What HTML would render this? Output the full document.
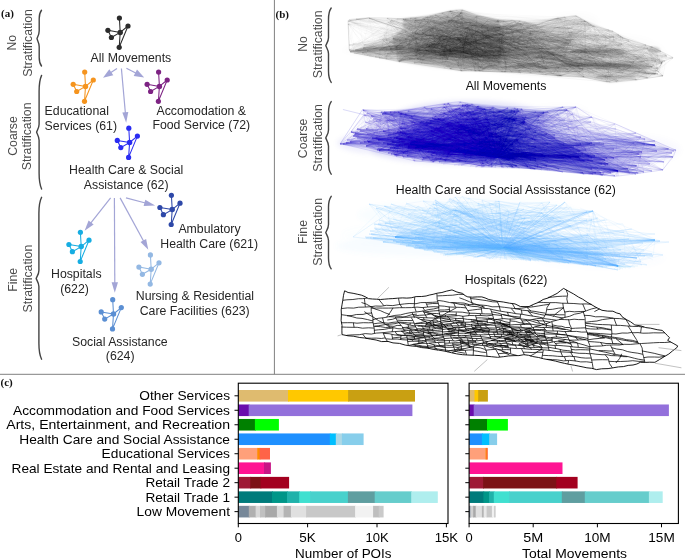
<!DOCTYPE html>
<html><head><meta charset="utf-8"><title>figure</title><style>html,body{margin:0;padding:0;background:#fff;width:685px;height:558px;overflow:hidden;}svg{display:block;will-change:transform;}text{font-family:"Liberation Sans", sans-serif;}</style></head><body>
<svg width="685" height="558" viewBox="0 0 685 558"><rect width="685" height="558" fill="#fff"/><line x1="274.4" y1="0" x2="274.4" y2="374.3" stroke="#808080" stroke-width="1"/><line x1="0" y1="374.3" x2="685" y2="374.3" stroke="#808080" stroke-width="1"/><defs><filter id="bl3" x="-10%" y="-30%" width="120%" height="160%"><feGaussianBlur stdDeviation="2.5"/></filter><filter id="bl1" x="-10%" y="-30%" width="120%" height="160%"><feGaussianBlur stdDeviation="1.2"/></filter></defs><g filter="url(#bl1)"><path d="M403.0 29.0L403.0 19.0L427.0 17.0L450.0 11.0L462.0 10.0L477.0 15.0L498.0 20.0L520.0 21.0L537.0 25.0L557.0 18.0L576.0 16.0L592.0 25.0L570.0 40.0L565.0 55.0L600.0 62.0L640.0 68.0L655.0 75.0L636.0 80.0L610.0 83.0L584.0 77.0L558.0 76.0L531.0 73.0L505.0 72.0L461.0 71.0L420.0 65.0L399.0 61.5L352.0 53.0L375.0 42.0L392.0 38.0Z" fill="#000" fill-opacity="0.07"/><path d="M403.0 29.0L403.0 19.0L427.0 17.0L450.0 11.0L462.0 10.0L477.0 15.0L498.0 20.0L505.0 40.0L500.0 66.0L461.0 70.0L420.0 64.0L399.0 61.0L392.0 38.0Z" fill="#000" fill-opacity="0.12"/><ellipse cx="598" cy="51" rx="28" ry="2.2" fill="#000" fill-opacity="0.25" transform="rotate(0 598 51)"/><ellipse cx="605" cy="65.5" rx="45" ry="2.5" fill="#000" fill-opacity="0.25" transform="rotate(2 605 65.5)"/><ellipse cx="615" cy="77" rx="20" ry="2.5" fill="#000" fill-opacity="0.15" transform="rotate(0 615 77)"/><ellipse cx="654" cy="50" rx="6" ry="3" fill="#000" fill-opacity="0.2" transform="rotate(0 654 50)"/><ellipse cx="470" cy="55" rx="60" ry="3" fill="#000" fill-opacity="0.12" transform="rotate(0 470 55)"/><ellipse cx="380" cy="49" rx="25" ry="2.5" fill="#000" fill-opacity="0.2" transform="rotate(-5 380 49)"/></g><g filter="url(#bl3)"><ellipse cx="452" cy="42" rx="72.0" ry="25.6" fill="#000" fill-opacity="0.036" transform="rotate(0 452 42)"/><ellipse cx="455" cy="52" rx="64.0" ry="8.0" fill="#000" fill-opacity="0.024" transform="rotate(0 455 52)"/><ellipse cx="530" cy="60" rx="40.0" ry="16.0" fill="#000" fill-opacity="0.012" transform="rotate(0 530 60)"/><ellipse cx="610" cy="55" rx="56.0" ry="20.8" fill="#000" fill-opacity="0.012" transform="rotate(0 610 55)"/><ellipse cx="610" cy="66" rx="56.0" ry="4.8" fill="#000" fill-opacity="0.018" transform="rotate(0 610 66)"/><ellipse cx="590" cy="51" rx="32.0" ry="4.8" fill="#000" fill-opacity="0.008" transform="rotate(0 590 51)"/><ellipse cx="378" cy="50" rx="35.2" ry="4.8" fill="#000" fill-opacity="0.016" transform="rotate(0 378 50)"/><ellipse cx="575" cy="22" rx="24.0" ry="9.6" fill="#000" fill-opacity="0.01" transform="rotate(0 575 22)"/><ellipse cx="530" cy="68" rx="48.0" ry="6.4" fill="#000" fill-opacity="0.014" transform="rotate(0 530 68)"/></g><path d="M348.0 20.8L349.2 19.5L368.9 17.6L403.0 18.7L426.7 16.8L450.3 10.8L462.2 9.7L476.6 15.5L497.6 19.5L520.0 20.8L536.5 24.7L557.5 18.1L576.0 15.5L591.7 24.7L612.7 31.3L623.2 37.8L652.1 47.0L673.2 57.5L662.6 61.5L657.4 70.7L662.6 76.0L636.4 79.9L610.0 82.5L583.8 77.3L557.5 76.0L531.3 73.3L505.0 72.0L461.0 70.7L399.0 61.5L350.5 52.3L349.2 49.7Z" fill="none" stroke="#000" stroke-opacity="0.15" stroke-width="0.6"/><g fill="none" stroke="#000" stroke-opacity="0.03" stroke-width="0.5"><path d="M430 49L481 56M548 68L484 42M540 53L605 78M443 51L471 43M412 32L420 47M544 53L413 34M493 36L524 58M493 36L446 33M582 21L613 75M495 56L448 51M473 33L458 37M431 43L465 29M584 77L542 29M523 35L406 36M414 52L461 12M495 56L506 51M375 54L407 60M485 37L505 72M617 64L580 48M460 49L419 55M552 73L623 38M412 32L463 55"/><path d="M487 35L415 56M435 29L418 40M434 26L457 52M414 52L386 56M663 62L634 51M421 38L440 30M404 47L453 61M483 51L470 29M458 50L468 54M424 54L471 43M423 18L462 27M432 45L438 33M490 40L552 39M441 66L419 55M462 38L462 10M466 58L463 49M409 26L426 50M458 50L413 34M426 40L390 52M444 52L582 64M595 52L582 64M499 70L566 55"/><path d="M459 26L414 52M483 51L446 57M446 30L453 61M496 50L435 55M383 48L401 52M450 38L443 35M548 68L555 55M490 38L438 33M526 37L483 70M444 56L479 31M427 17L490 59M424 38L396 21M544 75L591 54M510 60L367 51M462 27L583 65M351 51L430 32M579 23L552 39M446 54L548 52M425 24L481 56M564 28L441 52M464 46L417 26M426 51L431 43"/><path d="M450 39L493 29M593 58L520 68M409 36L410 47M483 70L471 43M483 51L552 73M592 60L518 23M448 60L373 49M439 23L467 43M435 55L465 41M462 48L489 35M429 35L499 70M508 44L607 66M519 72L529 24M393 43L385 50M595 52L499 37M436 58L424 54M400 50L410 56M534 69L556 69M469 39L462 38M506 56L540 24M508 39L493 29M502 50L576 16"/><path d="M492 52L503 70M530 69L610 82M538 27L530 68M441 52L468 28M470 34L607 66M506 56L555 55M483 51L497 66M419 50L421 39M408 48L367 51M463 51L483 51M542 29L499 40M454 31L459 26M457 45L452 53M506 51L441 52M493 36L490 43M447 42L384 35M454 31L382 39M474 44L465 41M572 33L497 66M424 54L443 35M521 38L494 38M399 49L409 36"/><path d="M572 65L558 76M425 24L484 42M418 40L396 47M612 62L592 60M545 61L493 36M495 59L505 72M617 39L446 54M452 53L470 34M481 67L446 58M409 44L462 35M432 48L471 71M443 35L458 50M446 54L415 49M444 25L525 54M515 56L521 38M492 44L474 42M457 27L462 27M438 46L450 39M529 69L490 56M470 47L454 31M417 50L474 42M409 26L497 47"/><path d="M421 53L431 52M440 40L423 18M426 30L508 39M609 63L617 39M454 31L446 23M406 49L406 47M441 52L474 44M360 49L422 45M479 60L463 51M530 57L654 74M531 73L448 34M554 63L594 27M471 45L446 35M421 39L482 33M483 51L490 38M424 38L431 59M415 49L461 47M490 64L544 57M468 28L607 66M349 20L427 26M507 71L525 42M441 45L384 35"/><path d="M467 43L400 34M450 54L476 42M604 46L617 67M506 51L412 32M478 20L423 18M475 58L463 49M595 52L620 49M463 39L549 22M465 49L483 46M432 27L425 24M486 36L634 51M593 66L583 74M428 53L439 53M575 66L523 35M409 26L407 28M485 31L530 57M436 58L518 69M439 51L382 39M421 36L487 35M441 52L474 49M545 61L506 53M604 46L623 38"/><path d="M385 57L432 27M409 36L444 56M555 55L623 54M469 28L490 64M506 51L519 41M433 20L462 22M431 52L523 35M460 12L500 48M579 23L572 33M410 47L429 35M482 33L490 64M438 46L525 42M444 50L492 44M410 47L406 47M446 33L415 56M465 29L452 11M433 27L433 28M444 56L441 66M399 49L478 20M446 58L497 66M458 50L441 52M466 58L485 37"/><path d="M451 52L444 52M444 52L509 68M441 66L497 47M444 50L462 10M419 55L428 47M593 58L471 71M473 33L379 39M444 50L414 52M499 65L508 44M463 51L421 33M379 39L467 43M506 69L509 68M443 51L503 72M351 51L557 60M548 68L564 65M505 40L453 61M465 41L491 54M530 68L520 21M484 42L509 43M468 54L473 33M530 59L558 73M349 50L413 34"/><path d="M367 51L401 52M470 34L490 63M506 69L384 32M506 53L471 43M497 41L462 38M479 31L542 29M502 51L541 57M497 66L503 70M555 55L508 44M382 50L497 47M485 31L448 51M431 52L425 31M470 62L504 29M367 51L423 56M508 39L524 58M583 65L478 20M372 36L434 20M468 54L467 43M488 20L515 56M483 70L475 42M499 70L510 60M441 45L437 48"/><path d="M595 52L613 31M399 49L457 52M524 55L481 56M574 65L505 72M452 53L468 28M403 19L432 27M475 58L457 52M582 64L574 65M495 56L543 74M506 69L437 66M396 47L475 58M399 49L422 45M452 11L464 46M424 38L544 53M470 47L530 59M421 36L425 31M421 33L399 52M497 34L492 44M417 26L493 29M432 45L444 50M419 50L413 34M557 60L478 49"/><path d="M507 71L473 36M477 35L485 37M482 33L439 51M474 49L446 58M469 39L467 43M419 55L461 71M490 63L477 35M533 70L620 49M533 70L474 49M400 50L379 39M532 37L517 68M447 42L462 27M564 28L439 56M452 50L462 35M441 52L423 56M495 61L483 70M426 51L421 38M530 68L519 72M441 52L396 47M430 32L398 53M457 52L607 34M634 43L584 65"/><path d="M483 51L458 37M408 48L503 21M496 50L497 41M521 38L574 65M349 50L390 52M440 44L414 52M400 50L463 39M530 35L497 47M507 71L490 59M426 40L430 32M443 17L452 50M418 40L384 35M519 72L511 71M439 51L529 67M517 68L530 57M571 67L542 29M538 43L474 44M509 68L484 65M579 50L525 54M471 43L444 56M444 52L477 22M421 53L419 50"/><path d="M500 48L471 71M474 44L470 22M463 39L457 45M406 36L471 43M414 52L477 17M628 62L466 58M590 69L507 71M620 49L617 43M421 38L475 42M612 43L504 52M475 42L483 70M397 52L397 61M444 40L501 40M446 36L427 26M426 51L458 50M424 54L462 22M490 47L533 70M452 52L488 20M431 52L426 50M646 69L617 67M448 51L434 20M511 71L452 53"/><path d="M491 54L489 28M609 63L513 30M450 38L495 59M484 65L450 39M411 41L433 64M420 47L390 59M495 56L530 59M452 53L451 52M625 77L596 69M448 34L428 47M432 45L415 49M530 59L517 46M524 55L504 52M484 42L530 68M544 53L509 68M426 30L433 28M530 68L579 50M499 65L481 24M462 10L480 24M477 22L443 17M642 65L530 59M425 24L499 70"/><path d="M495 59L507 67M597 65L610 80M474 44L457 45M500 48L497 34M647 52L617 43M426 48L493 29M448 34L463 39M452 50L463 39M544 64L603 46M525 54L484 42M457 40L441 52M495 56L524 55M422 45L446 58M511 71L503 67M457 40L483 70M597 65L499 40M483 51L405 32M490 59L443 35M515 56L554 63M454 50L461 71M440 30L461 12M399 49L397 61"/><path d="M521 38L450 54M406 47L395 47M524 28L519 40M472 57L462 35M385 50L364 33M408 48L420 47M517 68L623 38M470 22L448 34M507 67L463 62M434 26L562 27M452 53L424 64M446 54L471 43M362 42L400 43M399 52L428 46M431 59L446 54M493 29L432 48M437 48L426 51M457 27L482 33M372 47L349 50M540 53L584 35M364 55L360 20M424 38L519 72"/><path d="M446 35L472 57M503 72L390 52M486 36L457 27M418 40L442 23M620 45L552 45M508 44L499 40M454 31L470 62M446 58L438 46M486 36L488 20M499 37L426 40M485 37L470 34M424 54L446 58M490 56L483 70M426 51L479 60M399 49L424 38M370 47L364 55M520 68L548 52M424 54L469 29M417 50L483 51M518 23L505 40M508 44L511 71M531 73L612 43"/><path d="M457 52L617 43M443 35L448 34M509 43L607 34M420 47L358 43M491 21L411 36M498 20L497 34M458 50L463 49M595 52L563 27M452 52L486 36M444 50L397 52M477 22L462 27M628 62L617 43M469 45L472 57M444 50L508 39M661 52L655 76M439 51L383 48M426 51L383 48M463 52L443 51M470 34L462 38M524 55L469 28M415 56L385 57M480 24L496 50"/><path d="M364 55L396 21M439 53L409 44M483 46L563 27M476 42L470 47M481 67L427 26M530 68L524 67M450 54L478 45M558 76L492 61M443 17L450 11M658 54L623 54M414 52L399 49M421 53L399 49M609 50L628 48M405 57L433 28M482 33L477 35M502 62L463 39M445 62L433 64M385 58L390 59M431 59L495 61M548 52L530 68M525 42L511 71M556 69L576 16"/><path d="M474 42L467 43M457 45L558 73M502 50L463 49M444 52L441 52M487 35L417 26M447 42L542 29M465 63L432 39M385 58L421 36M399 62L443 17M495 56L441 45M533 70L483 51M465 49L446 58M477 35L419 55M396 47L372 36M470 22L477 16M439 56L450 39M544 64L463 62M475 42L523 53M367 51L404 47M642 65L564 65M650 61L673 58M646 69L434 26"/><path d="M439 53L494 38M410 56L401 52M441 45L465 66M422 45L406 41M432 48L432 45M448 27L465 25M450 54L412 32M432 48L465 29M548 68L505 72M511 71L592 25M396 47L507 71M529 69L503 67M511 71L490 38M444 56L524 58M474 42L471 45M452 50L392 42M440 30L435 29M617 67L518 23M385 50L421 33M495 56L503 67M458 50L433 28M496 27L435 29"/><path d="M431 52L531 26M478 45L446 54M428 47L415 49M454 31L426 40M519 72L463 44M382 50L412 32M396 47L428 47M372 47L400 50M554 63L612 43M506 56L506 53M620 67L615 35M408 48L390 59M443 35L448 60M533 70L541 68M383 39L404 47M401 52L462 48M590 69L529 67M465 25L482 33M446 35L432 45M463 62L446 58M507 67L525 68M575 66L503 67"/><path d="M489 28L594 27M469 29L497 66M469 45L492 61M426 50L444 56M507 71L524 67M393 53L369 18M452 53L487 35M478 45L541 68M459 26L470 22M367 51L392 42M533 70L508 39M509 43L524 67M463 21L636 46M424 54L421 38M524 28L478 45M446 35L449 24M360 51L397 52M454 50L502 62M452 53L385 50M633 65L636 80M644 57L603 46M405 32L426 30"/><path d="M617 67L612 62M364 55L411 36M426 50L484 42M358 43L399 52M554 63L401 52M530 69L408 23M475 42L499 70M446 30L515 56M463 52L497 34M470 22L454 31M504 29L452 23M477 22L628 62M599 48L596 69M580 48L592 60M426 48L463 52M503 21L463 39M396 47L409 36M446 33L430 49M648 61L605 39M468 54L463 49M471 43L473 33M479 60L440 18"/><path d="M444 52L583 60M563 27L415 34M397 61L418 40M470 22L406 47M473 58L593 58M620 45L628 62M466 58L452 53M575 66L490 38M506 69L386 56M617 64L558 76M525 68L426 51M572 65L530 26M457 27L446 57M441 45L468 59M450 39L450 38M367 51L409 44M411 41L423 18M515 56L490 56M524 55L483 70M611 64L590 69M484 65L503 67M483 51L460 12"/><path d="M413 34L497 34M593 59L463 44M426 51L426 50M524 67L490 59M505 40L439 51M444 52L411 36M390 52L350 52M413 34L399 49M580 48L503 21M450 38L446 23M544 64L601 28M422 45L439 53M491 54L448 34M439 53L452 53M541 67L525 54M427 26L407 28M396 47L521 38M483 51L625 77M393 48L490 40M456 26L423 18M413 34L480 24M444 40L457 52"/><path d="M461 68L490 63M452 52L411 36M511 71L440 44M405 32L428 53M403 19L429 29M474 49L471 71M440 44L423 18M466 58L493 29M469 28L502 51M443 51L407 60M463 52L452 50M432 39L557 19M485 31L493 29M458 50L431 52M439 23L445 62M496 50L519 41M405 57L424 38M536 25L552 20M463 51L501 40M491 21L519 40M499 65L497 34M533 70L562 27"/><path d="M446 58L440 40M426 30L421 33M501 50L534 46M497 41L549 22M530 68L461 71M503 21L482 33M540 53L577 19M444 52L506 53M524 28L519 40M440 40L506 53M375 54L369 18M396 47L529 24M383 39L537 65M431 43L499 65M432 45L532 37M530 57L506 72M463 55L452 50M465 29L444 56M484 42L579 23M385 50L392 42M553 53L652 47M446 30L463 21"/><path d="M462 35L457 27M603 46L610 82M468 28L463 49M477 35L433 28M407 60L498 20M465 49L509 43M648 61L529 67M478 45L441 45M470 22L517 46M483 46L478 45M524 55L431 59M400 43L457 52M471 45L466 58M544 60L533 70M626 66L603 46M490 43L465 41M495 61L540 53M458 37L451 11M490 59L465 63M487 27L497 47M471 43L435 29M410 47L439 53"/><path d="M432 16L405 32M533 25L579 23M360 49L460 12M468 54L458 37M518 69L398 53M500 48L441 52M647 52L599 48M489 35L458 37M509 68L540 24M419 50L446 35M617 69L623 54M490 47L645 61M554 63L618 42M441 45L462 35M444 50L428 53M525 68L517 46M496 27L466 58M490 47L456 26M449 24L452 23M451 52L492 44M434 20L440 44M457 40L485 31"/><path d="M537 65L554 63M492 44L508 39M441 66L492 61M473 36L462 27M461 47L446 57M451 52L450 38M469 45L409 36M414 52L423 18M458 37L432 45M426 51L419 55M461 47L451 11M454 50L554 63M452 52L443 35M418 40L468 28M426 51L506 72M444 56L379 39M495 56L420 47M462 35L465 29M484 65L584 35M450 54L479 31M432 45L409 36M549 72L544 57"/><path d="M441 52L469 28M433 20L396 21M426 48L424 54M465 63L452 50M553 57L523 35M428 53L412 32M399 49L439 51M592 60L617 67M397 61L386 56M415 49L492 52M530 35L452 11M477 35L497 34M431 43L457 45M435 29L463 39M454 50L544 75M548 52L462 27M432 39L396 21M490 64L462 43M597 65L461 68M597 65L634 43M603 31L591 54M419 55L421 39"/><path d="M473 36L473 58M510 60L433 20M360 51L446 54M397 52L435 55M459 26L350 52M430 59L495 61M490 47L478 49M426 40L544 64M490 63L524 28M426 51L492 61M469 39L477 35M452 52L403 19M419 50L385 57M446 35L463 44M544 57L526 37M397 52L392 42M495 56L505 72M430 32L465 29M499 65L461 71M472 57L487 27M489 28L465 29M458 50L446 35"/><path d="M430 49L530 69M530 68L530 57M502 51L426 51M446 30L456 26M593 66L483 46M426 48L434 26M452 52L397 52M423 56L412 32M431 52L552 45M421 38L453 61M457 40L477 16M524 67L657 71M382 50L400 50M625 40L592 25M405 32L450 11M470 22L499 37M492 52L595 52M493 29L465 41M519 41L397 61M490 47L596 69M429 35L411 36M517 46L441 45"/><path d="M419 50L399 52M444 50L461 12M459 26L485 31M406 49L463 39M444 52L506 56M440 40L428 53M642 48L639 50M420 47L401 52M465 22L452 53M601 28L673 58M520 68L505 40M501 50L477 22M626 66L583 74M462 31L465 25M477 35L497 41M429 35L477 17M448 51L452 50M440 40L400 50M515 56L603 46M577 19L583 74M469 29L448 51M596 69L645 61"/><path d="M506 51L540 53M495 56L511 71M490 40L431 52M417 50L553 74M617 69L598 30M472 57L444 52M407 60L475 42M469 45L463 44M426 51L503 67M421 39L450 54M428 46L432 39M433 20L432 39M484 42L503 67M599 48L617 39M480 24L475 42M530 59L533 70M490 40L485 31M471 45L465 41M450 38L415 56M427 17L414 52M518 23L497 41M491 54L406 41"/><path d="M459 26L469 29M663 62L509 43M435 55L407 28M443 51L609 63M420 47L442 23M465 29L505 40M432 16L448 60M426 50L450 54M529 67L452 53M607 66L490 43M385 57L450 11M351 51L444 52M424 38L446 54M544 60L532 37M460 49L506 69M382 50L432 45M529 67L540 53M481 24L470 47M454 50L471 43M452 50L463 51M463 51L462 10M544 53L483 46"/><path d="M462 10L460 49M452 23L450 39M625 66L598 30M588 59L571 67M639 50L463 39M509 68L521 38M629 67L617 69M557 60L477 16M436 58L412 32M545 61L444 50M411 41L483 46M599 48L439 56M530 59L530 68M438 46L415 56M417 50L448 60M458 37L475 42M432 45L473 36M454 50L419 55M409 44L393 53M422 45L440 40M429 35L440 40M370 47L457 45"/><path d="M490 43L483 46M485 37L420 47M431 52L461 68M502 51L481 67M534 69L415 56M400 50L452 52M505 72L520 21M413 34L469 39M382 39L358 43M463 51L468 54M477 22L437 66M506 72L424 38M398 53L441 45M435 29L465 41M533 70L553 74M490 40L463 44M450 39L465 63M463 49L476 42M466 58L443 51M399 49L409 44M463 49L490 64M364 55L463 51"/><path d="M575 22L557 60M491 21L454 50M543 73L541 57M428 46L399 52M437 48L479 31M574 65L584 65M501 50L432 16M658 54L636 76M469 39L497 41M446 33L530 69M401 52L467 43M607 66L506 53M395 47L415 56M500 48L423 18M399 49L461 47M462 31L444 50M529 67L496 27M490 64L463 51M417 50L430 49M517 68L654 58M386 50L408 29M451 52L452 53"/><path d="M525 54L529 69M467 43L440 18M495 56L499 65M469 39L595 52M552 73L534 46M438 33L448 34M644 57L617 64M465 41L415 34M495 59L461 47M386 56L499 70M435 55L446 58M421 53L397 52M450 39L483 51M424 38L463 39M473 33L478 45M446 58L457 40M407 60L497 34M490 47L583 74M558 18L579 44M400 50L406 47M475 42L520 21M473 58L481 67"/><path d="M448 27L440 30M370 47L397 52M406 49L413 34M477 35L430 32M431 52L457 27M483 51L541 67M495 56L441 52M524 67L426 50M639 50L623 54M463 55L468 59M465 49L650 61M463 44L462 10M417 50L524 67M383 39L429 29M541 68L648 61M448 34L456 26M426 51L444 40M540 53L530 68M462 31L536 25M596 69L642 48M403 19L450 38M475 58L481 67"/><path d="M509 68L409 44M446 30L424 54M544 75L427 17M426 30L462 35M609 63L483 51M468 54L463 52M645 61L650 61M468 54L408 29M430 32L462 31M444 40L440 18M398 53L396 47M490 63L490 40M506 53L655 74M571 67L537 65M431 43L463 21M501 50L475 42M553 53L561 74M429 29L446 23M410 47L407 60M548 68L523 35M498 20L483 70M429 35L422 45"/><path d="M458 50L450 38M509 68L524 55M426 40L417 50M481 56L517 46M490 59L469 45M461 47L506 53M476 42L470 62M520 68L642 65M506 72L483 46M500 48L465 49M435 55L373 49M462 31L459 26M477 35L526 37M475 58L468 54M410 56L433 27M420 47L418 40M540 24L434 26M607 66L645 61M506 56L494 38M444 40L448 34M462 38L484 42M421 39L383 48"/><path d="M491 54L483 46M408 23L428 47M510 60L553 53M502 51L405 32M519 72L513 30M391 48L399 49M618 42L658 75M386 56L423 56M458 50L463 62M647 52L483 51M493 36L494 38M495 61L487 27M534 69L524 58M633 65L605 39M521 38L426 51M538 43L511 71M586 66L520 21M415 49L440 30M446 33L563 27M411 36L396 21M448 34L521 38M349 50L386 50"/><path d="M462 35L450 38M477 16L452 50M442 23L457 45M399 52L414 52M421 38L530 69M465 25L572 33M543 73L530 59M457 45L454 31M628 48L634 51M582 21L521 38M430 59L446 58M424 64L445 62M412 32L607 66M474 42L470 47M457 27L469 39M648 61L609 50M602 59L555 55M461 47L503 21M439 53L582 21M474 49L448 51M448 34L403 19M584 43L595 79"/><path d="M470 62L598 30M431 59L432 45M421 53L444 52M386 50L449 24M421 39L452 11M591 54L601 28M476 42L405 32M473 36L428 53M552 39L584 43M428 53L348 21M421 53L454 31M485 37L452 52M432 39L497 66M422 45L382 50M491 21L587 23M490 47L432 27M448 34L444 52M609 50L598 30M468 54L587 23M496 50L498 20M587 23L531 73M633 65L634 51"/><path d="M439 53L466 58M400 50L492 61M408 23L432 27M584 65L543 73M428 46L541 67M452 52L456 26M349 50L372 36M450 54L411 41M508 44L498 20M611 64L605 39M457 45L446 33M595 52L552 39M448 27L446 54M429 29L468 54M593 59L597 65M349 50L465 66M450 11L530 68M443 51L446 36M508 39L541 68M458 50L444 50M506 53L541 67M446 35L386 50"/><path d="M529 24L512 23M462 31L432 39M465 49L454 31M444 25L504 52M373 49L443 51M472 57L542 29M462 27L490 38M450 54L508 39M426 51L430 49M461 65L461 68M472 57L592 60M446 33L502 50M473 36L474 49M468 54L382 50M427 26L408 29M440 30L458 50M530 35L533 70M430 59L410 47M424 54L392 42M505 72L530 57M473 33L460 49M446 57L445 62"/><path d="M612 62L605 78M611 64L612 62M530 68L552 39M462 48L465 63M628 48L636 80M426 51L408 29M446 57L625 40M438 33L437 48M629 67L628 40M517 46L529 67M400 34L413 34M474 49L446 58M584 35L553 57M384 35L400 50M399 62L426 30M444 40L477 22M515 56L495 56M612 62L634 51M432 45L411 36M617 67L490 64M409 36L399 52M519 40L601 28"/><path d="M445 62L446 57M459 26L473 33M441 52L493 36M497 66L384 35M488 20L520 21M495 61L462 43M588 59L584 35M422 45L429 29M642 48L557 19M648 61L572 33M428 53L439 53M483 46L469 45M426 51L425 24M422 45L464 46M415 56L398 53M468 54L490 56M508 44L534 46M530 69L465 22M467 43L446 33M408 48L490 38M409 26L494 38M507 67L558 76"/><path d="M599 48L519 41M463 55L426 40M634 51L636 76M426 48L385 50M525 42L447 18M415 34L476 42M474 49L495 59M582 24L613 31M434 20L432 39M442 23L502 62M553 74L512 23M487 27L480 24M373 49L395 47M475 42L423 56M351 51L432 45M446 57L386 50M544 60L523 35M458 37L399 52M490 47L462 22M609 63L580 48M461 47L474 44M465 25L429 29"/><path d="M419 55L415 34M430 32L427 17M576 16L564 28M468 28L451 52M497 47L500 48M459 26L511 71M444 52L395 47M483 51L495 59M410 56L490 47M469 28L469 29M593 59L529 24M582 64L534 46M607 66L613 75M432 27L421 38M524 58L499 65M483 51L424 54M444 50L452 52M370 47L540 24M593 59L553 74M544 64L584 77M582 24L410 47M555 55L652 47"/><path d="M406 49L367 51M446 36L470 34M461 12L426 40M441 45L518 69M450 54L419 50M461 71L465 41M443 35L504 52M477 35L438 46M409 26L392 57M469 39L475 42M434 26L409 44M590 69L612 62M448 34L440 30M410 47L462 22M509 43L566 55M484 42L471 71M491 54L421 39M446 58L554 63M508 39L456 26M421 33L451 11M463 21L393 43M406 47L349 50"/><path d="M552 39L519 72M469 39L456 26M607 66L503 67M398 53L483 51M492 61L543 73M426 51L444 40M465 66L491 54M439 56L461 47M524 55L534 69M439 56L411 41M506 51L508 44M533 25L584 65M584 43L507 67M500 48L490 47M432 39L493 29M399 52L469 39M427 26L421 38M426 51L470 34M420 47L440 44M519 40L520 68M444 52L375 54M501 40L461 12"/><path d="M424 38L451 52M464 46L478 45M443 35L414 52M431 43L439 53M399 49L417 26M435 55L447 18M617 67L579 50M427 17L412 32M479 31L488 20M520 68L490 59M422 45L386 50M501 50L544 53M628 40L584 35M469 45L440 40M491 54L491 21M474 49L434 26M617 67L517 46M481 56L463 44M384 32L588 59M432 45L419 55M458 37L465 49M462 38L506 53"/><path d="M497 66L426 30M393 43L390 52M396 47L448 34M447 42L462 27M444 52L442 23M506 53L404 47M452 53L439 53M463 62L473 58M431 59L443 17M469 45L450 39M454 31L446 30M534 46L542 29M564 36L523 35M464 46L508 39M605 41L642 65M493 29L588 59M487 27L490 38M395 47L415 49M509 43L544 60M506 56L463 51M400 50L467 43M399 49L384 32"/><path d="M590 69L557 19M471 43L454 50M468 54L431 52M440 44L399 62M491 54L542 29M647 52L642 48M462 43L426 51M533 70L502 50M426 50L404 47M446 23L475 58M393 53L446 54M540 24L424 64M457 52L644 57M393 53L499 70M583 65L617 67M406 36L463 52M430 49L421 36M544 64L431 43M452 52L463 51M490 47L437 48M485 37L490 56M462 22L477 16"/><path d="M579 23L444 52M544 53L647 52M450 54L409 36M448 34L460 49M411 41L463 21M452 11L553 57M448 51L405 57M446 30L384 35M609 50L549 72M479 31L409 26M415 34L431 43M501 50L523 35M468 54L406 47M524 58L574 65M496 50L453 61M440 40L418 40M425 24L439 23M462 22L450 39M428 53L444 52M475 58L414 52M504 52L579 44M463 55L605 39"/><path d="M554 63L541 57M406 49L521 38M431 59L468 59M386 50L466 58M390 52L437 66M446 54L475 42M463 44L540 24M457 45L396 21M511 71L446 23M524 58L579 23M423 56L430 59M483 51L503 72M417 50L419 55M468 54L492 52M444 50L415 56M446 36L415 56M463 39L465 41M473 58L457 45M524 67L510 60M452 52L407 60M437 48L450 54M461 47L409 44"/><path d="M452 52L503 67M490 38L495 61M524 67L542 29M438 33L444 56M475 58L520 68M650 61L634 51M428 47L396 47M617 67L601 28M405 57L397 52M617 69L471 45M572 65L506 51M518 69L530 59M519 72L518 23M530 57L423 18M444 50L603 31M490 47L499 70M423 18L448 60M443 51L463 51M431 59L432 39M450 38L504 52M477 35L406 36M465 66L482 33"/><path d="M428 46L652 47M620 67L612 62M396 47L391 48M525 54L438 46M502 62L538 27M465 49L466 58M393 53L430 49M491 54L519 72M468 59L508 44M410 47L447 42M465 29L473 58M524 67L524 58M463 55L475 58M444 52L510 60M454 50L448 27M444 52L457 45M444 56L451 52M423 56L440 40M500 48L511 33M462 35L393 43M484 42L511 71M385 57L427 26"/><path d="M474 49L499 70M430 32L426 40M472 57L490 64M405 57L498 20M426 50L495 61M431 52L462 27M541 68L582 21M446 33L458 37M497 34L500 48M406 47L397 61M620 45L633 65M557 60L466 58M418 40L548 68M406 47L452 23M426 51L413 34M399 49L349 20M465 22L460 12M399 49L458 50M428 47L459 26M462 35L432 27M454 31L448 51M478 45L531 73"/><path d="M386 56L435 55M428 47L431 43M463 52L506 53M439 56L457 45M406 41L410 56M618 42L599 48M497 47L506 51M423 56L426 51M431 43L446 33M432 39L468 54M423 56L408 48M495 56L502 50M430 49L444 52M432 16L497 47M574 65L530 68M483 51L457 40M506 51L515 56M500 48L499 37M458 37L398 53M468 54L458 50M481 67L411 41M597 65L475 42"/><path d="M579 50L615 35M450 39L418 40M426 48L392 42M463 51L481 24M572 65L646 69M430 49L448 34M492 61L499 40M460 49L470 62M617 67L663 76M444 52L454 50M468 54L463 51M452 53L421 36M427 26L502 50M411 41L430 32M468 54L444 52M490 63L444 50M444 52L392 42M364 33L420 47M426 40L465 25M461 71L452 53M396 47L419 50M438 46L459 26"/><path d="M502 50L477 17M425 31L429 29M431 52L430 32M496 50L524 67M450 54L483 51M617 64L625 66M620 67L597 65M563 27L548 52M481 56L544 75M419 50L461 47M393 53L421 36M468 59L483 51M444 50L447 42M532 37L400 50M552 39L538 43M462 22L483 51M463 39L490 64M583 74L610 82M409 26L428 47M437 48L368 20M556 69L379 39M383 48L432 39"/><path d="M530 26L496 27M462 35L469 45M459 26L541 68M497 41L470 47M372 47L360 49M450 11L427 17M433 64L435 55M441 45L465 29M506 53L435 29M540 53L521 38M503 72L506 72M434 26L463 52M489 35L515 56M490 47L538 43M439 51L448 34M456 26L470 22M483 51L473 58M432 45L450 11M582 21L543 74M411 36L466 58M390 52L465 63M508 44L408 48"/><path d="M490 43L479 60M427 17L493 29M517 46L459 26M468 59L473 33M605 41L609 63M465 66L473 36M351 51L441 66M419 50L490 59M421 38L384 32M474 44L490 43M490 43L584 43M450 39L435 29M508 39L506 72M462 22L487 27M393 48L390 59M449 24L426 40M448 34L496 27M432 16L421 53M477 22L426 51M426 30L625 66M443 51L425 31M461 47L430 32"/><path d="M444 40L446 36M446 23L533 70M440 18L446 57M433 27L423 18M458 37L421 53M406 49L477 17M639 50L655 74M525 54L446 57M471 45L392 42M545 61L617 64M446 23L438 46M401 52L405 57M421 39L519 41M500 48L519 40M461 47L436 58M490 43L462 31M465 41L473 58M508 39L572 65M593 59L597 65M486 36L506 56M462 48L451 52M541 67L584 77"/><path d="M520 21L472 57M431 43L417 26M470 62L446 33M428 47L443 17M395 47L477 35M524 67L639 50M415 49L396 47M478 49L520 21M414 52L524 28M471 71L460 49M443 51L452 52M541 68L500 48M450 39L494 38M580 48L663 76M554 63L591 54M448 34L499 70M490 47L392 57M448 34L433 64M446 35L364 33M492 44L492 61M399 49L432 45M413 34L439 53"/><path d="M512 23L529 67M430 49L421 33M483 70L524 55M530 68L483 46M446 30L430 49M468 28L439 51M462 43L471 45M423 18L430 59M557 60L572 33M463 55L450 54M351 51L490 63M504 52L506 51M463 55L395 47M452 50L431 52M452 52L425 31M432 48L441 45M431 43L460 12M441 45L452 53M463 44L444 56M450 38L415 34M537 65L542 29M364 55L470 47"/><path d="M483 51L519 40M473 58L491 21M452 50L480 24M410 56L538 27M471 43L471 71M520 68L543 74M457 40L590 69M489 35L444 56M400 43L400 50M458 50L502 50M479 31L490 64M439 23L440 44M395 47L465 25M492 52L429 29M508 44L393 43M503 70L482 33M390 59L437 48M439 56L382 39M468 54L409 26M405 32L443 51M644 57L596 69M439 56L506 56"/><path d="M618 42L564 65M525 42L524 28M444 40L506 56M579 50L587 23M393 48L406 41M382 50L384 32M421 36L494 38M457 52L467 43M457 40L439 23M446 36L439 51M468 28L428 47M541 68L409 36M564 65L490 43M426 30L440 18M483 51L475 58M426 30L457 40M629 67L661 52M496 50L481 24M626 66L604 34M415 56L446 33M398 53L370 47M474 49L487 35"/><path d="M548 68L519 72M453 61L490 40M351 51L408 23M593 66L552 39M492 52L463 52M502 50L483 51M564 65L452 23M479 31L452 50M460 49L497 41M492 44L515 56M444 50L500 48M564 65L555 55M465 49L525 54M470 34L483 46M390 52L396 47M479 31L444 52M428 53L446 23M452 11L421 33M410 47L474 42M483 51L495 56M440 44L579 50M490 59L468 54"/><path d="M433 28L390 52M461 47L442 23M426 51L399 52M617 67L461 12M421 36L441 52M518 23L506 51M432 45L428 53M505 40L543 73M432 39L443 35M558 73L586 66M468 28L508 44M461 68L421 53M443 35L513 30M463 44L558 18M451 52L430 49M602 59L613 31M552 39L574 65M460 49L503 72M437 48L458 37M605 39L612 43M462 38L503 21M444 25L415 34"/><path d="M432 48L428 46M493 36L486 36M525 54L432 48M390 59L431 52M443 35L446 33M503 21L538 43M432 16L443 51M424 54L395 47M440 44L434 26M454 31L497 34M444 52L421 36M399 52L446 57M446 36L434 20M410 47L561 74M462 48L444 52M465 41L397 52M593 66L610 80M426 30L462 10M470 62L457 52M491 54L433 64M453 61L544 57M540 53L427 17"/><path d="M582 24L558 18M430 59L452 23M540 53L467 43M457 52L462 48M479 31L504 52M597 65L593 58M556 69L536 25M404 47L609 50M490 64L452 23M461 47L438 33M465 49L431 43M406 49L429 29M443 51L462 10M457 45L457 40M393 53L436 58M647 52L628 60M658 54L646 69M658 54L576 16M406 36L468 54M628 40L655 76M466 58L450 39M613 75L596 69"/><path d="M421 39L468 54M544 57L501 50M399 62L433 27M486 36L506 53M446 57L504 52M470 62L463 52M545 61L558 76M424 38L465 66M468 59L456 26M492 44L405 32M530 57L511 71M410 56L430 59M457 52L428 46M375 54L393 53M444 50L549 22M470 47L490 40M390 52L385 58M499 40L628 40M475 58L477 35M386 50L396 47M444 56L490 47M406 49L408 48"/><path d="M476 42L430 32M446 36L430 59M431 52L448 51M430 32L400 43M497 66L526 37M629 67L633 65M502 62L490 59M468 28L497 34M481 67L549 22M557 19L508 44M491 54L524 67M593 58L610 80M428 47L433 64M482 33L472 57M492 44L471 71M446 33L477 17M473 58L439 53M453 61L438 33M524 67L607 34M441 52L452 50M408 48L504 29M457 45L450 54"/><path d="M448 51L432 16M483 46L451 11M533 70L524 58M580 48L661 52M425 31L463 62M470 34L430 49M481 67L477 17M491 54L415 49M469 29L543 74M437 48L463 39M490 56L471 43M437 48L485 37M444 40L439 23M537 65L580 48M439 51L462 38M458 37L444 25M439 51L444 56M541 68L421 36"/></g><g fill="none" stroke="#000" stroke-opacity="0.035" stroke-width="0.5"><path d="M663 62L665 61M536 37L524 67M581 44L581 19M417 51L479 56M389 42L451 20M415 18L498 48M591 61L462 18M479 56L571 42M613 31L502 72M484 57L410 18M622 70L618 68M542 39L482 69M473 25L379 53M442 56L379 58M475 25L466 28M628 53L606 37M569 44L558 76M606 37L637 80M526 47L533 25M578 67L586 49M637 80L606 46M415 33L364 45M587 53L634 62M519 24L661 51M598 53L546 75M623 38L610 77M530 31L569 44M667 56L390 21M478 27L415 20M583 69L559 65M547 69L461 13M499 57L565 64M498 21L431 52M452 20L454 26M397 19L484 43M482 25L420 60M636 80L434 51M511 39L524 44M662 63L658 69M562 41L573 39M540 72L534 64M521 30L449 50M644 55L511 39M363 48L454 26M598 53L519 44M658 69L585 21M510 50L644 55M607 69L589 74M561 19L554 60M578 67L585 51M500 27L533 25M536 25L580 72M561 56L584 77M513 36L534 64M528 27L657 71M561 19L587 53M541 46L561 76M657 71L656 61M586 49L486 56M591 25L599 35M457 23L448 59M579 66L656 74"/><path d="M580 72L585 65M479 56L500 55M569 44L543 47M447 17L460 16M386 59L525 51M450 69L505 39M414 22L526 47M451 13L559 60M470 47L465 57M589 74L576 16M362 53L379 58M531 33L514 42M435 23L511 39M349 45L429 46M349 20L581 44M505 72L514 32M566 39L518 43M572 32L648 49M415 44L363 48M503 43L438 42M663 62L599 61M465 39L500 55M447 17L424 44M397 19L429 46M451 13L572 61M457 16L518 69M528 43L652 67M614 37L552 54M606 77L623 73M476 43L579 66M429 46L463 37M647 78L673 58M499 34L520 21M565 64L519 24M390 49L427 17M435 15L467 37M585 65L649 74M562 41L581 58M623 38L511 26M493 68L414 63M464 69L482 69M415 20L414 22M507 28L559 60M498 21L648 49M468 42L456 57M648 49L592 25M391 20L433 35M495 31L497 41M599 35L475 64M415 18L450 11M542 58L541 46M440 41L458 63M502 72L511 45M495 31L525 22M521 30L573 39M559 68L486 60M606 55L519 64M446 46L387 18M593 58L543 47M606 55L424 44M519 44L622 54M391 20L422 60"/><path d="M663 62L592 25M500 55L415 44M541 46L476 43M465 39L399 41M562 76L559 68M511 72L541 70M661 51L642 58M442 13L390 49M417 33L409 28M559 60L583 70M500 27L386 59M540 72L558 18M557 27L565 17M594 26L525 54M500 51L465 39M569 44L447 17M443 54L486 56M415 20L534 64M559 76L481 55M544 32L475 64M403 19L434 51M525 22L499 52M348 21L417 33M449 50L482 28M483 34L516 61M519 64L620 71M458 63L466 42M422 60L429 47M399 62L430 16M482 28L460 16M652 67L661 51M417 33L415 20M546 75L656 59M350 51L475 71M442 13L420 60M511 45L500 51M586 49L528 43M609 55L658 69M572 32L570 28M436 35L447 17M518 38L558 72M415 20L393 39M546 75L578 67M424 19L518 49M525 22L499 57M355 50L417 51M440 59L540 72M511 29L512 32M518 23L587 53M499 34L546 68M527 47L561 56M431 52L484 57M414 22L482 69M656 59L621 37M641 62L503 26M425 17L454 39M427 17L484 43M482 28L461 19M466 22L503 26M501 36L456 21M552 54L525 22M618 68L613 31"/><path d="M470 47L474 34M658 69L587 53M354 53L350 52M438 42L410 51M466 42L433 28M503 32L499 57M514 42L488 62M663 76L466 22M493 68L415 18M565 17L531 40M454 39L424 19M515 21L513 36M369 56L416 50M416 52L417 33M393 39L390 21M421 63L554 55M418 59L350 51M466 22L519 44M631 76L581 19M581 58L606 46M511 45L521 30M622 54L559 76M540 38L430 21M541 62L482 71M451 69L535 64M581 19L495 31M542 58L461 71M613 36L597 72M554 55L541 70M501 42L460 16M501 36L476 43M415 20L475 71M652 67L634 62M552 54L528 27M500 51L498 21M658 68L531 33M534 64L511 39M641 62L637 80M439 49L586 49M466 42L518 49M653 65L464 69M424 19L451 11M510 50L417 51M429 46L536 37M417 59L414 22M606 46L563 48M572 52L663 62M662 63L601 47M599 35L562 41M611 64L531 40M524 44L619 35M409 28L430 16M572 52L646 72M499 34L493 27M565 64L607 69M418 59L511 72M596 64L629 41M585 65L554 55M503 35L500 27M561 56L579 66M348 21L442 56M530 31L646 45"/><path d="M407 45L621 37M507 28L465 32M486 37L505 64M465 39L519 24M416 56L416 50M515 21L558 72M498 48L511 72M565 64L629 41M531 73L429 47M657 71L658 69M452 20L461 13M663 76L606 77M636 80L588 23M435 23L452 20M572 32L586 49M470 47L446 46M463 52L456 21M622 70L655 74M511 39L559 68M613 31L561 19M367 55L557 27M457 29L470 47M482 69L571 42M481 55L481 31M451 69L349 20M417 33L415 18M649 74L558 76M442 58L503 43M559 68L528 27M610 77L559 76M500 51L475 53M661 51L498 20M568 70L526 53M588 36L559 76M588 23L559 60M656 59L449 50M501 42L493 68M558 72L500 55M647 78L519 24M604 62L607 69M405 19L468 42M422 30L499 52M526 47L461 71M568 70L527 47M512 32L518 43M465 39L463 37M386 59L348 24M452 20L447 17M480 71L436 35M435 15L465 57M604 57L598 53M543 23L519 64M393 38L511 39M578 67L584 77M512 20L429 47M488 62L487 38M505 72L581 52M647 78L673 58M594 26L528 43M591 25L648 78M440 41L479 71M562 41L448 21"/><path d="M460 15L461 35M427 17L393 39M611 57L542 58M477 16L565 17M416 52L415 44M355 50L417 33M430 16L482 25M379 58L445 39M649 64L652 67M451 11L436 35M500 27L499 52M503 32L543 47M354 53L447 67M635 56L441 47M390 49L460 15M466 52L415 33M526 47L546 75M583 70L601 47M414 63L461 19M440 41L349 45M469 29L484 43M390 49L559 68M518 49L451 13M544 44L450 11M499 52L511 45M405 19L449 50M430 35L379 50M613 31L486 56M561 56L646 72M421 63L391 20M596 64L576 16M619 35L525 54M573 39L622 44M461 19L466 22M417 59L461 13M543 23L499 57M665 61L571 41M463 37L399 61M591 61L623 38M571 41L573 39M546 75L541 46M518 31L475 71M433 28L362 53M570 28L430 21M521 73L492 47M482 71L499 57M561 76L611 57M483 34L367 55M417 59L461 13M531 73L475 53M414 22L386 59M405 39L629 41M442 13L619 35M391 20L547 69M611 57L623 38M542 39L663 56M461 19L440 55M434 38L451 69M527 47L379 50M558 68L511 45M547 69L521 65M552 54L498 48"/><path d="M446 46L379 58M566 39L584 77M594 26L647 78M565 17L439 37M591 25L594 26M514 32L637 80M673 58L552 54M635 56L497 41M454 26L510 50M569 72L516 61M634 62L565 17M657 71L585 21M460 16L387 54M579 74L525 54M622 70L663 76M447 17L546 75M442 63L466 42M528 27L652 67M475 25L389 42M476 40L465 57M498 48L458 63M493 68L512 32M591 25L566 39M471 41L435 15M658 74L514 42M511 26L463 37M513 26L629 41M501 42L464 69M656 74L606 46M435 23L482 69M511 45L572 52M578 33L438 42M595 78L662 63M475 64L391 20M662 63L658 69M562 41L584 77M549 49L546 69M649 64L595 78M448 59L429 46M449 50L528 27M422 60L468 42M479 56L535 64M658 68L648 49M549 49L498 20M466 28L389 42M355 50L430 35M561 56L606 37M606 77L592 25M521 73L461 71M363 48L415 33M583 70L543 23M379 50L349 50M369 18L610 77M646 45L516 69M634 62L606 55M386 59L364 45M531 40L505 39M543 23L511 39M638 59L658 56M417 59L434 38M594 26L635 56M511 39L505 64"/><path d="M449 50L525 22M466 28L448 22M446 46L468 42M658 68L658 69M465 39L484 43M490 55L511 72M507 28L638 59M518 69L475 71M454 39L480 67M505 62L503 43M564 57L613 31M462 48L451 20M364 45L475 64M558 76L527 47M542 58L559 76M451 13L451 11M649 74L606 46M584 77L562 76M450 55L640 72M434 38L599 35M409 59L536 37M425 17L442 13M403 19L409 28M572 32L606 77M571 42L558 76M578 33L564 38M435 23L416 56M635 56L546 69M445 39L476 40M436 35L431 52M519 64L580 72M579 66L511 72M531 73L572 35M541 46L515 21M433 35L450 11M484 43L454 26M641 62L648 78M475 25L545 58M427 22L462 48M521 30L644 55M416 52L390 21M363 48L407 45M349 50L397 19M598 53L526 53M518 38L564 57M622 44L576 16M546 69L607 82M476 43L500 51M667 56L620 71M655 74L579 66M463 52L554 55M665 61L466 52M596 64L559 76M461 13L449 20M595 39L613 36M656 59L564 57M663 76L653 65M558 72L579 74M461 71L505 64M609 55L588 68M486 56L456 10M429 47L416 52"/><path d="M457 16L399 61M391 20L439 37M558 68L619 35M388 22L407 45M535 64L528 27M583 69L528 43M522 33L495 31M481 55L442 13M528 27L503 43M409 28L442 63M572 52L621 37M570 28L457 23M410 51L513 36M448 21L442 13M512 20L505 52M544 44L531 73M503 35L505 52M519 71L598 53M484 69L559 65M422 33L613 36M448 22L559 60M493 27L495 31M527 47L585 21M362 53L387 54M448 21L599 35M430 35L415 18M449 20L390 49M622 54L536 37M521 24L463 37M409 28L572 61M348 24L416 50M614 37L572 35M641 62L415 44M659 72L527 47M663 56L469 29M481 31L415 20M561 19L580 72M537 43L652 67M362 53L449 20M460 41L486 60M524 67L451 11M578 33L566 39M516 69L531 44M449 50L480 67M610 77L614 37M507 28L596 64M583 70L483 34M584 31L557 27M438 42L466 52M422 30L479 71M559 68L544 32M463 52L515 21M367 55L356 19M566 39L466 22M503 21L511 39M435 15L457 23M461 13L442 55M495 31L422 30M481 55L405 39M492 47L482 25M545 58L578 33M458 63L475 71"/><path d="M498 20L561 19M466 28L536 25M405 39L349 45M656 61L350 52M656 61L581 19M467 37L475 71M367 55L480 71M457 23L410 18M562 41L511 72M652 67L349 45M519 44L541 62M658 56L622 70M609 30L498 48M562 41L546 68M585 51L511 72M572 61L580 72M519 64L614 37M367 55L349 45M403 19L458 63M570 28L522 33M554 55L451 20M486 37L525 51M559 60L636 80M621 37L564 57M559 60L597 72M503 35L649 74M520 21L481 55M540 72L482 28M540 72L525 51M591 25L658 68M521 73L512 32M667 56L656 59M510 50L522 36M493 68L564 38M442 58L541 70M462 12L456 10M465 32L588 23M635 56L659 72M422 60L493 68M583 70L527 47M578 67L606 77M503 21L583 70M569 72L526 47M430 16L458 63M583 69L462 48M661 51L588 68M595 78L537 43M545 58L511 45M598 53L618 68M450 69L537 43M663 76L647 78M348 24L475 71M440 41L462 12M421 63L409 41M511 26L584 77M436 35L604 62M350 51L353 44M586 49L598 53M522 36L558 72M634 62L540 72M596 64L618 81M503 35L514 42"/><path d="M587 53L379 50M441 47L462 10M525 54L570 28M476 47L526 47M440 55L430 35M503 26L644 55M498 20L475 71M399 62L409 59M666 55L653 47M593 58L572 61M576 16L525 22M348 21L484 57M562 76L585 65M363 48L379 50M387 18L442 55M379 58L474 34M585 21L570 28M498 21L541 62M486 37L484 57M599 35L629 41M497 41L491 66M421 63L547 69M637 80L604 62M416 56L559 76M393 39L447 67M440 59L441 47M451 11L354 53M559 65L583 69M479 56L469 29M604 57L598 53M481 31L466 22M573 39L503 26M622 54L571 41M611 64L610 77M576 16L611 57M434 51L389 42M656 74L658 56M602 79L656 74M634 62L443 54M482 25L514 42M466 28L454 26M554 60L546 75M607 69L634 62M460 15L462 10M505 39L561 56M572 61L541 70M648 48L663 76M349 45L399 61M500 55L503 26M387 18L570 28M623 73L585 51M581 44L415 20M429 46L514 42M445 39L387 54M591 61L525 22M564 38L580 72M495 31L562 76M562 76L505 62M435 15L390 21M589 74L581 52M623 73L581 19M589 74L604 57"/><path d="M470 47L353 44M456 57L458 66M462 48L492 47M513 26L477 16M652 67L656 61M414 22L348 21M554 60L579 66M476 40L451 13M544 32L512 32M657 71L434 38M483 34L463 52M353 44L480 71M399 61L462 18M613 36L546 68M501 42L519 71M498 48L648 49M457 23L422 33M578 33L543 23M461 13L442 13M595 78L471 41M662 63L646 45M465 39L475 71M415 33L478 27M652 47L562 41M646 72L583 70M561 76L490 55M572 35L614 37M499 34L562 41M656 61L644 55M561 19L521 24M511 47L588 23M473 25L409 59M482 71L503 32M415 20L524 67M614 37L620 71M511 26L451 20M421 63L462 45M424 44L462 48M595 39L621 36M499 34L537 43M476 47L611 57M614 37L592 25M503 26L527 47M495 31L511 26M619 35L557 27M659 72L663 56M546 68L501 36M450 11L466 22M449 50L456 57M638 59L563 48M543 47L597 72M659 72L663 62M442 55L477 16M663 76L658 56M481 55L520 21M434 51L469 29M541 46L521 30M454 26L475 53M634 62L480 67M424 19L666 55M434 51L546 68M364 45L610 77"/><path d="M486 37L466 22M568 70L609 30M516 69L435 15M448 59L456 57M656 59L530 31M403 19L595 39M663 56L618 81M646 45L622 54M559 68L536 37M418 59L466 22M646 72L647 78M505 52L422 30M497 41L528 43M576 16L440 41M390 21L429 46M606 37L598 53M480 67L475 64M409 28L513 36M399 61L474 34M646 45L656 71M497 41L514 32M564 38L613 31M569 72L465 57M561 76L483 34M646 45L620 71M559 68L486 60M610 82L398 61M546 69L430 35M658 68L652 67M440 55L631 66M493 68L511 26M451 20L448 21M457 23L449 20M505 72L531 33M353 44L354 53M540 38L569 72M619 35L571 41M449 20L440 55M375 57L393 39M598 53L369 18M486 37L619 35M585 21L606 37M519 64L349 20M440 55L434 38M584 31L542 58M552 54L618 81M375 57L350 52M658 56L450 11M513 36L440 55M591 61L606 46M416 52L469 29M476 47L546 68M390 21L581 58M518 49L436 35M429 47L473 25M409 59L416 50M436 35L416 53M493 68L399 41M537 43L498 21M518 69L547 69M635 56L663 62M409 41L431 52"/><path d="M610 77L581 19M565 17L566 39M656 61L667 56M661 51L658 69M607 82L593 58M621 37L463 37M414 63L416 50M379 58L367 55M665 61L481 31M636 80L622 54M440 59L502 72M540 38L420 60M481 31L441 47M363 48L418 59M415 18L390 49M535 64L435 15M666 55L554 60M482 71L565 64M461 19L648 78M505 62L451 13M622 54L604 57M662 63L652 67M607 69L636 80M462 18L458 66M588 68L547 69M518 69L518 38M369 56L434 51M565 17L482 28M447 67L484 57M429 47L521 30M511 45L521 30M559 65L481 31M596 64L414 22M627 51L576 16M598 53L611 64M658 56L512 20M461 35L454 26M554 55L539 48M512 32L459 39M440 55L431 52M618 68L513 26M440 41L490 55M524 44L500 55M531 44L456 21M542 39L558 68M500 27L498 21M475 25L460 15M397 19L456 10M661 51L631 66M573 39L542 39M363 48L399 62M498 20L393 39M481 31L585 65M440 41L435 23M591 25L543 23M461 13L415 33M387 18L434 51M429 47L558 76M525 51L519 64M461 71L572 61M461 71L499 52M442 58L521 73"/><path d="M461 71L460 53M656 71L655 74M558 72L546 75M417 33L379 58M544 32L526 53M363 48L462 10M364 45L433 35M596 64L591 61M479 71L476 43M497 41L511 29M448 21L440 59M405 39L393 39M514 42L451 13M486 60L479 71M562 41L492 47M599 61L578 67M505 39L527 47M658 74L606 77M459 39L662 63M435 15L461 71M491 66L430 16M522 36L435 15M667 56L606 46M399 62L375 57M474 34L498 48M511 26L480 67M480 71L580 72M416 50L454 39M482 69L525 54M543 23L531 44M393 38L386 40M479 71L403 19M597 72L420 60M541 46L503 21M646 45L631 66M459 39L562 41M579 66L593 58M531 73L491 66M513 36L460 16M539 48L500 51M537 43L456 57M495 31L430 35M439 49L393 39M649 64L572 32M497 41L457 23M466 42L480 67M648 49L573 39M637 80L541 70M448 21L606 37M501 42L531 73M644 55L539 48M512 20L569 44M637 80L399 61M565 17L522 36M520 21L415 44M522 36L466 22M486 56L405 39M466 52L379 50M478 27L544 32M516 61L536 25M546 68L451 11M525 22L491 66"/><path d="M422 33L511 29M647 78L465 39M460 15L427 22M518 38L565 64M449 20L522 33M451 69L491 66M399 62L398 61M498 21L521 65M484 57L618 81M606 55L458 66M561 19L541 46M422 30L451 69M465 32L524 44M403 19L391 20M449 50L505 64M525 51L580 72M460 16L393 39M367 55L415 18M475 53L460 41M545 58L606 55M439 49L476 47M417 33L505 72M536 37L462 18M646 72L581 52M409 41L433 28M554 60L549 49M647 78L618 81M429 47L581 58M649 74L653 47M465 57L499 57M656 71L623 56M474 34L393 39M648 49L409 59M482 71L405 19M558 18L649 74M656 71L554 55M451 20L461 71M399 61L466 22M498 20L458 66M427 22L434 38M436 35L429 46M475 71L418 59M607 69L604 62M456 21L518 49M623 73L456 57M601 47L622 54M655 74L588 68M561 56L604 62M482 71L462 45M527 47L557 27M497 41L591 61M454 39L481 55M569 44L457 29M663 62L465 57M585 65L658 69M440 55L524 44M482 25L501 42M511 26L519 71M461 71L450 69M461 19L409 28M410 51L451 11M434 38L618 68"/><path d="M481 55L490 55M558 18L516 69M466 22L429 47M623 73L454 26M476 40L481 55M415 18L439 37M599 35L518 49M430 16L448 21M528 27L482 25M505 52L409 41M618 81L571 42M606 55L606 37M613 31L448 22M561 56L511 72M658 68L609 30M607 82L662 63M447 67L505 39M531 33L568 70M518 49L430 21M515 21L495 31M579 66L397 19M559 65L473 25M457 16L480 67M354 53L446 46M405 39L390 21M580 72L573 39M562 41L448 22M478 27L467 37M558 76L644 55M409 41L452 20M599 35L447 17M487 38L502 72M583 70L623 73M516 61L465 39M348 24L460 15M379 58L379 53M430 21L497 41M462 12L591 25M439 37L417 51M479 56L457 16M540 38L488 62M350 51L500 28M541 62L481 31M355 50L363 48M533 25L497 41M481 31L546 68M387 18L434 51M450 69L451 20M554 55L552 54M531 40L566 39M457 29L416 50M554 55L642 58M462 48L541 62M542 39L531 40M450 55L493 27M407 45L559 60M424 19L446 46M581 58L631 76M471 41L500 27M417 51L470 47M466 22L350 52M451 11L399 41"/><path d="M543 47L564 57M450 11L475 25M581 58L531 40M503 26L473 25M475 64L476 43M491 66L585 65M544 44L511 72M515 21L457 23M405 39L435 15M462 18L520 21M594 26L573 39M537 43L493 27M405 19L543 23M558 76L499 52M584 77L528 43M430 35L503 26M534 64L660 60M537 43L507 28M622 54L452 20M424 19L449 50M443 54L500 28M653 47L620 71M541 46L554 55M492 47L444 68M505 62L498 21M531 33L481 55M440 59L521 73M614 37L609 55M454 26L543 23M459 39L468 42M554 55L586 49M355 50L433 35M424 44L521 24M648 78L526 53M417 51L461 71M516 69L662 63M558 18L417 33M409 59L648 49M580 72L512 32M525 54L462 48M594 26L516 69M450 55L449 20M450 55L417 59M554 55L535 64M652 47L599 61M656 74L554 60M581 58L545 58M649 74L652 67M530 31L525 54M581 52L561 19M476 43L478 27M518 31L503 35M429 46L429 47M456 10L583 70M499 34L618 68M571 42L521 73M558 68L637 80M475 25L467 37M519 64L490 55M606 77L656 71M499 57L450 11M525 54L591 25"/><path d="M631 66L646 45M463 52L465 39M607 69L648 49M458 63L473 25M375 57L462 45M430 21L499 52M512 32L475 53M661 51L606 77M448 59L424 44M431 52L584 31M386 59L418 59M521 30L518 31M505 39L638 59M581 52L588 36M660 60L578 67M465 32L531 73M606 55L657 71M466 28L535 64M484 43L405 39M511 47L498 21M613 36L623 38M417 59L572 32M405 39L457 16M449 50L398 61M546 69L558 68M440 55L447 67M440 41L387 54M648 48L565 64M505 64L649 74M655 74L623 56M528 43L481 31M518 43L421 63M490 55L503 26M478 27L658 69M493 68L546 69M549 49L648 78M518 38L463 37M503 21L572 52M546 68L592 25M492 47L440 55M528 27L389 42M462 12L500 28M661 51L667 56M663 62L611 57M505 64L572 35M479 71L475 25M652 67L656 61M554 55L482 69M498 21L572 61M565 64L562 76M646 45L459 39M667 56L604 57M522 36L514 42M648 49L541 70M505 62L466 52M416 53L440 41M634 62L609 55M638 59L499 52M484 57L614 37M466 52L595 39M498 20L466 52M524 44L484 57"/><path d="M587 53L595 78M588 23L521 30M518 31L528 27M646 45L592 25M628 53L653 65M601 47L513 26M498 48L505 62M583 69L503 43M475 53L457 23M658 74L415 18M531 73L599 61M427 17L450 69M450 11L456 57M405 19L397 19M460 16L511 45M505 64L475 71M599 35L652 67M656 59L611 64M502 72L422 30M525 22L571 42M466 22L475 71M514 42L521 65M476 47L427 22M502 72L475 71M463 52L474 34M609 30L558 72M348 24L477 16M584 31L581 52M518 31L571 41M540 72L572 32M661 51L609 55M546 69L505 52M572 32L610 77M501 36L526 53M438 42L415 33M604 62L588 36M629 41L606 55M542 39L511 29M459 39L480 71M456 57L535 64M614 37L661 51M478 27L445 39M578 67L617 82M427 17L513 26M629 41L593 58M415 33L442 58M350 52L498 48M653 47L544 32M415 33L478 27M613 36L667 56M655 74L484 69M405 39L487 38M513 36L511 29M405 19L542 58M403 19L491 66M527 47L569 44M476 47L535 64M399 62L379 58M415 44L462 45M439 49L568 70M520 21L519 44M353 44L493 27"/><path d="M511 45L430 16M601 47L544 32M599 61L607 82M478 27L531 44M594 26L535 64M540 38L564 57M528 27L543 47M512 20L364 45M462 45L440 41M452 20L531 33M460 41L462 48M447 67L486 37M498 21L464 69M526 47L572 61M405 19L386 59M430 16L430 35M465 32L599 35M524 44L511 47M584 31L585 21M565 17L571 41M505 62L481 31M369 18L417 51M410 18L447 17M606 37L602 79M652 67L641 62M663 76L518 31M562 76L462 45M448 59L450 69M641 62L657 71M557 27L569 44M430 21L416 50M388 22L462 45M566 39L652 67M460 16L465 32M656 61L663 62M539 48L554 60M348 24L349 45M349 20L349 50M511 39L531 40M500 27L463 37M658 68L440 41M416 52L479 71M656 59L421 63M410 51L500 27M658 69L447 67M500 51L541 46M534 64L571 41M415 33L415 18M483 34L564 38M454 26L462 48M569 44L631 66M519 24L477 16M585 65L585 21M461 71L524 67M458 63L518 38M417 59L544 32M462 18L424 44M525 51L521 24M349 45L416 53M554 60L450 55M516 69L457 29M595 39L623 56"/><path d="M546 75L442 13M443 54L462 12M470 47L460 53M585 65L409 41M403 19L519 64M448 21L435 23M658 68L642 58M435 15L486 37M518 38L534 64M606 77L465 57M581 19L547 69M409 41L422 33M448 59L393 38M451 11L364 45M518 69L536 37M584 77L369 56M505 62L500 51M525 54L499 57M456 21L479 56M619 35L544 32M505 72L409 59M475 64L531 40M353 44L403 19M543 47L544 32M599 35L505 64M393 38L462 18M568 70L584 31M646 45L457 23M390 21L350 52M526 53L518 49M593 58L607 82M499 52L476 43M456 10L514 42M499 34L515 21M466 22L466 28M505 72L369 18M466 52L363 48M511 45L458 66M613 31L617 82M375 57L462 45M570 28L447 67M442 13L456 21M662 63L641 62M507 28L461 19M475 64L540 38M424 19L480 67M391 20L454 39M462 45L448 22M450 55L461 35M528 27L531 33M673 58L572 35M546 69L563 48M583 69L442 58M607 82L482 71M442 13L498 48M572 32L558 18M663 76L566 39M652 67L623 56M658 74L558 72M498 20L561 76M559 68L518 38M349 50L519 44"/><path d="M498 48L492 47M606 46L557 27M388 22L462 45M596 64L607 69M379 58L595 78M557 27L516 61M644 55L595 78M531 44L473 25M618 68L610 77M449 20L611 57M350 52L473 25M409 59L583 69M389 42L452 20M622 44L493 27M518 69L349 45M576 16L591 25M593 58L415 33M663 76L658 74M663 76L656 61M424 44L399 62M545 58L542 39M622 70L640 72M454 39L434 38M621 37L629 41M348 24L658 68M447 17L405 39M440 41L461 35M427 22L422 33M525 51L499 57M579 66L447 67M595 39L588 23M482 69L456 57M588 36L531 40M531 40L642 58M503 32L516 69M598 53L476 47M652 47L652 67M474 34L462 48M656 59L614 37M457 16L586 49M569 72L541 46M572 52L424 19M552 54L442 55M621 37L592 25M596 64L623 56M618 81L653 47M544 44L598 53M487 38L513 36M462 48L478 27M481 55L503 43M422 33L424 44M623 38L563 48M628 53L526 53M629 41L518 38M584 77L579 66M482 25L511 26M586 49L520 21M398 61L390 21M522 36L424 19M461 71L467 37M454 39L466 42M348 24L435 15"/><path d="M457 29L399 62M456 21L417 59M640 72L621 36M627 51L656 74M503 35L510 50M589 74L487 38M499 34L520 21M516 69L511 39M505 64L460 16M545 58L541 46M542 39L457 23M458 66L415 20M379 58L510 50M493 68L475 25M462 12L448 22M606 77L649 74M598 53L581 58M564 57L599 61M518 38L409 28M465 32L427 17M511 29L454 39M416 56L416 50M476 47L512 20M539 48L514 42M440 59L478 27M514 32L531 40M658 68L640 72M450 55L448 22M405 39L430 21M387 54L386 59M589 74L585 51M581 44L479 56M499 52L486 56M469 29L499 52M540 72L481 55M435 15L447 67M466 42L460 41M580 72L429 47M369 18L449 50M416 53L416 56M389 42L433 35M492 47L568 70M606 37L613 31M505 39L606 77M539 48L388 22M446 46L451 69M599 61L622 44M516 69L511 72M531 40L466 52M593 58L622 44M470 47L513 26M505 72L349 45M531 40L493 27M635 56L499 34M461 19L422 33M524 44L466 42M609 30L417 33M584 31L541 62M571 41L511 29M465 32L516 61M569 44L464 69M476 47L497 41"/><path d="M429 47L410 18M415 33L434 38M427 22L569 44M584 31L559 60M409 28L505 39M456 10L531 73M435 15L565 64M573 39L558 18M478 27L415 18M488 62L528 27M421 63L561 76M480 67L461 71M424 19L430 35M631 66L564 38M461 71L379 50M348 21L447 17M462 45L505 72M484 43L522 33M471 41L498 21M566 39L579 66M391 20L518 69M614 37L543 23M566 39L503 43M505 62L503 26M656 61L649 64M482 28L564 57M588 36L620 71M436 35L465 32M349 20L410 51M581 58L623 73M414 22L502 72M525 51L659 72M578 67L387 54M583 69L618 81M652 47L581 19M350 52L503 43M559 60L513 26M510 50L620 71M527 47L486 37M544 32L518 31M634 62L356 19M483 34L516 69M445 39L391 20M503 43L349 50M635 56L522 33M513 26L475 53M610 77L656 71M659 72L597 72M536 37L663 76M498 20L581 44M584 77L559 68M573 39L542 58M571 42L557 27M607 69L499 57M389 42L475 71M652 67L584 31M656 71L595 39M462 18L497 41M558 72L617 82M487 38L648 78M387 54L454 39M451 69L405 19"/><path d="M474 34L441 47M498 20L564 38M501 36L511 45M559 68L442 13M457 16L389 42M476 43L475 25M545 58L503 35M480 67L546 75M460 15L451 11M430 16L417 51M367 55L510 50M462 45L498 20M518 38L533 25M518 31L474 34M440 59L388 22M572 61L564 57M653 65L460 41M516 61L500 27M558 18L470 47M464 69L438 42M350 52L451 11M518 31L540 72M486 60L514 32M581 58L531 33M622 70L653 47M450 11L479 71M435 15L545 58M618 81L512 20M409 28L422 60M503 26L525 51M353 44L379 50M393 39L563 48M531 33L450 55M390 49L463 52M460 41L546 75M511 45L647 78M491 66L442 56M521 24L442 55M440 55L456 57M653 65L649 64M658 74L596 64M593 58L656 71M486 56L441 47M593 58L434 38M425 17L562 41M450 55L475 64M545 58L579 66M667 56L422 60M631 66L594 26M407 45L525 54M619 35L599 35M421 63L476 43M522 33L566 39M439 37L369 18M593 58L631 66M462 48L461 35M534 64L436 35M505 72L542 39M466 52L513 36M621 36L648 49M492 47L572 35M353 44L503 43"/><path d="M647 78L604 62M389 42L440 59M513 26L525 22M350 52L379 50M540 38L563 48M552 54L601 47M462 10L433 28M491 66L430 35M673 58L569 72M665 61L606 46M399 61L409 28M462 45L621 37M388 22L386 40M483 34L390 49M531 73L475 71M558 76L539 48M658 56L580 72M512 32L572 52M511 29L621 37M514 42L457 16M653 65L658 69M363 48L369 18M558 18L519 44M628 53L609 55M458 66L500 28M416 52L399 62M420 60L475 71M465 57L450 69M467 37L484 69M646 45L524 44M521 30L465 39M594 26L601 47M422 30L442 13M662 63L653 65M583 69L584 77M399 41L393 38M356 19L623 73M599 61L631 66M562 41L497 41M621 36L653 65M348 24L512 20M355 50L498 21M393 38L386 59M414 63L422 33M457 16L581 58M526 53L609 55M435 15L500 51M596 64L389 42M483 34L498 48M658 56L655 74M537 43L557 27M349 50L367 55M658 74L656 74M354 53L379 58M438 42L441 47M442 55L348 21M544 32L462 48M540 72L559 68M658 69L570 28M480 71L544 32M623 38L591 61M516 61L606 46"/><path d="M658 68L541 70M503 43L498 20M438 42L364 45M505 72L513 26M500 27L525 51M356 19L511 39M475 71L475 64M482 71L427 22M379 58L451 11M653 65L552 54M480 71L572 32M585 21L486 60M503 32L460 53M487 38L407 45M456 21L418 59M478 27L511 29M511 45L652 67M503 32L542 39M471 41L539 48M623 56L597 72M379 50L454 26M591 61L649 74M363 48L499 52M474 34L441 47M635 56L665 61M491 66L476 47M572 35L658 68M570 28L433 28M522 33L585 65M497 41L451 20M576 16L434 51M468 42L481 31M503 26L399 62M658 74L535 64M447 17L505 62M398 61L451 13M663 76L584 77M353 44L393 38M447 67L434 51M622 54L583 69M434 51L424 19M422 60L369 56M623 56L606 46M452 20L422 33M559 60L587 53M415 20L349 50M606 37L576 16M463 37L448 22M521 65L573 39M634 62L552 54M561 56L573 39M572 61L536 25M491 66L666 55M484 43L462 45M558 72L559 68M581 52L613 36M420 60L461 13M409 59L420 60M584 77L519 24M484 69L521 24M659 72L638 59M390 49L375 57"/><path d="M592 25L441 47M466 28L449 50M464 69L486 56M414 22L543 47M417 33L442 56M505 52L480 71M561 19L511 45M505 39L583 69M648 48L559 68M476 47L585 21M466 52L447 17M584 77L561 19M476 40L430 16M507 28L536 37M663 62L601 47M595 78L503 35M656 74L648 49M571 41L593 58M505 62L559 65M565 64L571 42M475 53L479 71M498 48L521 24M531 40L581 19M433 28L389 42M570 28L646 45M568 70L572 61M655 74L623 38M622 54L659 72M362 53L409 28M460 53L462 45M397 19L430 16M617 82L518 49M416 53L386 40M594 26L544 44M596 64L525 51M473 25L468 42M563 48L449 50M350 52L369 56M531 73L451 20M646 45L595 78M552 54L565 64M554 55L441 47M585 21L562 41M619 35L618 81M656 74L484 69M559 65L620 71M542 39L579 66M511 39L531 40M399 62L482 28M531 44L533 25M536 25L500 51M519 64L503 21M649 64L525 22M599 61L588 23M405 39L497 41M488 62L399 41M609 30L617 82M656 74L610 82M450 11L466 28M505 52L528 43M471 41L527 47M531 73L561 56"/><path d="M568 70L514 42M475 64L475 53M511 29L542 39M349 50L561 19M569 72L420 60M440 59L451 20M410 51L398 61M450 69L483 34M649 64L480 67M546 69L606 46M513 36L499 52M388 22L416 52M457 16L482 71M572 35L524 67M458 66L597 72M510 50L522 33M648 48L592 25M388 22L456 57M513 36L512 32M462 12L434 38M546 75L595 39M503 35L503 21M623 38L607 69M533 25L585 21M421 63L451 13M458 66L498 20M434 51L462 12M558 18L446 46M511 26L576 16M435 15L409 28M536 25L518 38M611 64L623 73M535 64L425 17M470 47L473 25M649 74L606 37M559 60L579 66M501 42L518 49M526 53L519 64M579 74L534 64M452 20L469 29M518 31L511 26M480 67L498 20M648 48L666 55M540 38L525 22M528 27L398 61M369 56L416 50M527 47L621 37M348 24L354 53M518 69L436 35M656 61L438 42M585 51L458 63M534 64L493 68M638 59L673 58M492 47L561 56M662 63L613 31M673 58L524 44M516 61L559 68M462 18L503 35M611 64L610 82M546 68L520 21M349 50L502 72M539 48L568 70"/><path d="M581 19L503 35M433 35L503 43M500 51L516 61M614 37L444 68M648 48L460 15M457 16L597 72M566 39L405 39M591 61L535 64M448 22L433 28M601 47L647 78M429 47L440 55M448 22L435 23M409 59L409 41M629 41L649 74M516 69L531 33M614 37L606 77M552 54L465 57M585 21L572 35M430 35L449 20M462 18L627 51M477 16L466 28M530 31L547 69M461 71L534 64M524 67L479 71M410 18L507 28M606 77L463 37M617 82L581 44M490 55L430 21M641 62L619 35M572 61L546 75M572 52L585 51M399 62L442 63M348 24L421 63M435 15L450 11M492 47L416 52M415 33L364 45M466 22L461 19M611 57L607 82M430 35L417 51M433 28L527 47M618 68L417 33M599 35L589 74M658 68L464 69M525 51L542 39M558 18L468 42M528 43L526 47M531 73L471 41M461 71L512 32M606 55L443 54M475 25L484 43M387 18L449 50M518 49L528 27M439 49L415 20M459 39L480 71M463 37L350 51M367 55L466 22M565 64L609 55M552 54L562 41M520 21L479 71M673 58L430 16M622 54L598 53M349 20L407 45"/><path d="M479 71L599 61M457 16L458 66M595 78L618 81M554 55L465 39M448 21L422 33M636 80L648 78M610 82L602 79M348 24L604 57M570 28L609 30M562 76L531 44M572 52L451 20M387 54L477 16M561 56L649 64M537 43L501 36M480 67L585 65M667 56L638 59M609 55L599 61M606 77L609 55M445 39L424 19M536 37L621 37M505 64L420 60M648 78L636 80M661 51L644 55M425 17L516 69M481 31L565 17M591 25L564 57M391 20L476 40M449 20L586 49M476 43L581 58M522 36L466 42M559 65L581 58M422 60L448 59M433 28L435 15M434 38L416 50M515 21L535 64M470 47L569 72M379 50L348 24M510 50L416 50M606 55L586 49M409 41L443 54M486 56L476 40M503 32L500 55M571 41L559 60M579 66L448 22M397 19L499 57M585 21L631 66M631 66L665 61M522 36L642 58M618 81L493 68M491 66L460 53M593 58L622 44M481 31L518 23M628 53L658 68M572 35L379 58M549 49L522 33M434 38L438 42M640 72L649 64M393 38L349 45M350 51L599 35M463 52L418 59M623 56L623 38M589 74L604 62"/><path d="M499 57L572 32M584 77L649 74M541 70L525 54M579 66L559 76M375 57L418 59M429 46L604 57M440 55L482 28M559 68L531 40M449 20L443 54M442 58L528 43M562 76L505 52M433 35L350 51M465 32L505 39M425 17L457 16M445 39L362 53M464 69L462 10M492 47L541 46M644 55L405 39M622 54L673 58M572 35L599 35M546 68L549 49M501 36L495 31M503 35L464 69M587 53L505 52M652 67L598 53M462 10L552 54M648 48L478 27M415 44L403 19M613 36L440 41M422 60L486 37M474 34L500 28M661 51L579 74M452 20L409 41M531 40L450 69M521 73L559 60M526 47L527 47M491 66L581 19M543 23L658 74M663 62L658 68M482 25L513 26M479 56L484 57M558 76L546 68M572 61L573 39M463 37L514 32M599 61L462 18M593 58L500 27M483 34L466 28M579 66L604 57M613 31L576 16M355 50L463 52M451 20L531 33M580 72L518 38M534 64L482 25M505 64L518 43M451 69L500 55M514 32L466 42M581 19L544 32M558 18L537 43M559 60L463 52M579 74L587 53M350 51L482 71M578 67L559 68"/><path d="M492 47L442 13M410 51L513 36M541 70L480 71M663 62L631 76M460 16L503 21M519 24L465 32M588 36L462 45M595 78L541 70M609 30L663 62M519 64L541 62M653 47L462 48M513 26L541 46M431 52L479 56M579 66L477 16M446 46L451 20M480 71L492 47M421 63L460 16M525 22L511 26M356 19L488 62M451 13L441 47M584 77L481 31M447 67L580 72M665 61L522 36M443 54L500 27M536 37L613 31M637 80L440 41M594 26L606 37M566 39L481 31M628 53L586 49M461 35L648 49M558 72L621 37M483 34L531 44M475 53L649 64M460 16L399 61M355 50L463 37M451 20L399 62M518 31L559 60M607 69L661 51M505 62L497 41M585 51L525 22M416 52L434 51M619 35L585 21M475 53L481 31M466 52L416 52M585 21L558 18M649 74L499 34M542 58L559 65M536 37L545 58M666 55L653 47M457 16L634 62M417 51L416 56M531 33L503 43M461 13L597 72M456 57L433 35M584 31L522 33M604 62L518 49M524 67L493 27M594 26L648 48M547 69L580 72M618 68L655 74M593 58L569 44M505 52L477 16"/><path d="M488 62L462 45M568 70L488 62M646 45L636 80M427 17L476 47M422 33L429 47M417 51L387 18M444 68L442 63M549 49L609 30M454 39L409 59M606 37L653 65M430 16L463 37M476 40L480 67M414 63L531 33M543 47L475 71M658 74L622 54M539 48L658 69M454 26L441 47M430 35L445 39M657 71L618 81M497 41L598 53M536 37L561 56M409 41L425 17M573 39L498 48M387 18L448 59M655 74L587 53M648 49L554 60M461 19L561 19M531 44L433 28M559 68L572 35M393 39L505 72M526 53L487 38M362 53L452 20M484 69L554 60M348 21L607 82M559 68L466 52M414 63L481 55M570 28L656 71M482 28L505 52M570 28L484 43M585 21L585 65M641 62L652 67M595 39L581 52M452 20L422 33M583 70L558 76M585 65L667 56M559 68L623 38M591 61L502 72M604 57L487 38M661 51L492 47M618 81L510 50M416 52L375 57M390 49L546 68M454 26L462 10M627 51L534 64M578 33L581 44M561 76L521 24M536 37L498 20M526 53L518 43M602 79L572 52M617 82L662 63M433 35L462 18M595 78L525 54"/><path d="M422 33L449 20M503 21L522 36M449 20L540 72M434 38L446 46M431 52L623 73M591 61L495 31M623 38L661 51M584 77L663 62M524 67L482 69M460 15L367 55M570 28L445 39M364 45L349 45M666 55L667 56M531 33L613 36M349 45L379 53M463 52L514 32M599 61L631 66M519 71L524 67M572 32L524 67M448 59L430 16M657 71L614 37M440 59L427 17M410 18L518 69M658 69L659 72M585 65L561 56M644 55L656 71M510 50L460 41M511 72L558 76M482 25L460 15M430 35L462 12M511 45L435 15M502 72L499 34M572 52L581 44M510 50L475 71M518 69L473 25M512 32L468 42M458 63L476 43M564 57L530 31M519 71L468 42M416 52L369 18M572 35L528 43M606 55L622 54M461 71L463 52M573 39L662 63M572 52L546 69M399 62L390 49M658 74L570 28M418 59L379 58M500 51L475 53M480 71L409 41M572 32L585 21M533 25L511 26M623 38L623 73M473 25L466 52M618 81L623 73M460 53L399 41M391 20L447 17M379 50L461 19M399 61L375 57M638 59L648 78M484 57L606 46M572 32L583 69"/><path d="M492 47L461 19M519 44L543 47M478 27L416 52M558 68L663 76M356 19L349 45M578 33L621 36M363 48L348 21M503 26L598 53M448 21L457 16M486 56L457 16M511 47L429 47M474 34L497 41M491 66L451 11M591 25L467 37M659 72L627 51M480 71L482 71M558 76L420 60M442 58L388 22M430 16L435 15M427 22L457 29M576 16L561 56M534 64L662 63M599 61L542 39M558 18L458 66M607 82L587 53M350 52L466 28M442 55L431 52M655 74L591 61M466 42L476 43M487 38L607 69M644 55L652 67M480 71L518 31M537 43L649 74M403 19L479 71M542 39L558 76M628 53L593 58M469 29L480 67M416 52L444 68M446 46L475 64M595 39L666 55M547 69L546 75M498 21L513 26M524 67L379 58M586 49L502 72M467 37L429 46M511 39L465 57M634 62L585 65M667 56L505 39M641 62L649 74M648 48L667 56M658 68L602 79M601 47L518 23M424 19L486 60M488 62L581 44M410 51L543 47M511 45L572 35M561 19L564 38M500 27L512 20M440 55L450 69M503 35L481 31M462 48L417 33M505 64L571 42"/><path d="M458 66L525 22M435 15L466 28M585 51L562 76M498 48L513 36M585 21L604 57M569 72L571 41M607 69L481 55M461 71L397 19M558 68L593 58M462 10L505 72M585 21L559 76M652 67L589 74M388 22L511 39M353 44L478 27M623 56L448 21M417 51L409 28M558 18L660 60M572 32L622 44M592 25L579 66M507 28L505 72M569 72L581 58M499 52L569 72M588 36L591 61M601 47L636 80M451 13L500 28M355 50L350 51M456 57L499 57M486 60L522 36M656 74L644 55M571 41L518 43M417 33L466 22M607 82L464 69M525 51L561 56M622 44L521 65M465 32L462 48M490 55L424 44M449 20L450 55M519 71L492 47M525 54L547 69M558 18L519 71M511 72L569 72M531 40L554 55M367 55L416 53M466 28L470 47M399 41L379 50M427 22L409 28M500 55L592 25M564 57L578 33M562 76L584 77M613 31L511 26M405 19L451 11M465 32L486 56M552 54L433 28M500 27L519 24M658 74L584 31M511 39L442 58M569 44L503 35M621 37L658 56M562 41L595 39M652 67L478 27M597 72L662 63M588 36L541 46"/><path d="M572 52L601 47M526 53L628 53M442 58L449 50M467 37L475 25M518 69L546 68M519 64L479 56M410 18L424 19M415 20L415 18M559 68L569 44M501 36L585 65M442 55L422 30M513 36L512 20M618 68L547 69M601 47L518 31M450 11L407 45M658 68L658 69M486 37L519 24M619 35L636 80M499 57L503 32M456 10L479 56M533 25L463 52M649 64L518 23M464 69L461 71M414 63L622 70M451 69L521 73M510 50L512 32M399 61L461 13M648 48L662 63M498 20L461 71M511 39L415 44M475 71L541 62M520 21L450 69M519 24L621 37M606 46L519 24M622 44L461 71M511 72L482 71M658 56L498 20M599 61L604 57M480 71L466 42M559 68L568 70M572 35L543 47M541 46L653 47M466 52L475 71M452 20L442 63M656 59L662 63M461 35L561 56M644 55L665 61M515 21L434 51M544 32L476 40M348 24L350 51M583 69L546 68M475 25L461 71M439 49L498 48M482 28L528 43M623 73L597 72M579 74L499 34M646 45L519 64M596 64L507 28M519 44L515 21M613 31L514 42M636 80L576 16M647 78L499 34"/><path d="M511 72L519 64M648 48L526 53M450 55L464 69M503 32L539 48M440 55L438 42M592 25L513 26M505 62L486 37M442 55L486 56M476 43L465 39M482 28L486 37M565 64L475 53M528 27L460 53M549 49L599 35M607 82L652 67M503 26L451 11M585 65L462 45M592 25L518 23M499 52L499 34M584 77L501 42M591 61L483 34M484 69L505 62M442 13L422 33M441 47L507 28M604 62L490 55M499 52L501 42M497 41L581 58M479 71L424 19M648 48L622 44M470 47L481 55M663 76L604 57M609 30L622 44M409 59L463 52M571 41L500 28M564 57L515 21M634 62L454 39M440 55L622 44M391 20L503 32M442 13L480 67M518 49L518 38M554 60L540 38M569 72L581 44M350 51L397 19M581 58L581 19M367 55L528 43M583 70L417 33M441 47L465 39M483 34L462 48M415 20L399 61M379 53L478 27M505 52L640 72M475 71L469 29M514 32L568 70M433 35L405 19M475 25L460 15M631 76L572 35M635 56L658 56M571 41L598 53M648 78L656 74M449 50L465 32M526 53L390 49M503 26L519 24M614 37L609 55"/><path d="M594 26L519 71M631 76L666 55M521 24L466 42M656 74L609 55M477 16L456 21M439 49L409 28M501 42L503 32M514 42L522 36M354 53L348 24M656 74L593 58M528 27L581 52M480 67L546 68M594 26L588 36M410 51L461 71M460 41L599 61M448 21L528 27M479 71L491 66M433 28L417 51M514 42L422 30M591 61L541 62M619 35L500 28M531 44L511 29M572 32L609 30M581 52L561 56M660 60L462 45M585 65L583 69M449 20L467 37M409 59L444 68M457 23L460 41M609 30L570 28M583 70L581 58M572 32L463 52M585 21L566 39M521 30L450 69M420 60L518 31M421 63L461 13M646 72L637 80M595 39L546 68M588 36L491 66M461 71L531 40M393 39L460 53M482 71L614 37M547 69L663 56M475 64L570 28M527 47L502 72M594 26L609 30M558 76L629 41M511 47L558 68M564 38L526 47M442 55L444 68M439 37L457 16M586 49L653 47M581 52L652 67M561 76L456 21M470 47L462 12M629 41L638 59M475 53L543 47M470 47L513 36M581 58L579 66M445 39L390 49M450 69L461 35M460 53L587 53"/><path d="M519 24L417 59M479 56L562 76M444 68L518 31M450 55L433 28M479 71L505 39M514 32L448 21M588 23L503 26M578 67L640 72M571 41L487 38M547 69L456 10M460 16L610 82M565 17L559 68M462 18L583 69M544 32L613 31M528 43L536 25M667 56L657 71M642 58L531 73M435 23L581 19M355 50L416 52M427 22L422 33M585 21L662 63M618 68L585 51M522 36L518 31M379 50L465 57M350 51L470 47M591 61L648 48M379 58L369 18M505 39L503 26M495 31L514 32M469 29L463 52M484 57L457 29M531 44L518 31M434 51L433 35M488 62L379 53M521 24L572 35M525 51L425 17M348 21L439 49M477 16L462 45M476 47L460 41M367 55L431 52M501 42L622 70M436 35L482 25M466 52L541 62M349 50L641 62M462 12L457 16M530 31L503 32M571 42L554 55M593 58L536 25M604 62L644 55M657 71L458 66M599 35L499 34M362 53L367 55M618 68L562 41M477 16L440 59M554 60L500 28M637 80L486 56M369 18L505 64M531 40L476 47M579 66L604 57M500 28L505 62M596 64L646 45M518 49L667 56"/><path d="M634 62L640 72M457 29L492 47M518 23L522 36M467 37L427 22M646 45L653 47M479 56L561 56M581 52L417 51M519 24L536 25M456 21L572 32M563 48L534 64M648 49L653 47M652 67L499 52M623 56L544 44M416 52L648 48M526 47L584 31M367 55L363 48M462 45L492 47M451 69L427 17M430 16L369 18M469 29L429 46M454 26L580 72M348 21L607 82M362 53L367 55M652 67L667 56M571 42L471 41M447 17L580 72M662 63L665 61M606 55L572 61M407 45L521 65M648 49L561 56M585 21L606 37M618 81L497 41M447 17L610 77M629 41L430 21M356 19L462 45M558 68L662 63M525 22L546 69M652 67L610 82M552 54L480 67M662 63L363 48M610 77L663 76M362 53L461 19M470 47L448 21M433 35L461 35M558 72L516 61M480 67L450 11M622 54L475 71M585 21L552 54M535 64L493 27M471 41L465 32M622 70L584 77M364 45L498 20M628 53L585 51M623 73L429 46M584 31L619 35M536 25L540 72M583 70L563 48M595 78L662 63M486 37L500 27M475 64L562 76M467 37L386 40M467 37L418 59"/><path d="M435 15L581 19M631 66L564 57M558 76L498 48M569 72L511 47M535 64L570 28M531 44L519 71M535 64L547 69M482 25L604 62M518 31L448 22M544 32L521 30M479 71L524 44M462 18L435 15M379 58L416 52M592 25L541 70M480 67L475 64M618 68L658 74M527 47L417 51M559 60L620 71M463 37L514 32M457 29L424 44M622 54L479 56M476 43L514 42M558 18L514 32M563 48L565 17M623 56L521 65M405 19L451 11M622 54L656 61M511 45L546 69M463 37L500 51M629 41L622 44M482 69L526 53M462 18L355 50M350 51L391 20M531 44L524 44M611 57L635 56M511 39L505 39M526 47L558 76M611 64L561 56M617 82L503 43M562 76L458 63M429 47L611 57M586 49L606 46M579 74L449 20M635 56L350 52M634 62L583 70M350 51L584 77M367 55L466 42M505 52L537 43M531 40L521 24M599 61L457 29M609 55L512 32M503 43L415 33M576 16L462 45M414 22L499 34M561 56L461 35M501 36L495 31M403 19L510 50M417 33L460 15M618 68L492 47M438 42L585 21M510 50L607 69M618 81L595 39"/><path d="M623 38L486 37M505 64L580 72M528 27L518 38M425 17L435 15M422 60L440 55M422 33L462 45M653 65L585 21M572 61L514 42M609 55L585 21M471 41L456 21M604 62L610 77M646 45L598 53M399 41L474 34M405 39L350 51M511 39L422 33M451 13L519 71M652 67L661 51M658 56L609 30M410 51L459 39M447 67L493 68M646 45L659 72M379 50L416 50M631 76L607 82M479 56L528 43M660 60L568 70M389 42L363 48M499 52L387 18M440 59L521 24M460 16L580 72M387 54L415 18M623 73L618 81M518 23L511 47M521 30L531 33M386 59L461 35M528 27L607 69M449 50L505 52M503 35L440 41M627 51L513 36M475 71L410 51M513 36L429 47M599 35L524 67M466 28L461 19M480 71L565 17M466 42L354 53M586 49L546 75M451 69L462 18M558 18L646 72M422 30L454 26M554 55L558 72M482 71L461 13M475 64L460 53M466 22L564 57M414 22L451 11M587 53L521 24M561 56L622 44M581 52L610 82M518 43L451 11M592 25L427 17M663 62L482 71M510 50L586 49M409 28L484 57M433 35L519 71"/><path d="M486 60L522 36M479 56L447 17M442 55L465 32M442 63L475 25M648 49L658 56M470 47L493 27M493 27L502 72M495 31L499 34M502 72L562 76M498 20L518 23M663 76L653 65M562 76L533 25M350 51L379 53M581 58L610 77M444 68L475 71M571 41L522 33M448 22L568 70M562 76L531 40M648 78L631 76M475 53L429 47M653 65L621 36M621 36L581 44M470 47L476 47M558 68L505 64M461 19L430 16M622 44L498 48M528 43L515 21M480 67L466 52M480 71L510 50M558 76L405 39M476 47L658 69M573 39L561 76M447 67L461 35M629 41L458 63M521 24L542 39M475 25L493 68M545 58L541 46M475 71L465 57M607 82L623 73M658 74L656 61M439 49L476 47M521 24L449 20M536 25L545 58M415 20L480 67M584 31L646 72M448 21L641 62M601 47L609 55M442 58L465 39M369 18L416 56M348 21L429 47M434 38L518 43M644 55L527 47M466 42L434 38M461 13L565 17M621 37L658 56M363 48L468 42M591 25L518 23M486 56L484 43M525 51L430 21M521 24L497 41M561 19L541 46M475 25L429 46"/><path d="M652 67L417 59M578 33L410 51M578 33L649 64M438 42L461 71M386 59L417 59M609 55L440 41M467 37L520 21M601 47L598 53M583 69L584 77M531 73L460 16M522 33L564 38M595 39L514 32M461 35L528 27M505 62L501 42M433 28L405 19M530 31L540 72M476 40L525 54M435 23L399 61M609 30L526 47M652 47L451 20M599 35L642 58M644 55L663 76M540 72L631 66M482 69L475 64M537 43L546 68M580 72L505 62M379 53L422 30M416 53L490 55M511 29L442 56M559 65L580 72M439 49L521 73M540 72L452 20M434 38L457 23M424 19L386 40M534 64L505 72M390 49L470 47M653 47L450 11M520 21L502 72M585 51L546 68M663 76L636 80M435 15L461 19M464 69L475 71M363 48L410 18M659 72L609 55M422 30L660 60M440 59L442 58M546 69L519 24M607 82L521 65M607 69L617 82M673 58L502 72M649 74L609 55M389 42L399 62M519 44L656 71M611 64L565 64M561 76L476 43M409 41L518 69M475 53L433 28M594 26L519 71M415 20L562 76M386 59L353 44M595 39L531 44M463 52L486 37"/><path d="M638 59L519 71M610 77L554 60M585 21L652 67M572 32L563 48M416 50L415 33M606 77L430 16M607 69L663 56M541 62L544 32M549 49L424 44M531 40L601 47M649 64L629 41M462 48L493 68M559 60L589 74M543 23L614 37M445 39L488 62M410 18L479 56M420 60L409 59M451 11L502 72M456 57L486 60M589 74L498 48M655 74L469 29M528 43L606 37M614 37L591 25M491 66L521 30M436 35L458 63M594 26L572 35M542 39L607 69M390 21L442 56M559 76L425 17M495 31L460 53M595 39L363 48M607 82L662 63M526 47L513 36M466 28L458 66M503 21L557 27M471 41L518 31M420 60L581 58M543 47L528 43M658 68L653 65M638 59L522 33M500 27L482 25M460 15L462 45M479 71L476 43M521 65L588 36M416 50L460 16M627 51L519 71M500 27L440 59M422 33L434 38M636 80L637 80M415 44L585 21M507 28L511 39M662 63L609 55M634 62L544 32M561 19L558 18M461 19L387 54M415 18L466 52M647 78L631 76M454 26L609 30M557 27L587 53M559 76L417 59M460 15L614 37M349 50L397 19"/><path d="M442 13L379 50M663 62L658 68M628 53L588 23M369 18L531 40M541 70L568 70M440 55L541 46M578 67L564 38M564 57L498 21M442 58L544 44M594 26L634 62M414 63L466 22M476 43L399 61M484 57L480 71M441 47L558 76M546 68L447 17M422 30L409 41M634 62L606 55M542 39L543 23M569 72L595 39M505 64L561 56M595 78L610 82M619 35L503 21M356 19L544 44M457 16L433 28M348 21L464 69M495 31L638 59M586 49L585 51M514 32L641 62M634 62L559 68M410 18L457 29M606 46L569 72M545 58L461 13M585 51L595 39M618 81L581 58M475 64L576 16M462 48L500 28M470 47L513 36M444 68L498 20M524 67L355 50M533 25L565 17M405 19L375 57M573 39L546 68M519 64L415 18M552 54L481 55M451 69L439 49M634 62L478 27M521 24L572 32M443 54L521 73M499 34L578 67M364 45L348 24M499 52L521 65M593 58L564 38M609 55L648 48M662 63L619 35M458 66L501 42M421 63L462 18M461 71L505 39M466 22L435 23M614 37L461 35M434 38L621 36M606 55L446 46M648 78L628 53"/><path d="M525 51L488 62M511 45L536 37M450 55L417 59M448 22L422 33M476 43L554 60M606 37L511 45M387 54L375 57M531 44L460 15M476 43L500 55M610 82L514 32M475 64L528 27M456 21L484 43M482 71L572 61M535 64L663 62M445 39L665 61M474 34L471 41M386 40L462 48M596 64L524 44M492 47L442 58M466 28L463 52M514 32L416 56M579 74L564 57M561 76L484 57M503 35L388 22M495 31L512 32M386 59L355 50M462 45L466 52M596 64L500 27M511 72L585 51M456 21L479 71M601 47L588 23M415 44L512 20M585 51L501 36M614 37L611 64M416 52L479 56M660 60L539 48M409 28L429 47M549 49L511 26M409 41L429 47M579 74L649 74M495 31L503 26M565 17L588 36M500 28L535 64M646 45L611 57M592 25L544 32M584 77L623 56M622 54L564 57M561 56L484 57M584 77L565 64M514 42L512 32M510 50L443 54M656 71L531 40M456 21L474 34M586 49L601 47M495 31L593 58M475 71L477 16M390 21L409 28M486 56L535 64M653 47L623 56M451 11L462 18M417 59L503 26M353 44L442 55"/><path d="M539 48L552 54M559 60L462 48M409 41L416 52M572 32L562 41M614 37L599 61M399 41L484 43M430 35L429 47M653 65L652 67M393 38L451 69M540 72L484 43M558 18L591 25M399 61L488 62M435 15L461 19M442 56L571 41M511 47L503 26M610 82L621 37M648 78L622 54M505 39L611 57M477 16L604 57M417 59L463 37M510 50L429 47M500 51L563 48M434 51L451 69M589 74L609 30M649 64L611 64M427 17L583 69M386 59L467 37M386 40L420 60M656 59L606 55M579 74L609 30M433 28L387 54M581 19L511 72M474 34L571 42M564 38L613 36M442 58L456 21M355 50L451 20M424 19L442 56M610 82L631 66M544 32L579 66M594 26L475 71M592 25L466 28M648 78L611 64M623 73L662 63M460 41L399 61M648 78L464 69M648 78L482 25M541 46L530 31M558 76L558 18M348 24L364 45M441 47L518 49M486 56L429 46M438 42L439 37M622 70L584 77M462 12L569 44M487 38L369 18M521 65L470 47M416 56L481 31M572 52L511 45M541 62L524 67M507 28L519 44M599 35L475 53M640 72L518 49"/><path d="M398 61L424 19M657 71L621 37M460 41L422 60M479 56L430 16M585 51L602 79M418 59L439 49M482 71L476 43M531 33L531 40M480 71L416 53M387 54L647 78M578 67L565 17M607 82L611 57M354 53L443 54M490 55L667 56M535 64L598 53M469 29L522 33M558 68L601 47M521 24L512 32M658 68L558 72M416 56L418 59M479 56L519 64M598 53L503 21M518 38L528 27M430 21L391 20M466 28L463 37M410 51L585 65M578 67L544 32M436 35L445 39M415 44L427 17M516 61L513 36M414 63L480 67M409 41L390 49M602 79L500 51M467 37L475 71M491 66L427 22M416 52L462 12M491 66L442 55M558 76L607 69M636 80L559 76M350 51L531 44M460 41L613 36M655 74L652 67M462 12L458 66M405 19L514 42M362 53L417 33M482 69L599 35M379 50L450 55M545 58L631 66M542 58L503 43M610 77L656 59M588 68L542 58M443 54L414 63M399 41L409 41M518 49L464 69M519 71L531 33M606 37L622 44M661 51L586 49M606 55L571 41M356 19L520 21M663 76L572 61M606 55L524 67M525 22L568 70"/><path d="M475 64L495 31M442 13L541 70M415 33L442 55M456 10L558 76M465 57L430 21M635 56L602 79M658 69L617 82M513 36L414 22M354 53L673 58M638 59L606 37M607 69L604 57M584 31L647 78M440 55L399 41M546 68L484 57M606 55L659 72M422 60L410 51M398 61L524 44M498 21L442 58M537 43L465 57M503 32L584 31M531 40L514 42M356 19L447 17M663 62L544 32M429 47L433 28M348 21L390 21M474 34L559 68M564 57L581 44M350 52L440 55M561 56L566 39M456 57L465 57M533 25L536 37M438 42L571 42M434 51L456 10M439 37L475 53M458 63L546 75M547 69L585 51M410 51L448 21M518 23L511 26M622 54L561 56M519 71L609 55M658 68L454 26M480 67L580 72M661 51L646 72M461 71L572 61M443 54L367 55M660 60L581 19M476 40L484 43M393 38L414 22M623 56L658 68M547 69L595 39M461 71L482 69M585 51L623 38M652 67L658 56M416 52L528 43M663 76L610 82M511 47L503 32M493 27L535 64M585 21L586 49M424 44L466 52M581 58L420 60M354 53L456 57M662 63L569 72"/><path d="M588 68L601 47M393 38L480 71M415 18L546 75M409 59L440 41M544 32L561 76M558 18L541 62M546 68L512 32M397 19L481 31M415 44L466 42M652 67L573 39M474 34L369 18M531 44L514 32M348 21L386 40M422 60L417 59M656 59L667 56M606 55L610 77M390 21L379 58M518 69L661 51M646 45L638 59M468 42L462 48M503 32L607 82M436 35L479 71M641 62L518 38M655 74L673 58M446 46L481 55M505 52L462 12M466 52L543 23M480 67L379 53M531 33L493 68M405 39L484 57M546 69L578 67M546 68L648 78M498 20L623 56M522 33L447 17M467 37L486 56M454 39L451 69M461 71L505 64M520 21L585 21M649 64L583 70M557 27L578 33M507 28L473 25M622 44L579 74M481 31L427 22M387 54L430 21M522 36L405 19M571 41L578 67M442 58L399 41M440 59L418 59M610 82L620 71M573 39L505 62M545 58L542 58M474 34L442 13M609 55L578 67M649 74L635 56M510 50L521 24M547 69L456 21M478 27L491 66M571 41L572 35M475 71L500 51M463 52L447 17M663 62L665 61M461 13L441 47"/><path d="M511 26L584 77M440 41L520 21M610 82L513 36M501 42L466 42M476 47L425 17M415 20L539 48M386 40L589 74M477 16L512 20M393 38L456 57M462 18L558 18M581 44L526 47M572 52L465 39M444 68L461 71M522 33L618 81M450 11L503 21M564 57L524 44M422 30L442 63M518 38L484 69M481 55L488 62M623 56L641 62M526 53L519 44M545 58L369 18M580 72L652 67M557 27L449 50M457 29L476 40M559 60L559 68M581 52L572 61M479 56L470 47M387 54L442 63M449 50L486 56M584 77L499 57M576 16L519 71M450 55L524 67M475 25L454 26M568 70L585 65M565 64L540 72M644 55L620 71M503 43L507 28M585 21L588 23M403 19L391 20M490 55L518 43M528 43L526 47M479 71L500 28M511 26L586 49M349 45L430 16M354 53L389 42M611 57L646 45M585 21L461 19M610 77L554 55M434 38L481 31M399 41L414 63M448 59L500 55M461 19L480 71M572 35L530 31M543 47L583 69M439 49L461 13M561 56L631 66M656 71L653 65M505 72L522 36M581 44L585 51M369 56L518 23M462 48L456 57"/><path d="M465 39L477 16M466 42L488 62M480 67L446 46M379 58L388 22M598 53L585 21M429 46L417 51M519 64L433 28M520 21L544 32M491 66L498 20M391 20L415 33M440 55L601 47M540 38L631 76M505 39L500 28M576 16L440 41M593 58L530 31M454 26L451 13M581 52L648 49M543 47L518 69M507 28L435 23M591 25L355 50M539 48L653 47M519 44L474 34M465 32L440 55M484 69L417 59M571 42L572 35M462 45L483 34M465 32L478 27M435 15L417 33M571 41L563 48M653 47L662 63M511 39L475 25M565 64L622 70M481 31L519 64M525 54L409 59M443 54L482 28M500 55L513 26M499 52L475 25M646 72L544 32M544 44L531 33M415 44L482 25M572 32L448 22M518 31L581 58M422 60L388 22M461 19L498 48M602 79L460 15M547 69L531 73M420 60L511 29M464 69L462 45M463 37L505 62M519 64L416 56M516 61L451 11M433 28L528 27M578 33L572 35M490 55L546 68M498 20L588 36M451 13L516 61M478 27L613 36M405 39L386 59M430 16L416 53M631 76L652 47M422 60L379 58M542 58L433 28"/><path d="M475 53L585 51M518 49L440 55M604 62L540 72M415 20L559 68M542 39L410 51M389 42L429 47M572 35L507 28M462 10L505 39M658 68L629 41M592 25L607 69M440 59L450 69M461 71L449 50M564 57L500 27M572 52L594 26M503 26L422 30M606 37L666 55M446 46L476 47M474 34L631 76M475 25L541 62M531 33L447 17M476 40L542 39M465 39L460 41M440 59L466 42M482 71L569 72M449 50L458 66M399 61L511 26M514 42L442 55M647 78L659 72M415 20L410 18M531 40L569 44M595 78L573 39M543 47L558 18M440 59L415 33M393 38L415 44M387 18L588 36M389 42L499 57M393 38L531 40M479 56L476 43M570 28L501 42M597 72L513 36M440 41L461 35M546 69L462 12M397 19L410 51M466 52L415 44M514 42L450 69M571 42L544 32M554 60L511 39M435 15L461 19M561 56L604 57M609 30L562 76M563 48L569 44M562 41L606 55M480 67L427 17M511 39L486 37M500 27L450 11M493 27L498 20M519 64L387 18M565 17L518 38M573 39L537 43M457 23L512 20M609 55L592 25M500 27L390 49"/><path d="M581 44L640 72M518 43L486 37M514 32L465 39M642 58L623 56M522 36L515 21M533 25L571 41M427 17L427 22M424 44L518 43M666 55L658 68M652 47L558 18M535 64L547 69M649 74L658 74M648 48L535 64M588 23L519 71M631 76L613 36M570 28L562 41M656 61L657 71M443 54L416 50M653 65L662 63M611 64L559 68M588 68L607 69M641 62L658 56M410 18L544 44M606 37L482 28M591 61L587 53M448 21L451 20M542 39L544 32M528 43L572 61M415 44L425 17M571 41L541 70M544 44L505 52M356 19L415 20M415 20L571 42M448 21L479 71M518 23L501 42M552 54L584 77M618 68L631 76M635 56L518 49M399 41L481 31M420 60L457 16M607 82L594 26M416 50L405 39M459 39L462 48M450 11L434 51M554 60L475 71M652 47L585 65M606 77L594 26M526 47L482 71M525 22L546 75M493 27L498 21M540 38L572 32M350 51L389 42M537 43L486 37M585 21L498 48M611 57L609 30M665 61L611 57M512 20L580 72M493 27L475 71M535 64L457 16M462 12L448 59M355 50L503 32M602 79L526 53"/><path d="M430 35L478 27M558 18L602 79M486 37L403 19M571 41L534 64M652 47L558 18M511 72L354 53M479 71L558 72M606 77L484 69M450 11L586 49M390 49L409 41M559 60L585 65M662 63L641 62M598 53L518 23M563 48L568 70M493 27L526 47M581 58L622 44M476 47L502 72M461 71L461 71M450 55L515 21M576 16L588 36M460 41L549 49M451 20L442 13M418 59L386 59M536 37L417 51M530 31L547 69M407 45L484 43M469 29L505 64M667 56L570 28M459 39L456 57M559 76L583 70M431 52L620 71M572 61L573 39M414 63L475 64M469 29L631 66M559 76L544 44M606 77L466 28M475 71L552 54M636 80L618 81M478 27L511 26M369 56L350 52M621 36L620 71M588 36L588 23M542 39L585 21M399 62L531 33M446 46L542 39M430 21L578 67M475 53L631 66M569 72L417 33M544 32L451 11M465 39L461 71M510 50L379 53M535 64L450 11M379 50L448 21M459 39L415 44M498 21L462 12M462 18L474 34M618 68L638 59M652 67L481 31M514 42L646 45M648 78L503 26M440 55L493 68M387 18L356 19"/><path d="M440 41L581 44M663 76L667 56M543 47L635 56M621 36L610 77M584 77L409 28M348 21L350 51M498 21L505 52M486 60L561 76M463 37L521 73M653 47L610 82M493 27L451 20M416 50L561 76M405 39L433 35M452 20L461 19M581 52L479 56M526 47L520 21M398 61L540 38M622 44L440 55M476 47L490 55M510 50L542 39M490 55L498 21M442 63L497 41M584 77L606 77M617 82L492 47M522 36L578 33M451 69L461 71M503 43L545 58M563 48L611 57M418 59L440 55M460 53L493 68M631 76L661 51M554 60L640 72M561 76L581 52M604 62L524 67M514 32L463 37M500 27L581 58M410 51L424 19M544 32L547 69M514 32L514 42M544 32L498 21M398 61L416 53M606 77L579 74M622 70L584 31M482 25L511 45M511 45L541 62M597 72L519 71M546 75L462 10M601 47L606 46M505 52L541 70M542 58L549 49M531 73L561 56M462 18L477 16M409 59L525 54M364 45L572 52M439 49L422 33M666 55L652 67M476 43L416 52M516 69L379 58M619 35L649 64M473 25L440 41M594 26L481 31M441 47L439 49"/><path d="M601 47L606 55M528 43L513 26M521 24L493 68M564 38L519 64M581 58L515 21M481 55L503 35M356 19L521 24M542 39L519 71M439 37L415 20M521 73L484 43M541 70L558 68M386 59L484 57M619 35L606 46M465 32L565 17M579 66L646 45M505 39L491 66M414 63L417 59M565 17L593 58M498 48L498 20M622 70L644 55M497 41L537 43M500 55L559 65M546 68L454 26M526 53L417 33M521 65L537 43M482 28L486 56M623 56L450 11M448 22L604 57M658 74L581 19M627 51L631 66M527 47L516 61M387 54L386 59M507 28L461 71M621 36L572 61M467 37L466 28M348 24L399 62M505 72L519 64M466 28L578 33M464 69L422 60M576 16L647 78M490 55L547 69M461 19L642 58M562 76L417 51M540 38L518 49M578 33L542 58M482 25L546 69M465 32L534 64M554 55L516 61M606 46L491 66M418 59L389 42M433 35L554 55M554 55L584 77M559 65L465 39M571 41L617 82M416 50L399 61M635 56L658 68M576 16L606 46M561 19L458 63M580 72L619 35M518 69L536 37M599 35L460 41M658 74L519 71"/><path d="M519 64L466 52M646 72L475 71M463 37L525 22M492 47L466 22M475 25L379 50M465 57L480 71M656 74L583 69M476 40L484 43M559 65L609 55M451 69L465 32M457 16L416 52M584 31L563 48M539 48L399 61M544 32L483 34M581 58L617 82M433 28L457 29M673 58L593 58M611 57L429 47M585 65L435 15M631 66L572 52M611 57L607 82M399 62L478 27M482 69L544 44M514 32L499 34M434 51L498 21M621 37L405 19M481 55L546 69M466 52L439 37M501 36L441 47M541 46L514 42M363 48L462 10M547 69L526 47M655 74L663 62M562 41L558 18M527 47L613 31M618 68L587 53M595 78L350 51M458 63L579 74M511 72L486 60M581 52L503 26M554 60L622 70M484 43L498 48M379 50L475 71M466 52L460 41M441 47L554 55M564 38L623 73M580 72L584 31M559 68L521 24M433 28L390 21M585 21L503 32M613 31L663 62M583 70L503 26M403 19L393 39M458 63L580 72M495 31L399 41M539 48L388 22M503 21L585 21M457 16L617 82M422 60L443 54M547 69L519 64M461 35L540 72M481 31L526 53"/><path d="M617 82L579 74M403 19L356 19M416 50L393 39M507 28L502 72M647 78L635 56M656 61L635 56M546 69L546 68M536 37L558 68M662 63L460 53M434 51L448 22M449 20L486 60M638 59L613 36M559 76L648 48M524 44L418 59M579 66L524 44M475 25L475 71M397 19L425 17M606 77L484 43M393 39L611 64M541 70L561 56M511 72L495 31M475 71L491 66M427 22L433 35M604 57L613 31M627 51L648 48M646 45L638 59M461 13L662 63M434 51L450 55M393 38L416 53M434 38L460 15M634 62L531 73M480 71L457 29M531 40L476 47M571 42L445 39M487 38L518 38M652 67L648 78M499 52L498 48M628 53L482 69M393 39L416 53M522 36L493 27M477 16L500 55M511 72L569 44M430 16L427 17M657 71L658 69M610 82L641 62M466 52L540 72M438 42L433 35M348 24L500 55M521 73L479 56M591 61L541 46M663 76L649 64M451 11L425 17M571 42L559 76M499 52L447 67M474 34L588 23M599 61L511 26M618 81L540 72M476 47L466 42M399 62L478 27M580 72L606 46M644 55L460 53M417 33L442 55"/><path d="M475 71L536 37M348 24L410 51M468 42L422 30M588 23L530 31M348 24L379 50M475 71L526 47M588 36L484 43M420 60L415 33M561 56L540 72M531 33L572 35M503 43L492 47M500 28L462 10M663 76L476 43M531 33L526 53M662 63L648 78M536 25L452 20M521 65L475 25M663 62L631 76M545 58L461 13M599 61L546 75M530 31L527 47M454 39L510 50M585 21L573 39M475 71L511 26M407 45L537 43M425 17L386 40M544 32L460 53M627 51L416 53M540 38L655 74M658 68L657 71M518 49L599 35M593 58L622 70M464 69L490 55M470 47L563 48M663 62L544 32M606 55L505 52M583 70L559 68M393 39L417 51M483 34L546 75M565 64L499 57M403 19L505 39M511 72L558 72M530 31L462 10M531 40L646 72M579 66L460 53M531 44L535 64M595 39L572 61M622 54L597 72M436 35L499 34M364 45L531 73M585 21L451 20M430 35L435 23M666 55L618 81M665 61L363 48M511 72L527 47M653 47L662 63M652 67L641 62M459 39L456 57M586 49L558 68M393 38L541 70M585 21L460 53M614 37L528 43"/><path d="M662 63L622 70M521 24L409 41M535 64L503 21M390 49L415 18M587 53L559 76M513 36L540 72M451 20L516 69M569 72L417 51M427 22L629 41M663 62L570 28M558 72L417 51M522 36L502 72M348 21L409 41M617 82L597 72M571 42L505 52M649 64L451 69M417 33L610 82M417 51L524 67M658 74L535 64M528 27L474 34M503 26L609 55M481 55L572 61M593 58L522 33M521 30L503 21M379 53L386 59M531 40L424 19M539 48L618 81M500 51L461 35M528 43L448 59M448 21L661 51M581 44L618 81M658 74L618 81M487 38L462 10M447 67L476 47M436 35L459 39M403 19L362 53M606 37L462 10M449 20L552 54M505 62L579 66M640 72L559 76M520 21L655 74M581 58L420 60M587 53L586 49M445 39L417 51M463 37L464 69M598 53L638 59M543 23L414 63M449 20L458 66M481 55L454 39M505 52L559 76M614 37L476 43M476 47L561 56M586 49L585 21M484 57L480 71M558 18L514 42M641 62L648 49M445 39L416 52M505 39L525 22M503 21L592 25M461 35L449 50M436 35L438 42M462 12L442 13"/><path d="M623 38L562 41M503 43L499 57M498 48L528 27M421 63L479 56M604 57L627 51M521 24L503 43M503 21L585 21M535 64L543 47M503 35L584 77M546 68L442 56M527 47L505 39M546 75L386 59M606 55L586 49M448 22L429 46M440 59L519 24M486 56L655 74M542 58L531 40M446 46L599 61M480 67L349 50M512 20L561 19M597 72L363 48M460 15L461 71M389 42L364 45M584 31L606 46M539 48L521 65M391 20L379 53M362 53L398 61M461 13L448 59M480 67L407 45M430 35L409 41M442 56L495 31M522 33L662 63M493 68L559 60M457 23L606 46M427 22L480 67M597 72L572 61M491 66L528 43M554 60L593 58M620 71L636 80M422 60L526 47M511 29L513 36M390 21L409 59M631 76L511 47M511 72L499 34M622 54L618 81M462 10L562 41M486 37L525 51M466 52L362 53M656 61L482 71M505 62L602 79M457 23L544 32M581 52L559 76M439 37L451 11M534 64L652 67M644 55L652 67M389 42L405 39M598 53L667 56M572 32L450 55M471 41L475 71M516 61L521 24M495 31L507 28M450 69L490 55"/><path d="M442 13L500 28M531 33L581 19M450 69L417 33M379 53L350 51M475 71L460 15M581 19L479 56M349 45L435 23M661 51L475 71M436 35L442 13M387 18L386 59M405 39L445 39M475 64L503 32M558 72L569 72M422 30L430 16M478 27L653 47M568 70L552 54M348 21L479 56M470 47L451 20M409 28L420 60M449 50L417 33M661 51L415 20M530 31L540 72M416 52L452 20M476 40L457 29M484 43L427 22M364 45L460 15M415 33L349 45M414 63L510 50M349 45L350 52M601 47L613 31M387 18L461 71M473 25L445 39M667 56L621 36M535 64L573 39M476 47L439 49M461 19L559 68M585 21L557 27M597 72L422 33M662 63L663 76M641 62L622 44M649 74L662 63M611 64L648 49M559 60L524 44M393 39L443 54M619 35L592 25M429 47L456 21M355 50L516 69M609 30L461 19M561 76L541 46M457 16L503 43M442 58L405 39M416 56L393 38M596 64L610 82M531 40L530 31M515 21L512 20M541 70L521 30M564 38L614 37M611 57L622 70M512 20L503 26M569 44L610 82M415 18L414 22M565 64L599 61"/><path d="M662 63L661 51M448 21L461 13M606 77L610 82M511 45L460 53M415 20L418 59M522 36L571 42M466 42L451 20M525 51L503 43M571 42L522 33M511 72L459 39M665 61L585 65M572 32L462 12M571 42L537 43M414 63L482 71M565 17L571 41M549 49L544 44M466 22L480 67M398 61L399 61M541 70L410 51M518 31L466 22M656 74L602 79M540 72L545 58M433 28L424 44M594 26L516 69M522 33L498 48M623 73L634 62M482 28L486 60M502 72L451 13M514 32L462 45M505 64L461 35M659 72L503 32M442 55L442 58M565 17L619 35M628 53L642 58M563 48L599 35M349 50L350 52M572 35L558 72M433 35L414 22M387 18L484 69M558 72L568 70M450 11L420 60M581 44L618 81M454 39L429 46M610 82L579 74M636 80L585 65M588 68L591 25M648 49L653 47M663 76L652 67M606 55L592 25M531 40L518 49M649 64L537 43M562 76L518 69M505 39L531 33M415 20L457 16M434 51L481 55M386 59L424 19M505 52L430 21M585 21L576 16M476 43L461 13M522 33L482 25M409 28L350 52M487 38L462 18"/><path d="M646 45L663 76M584 77L588 68M503 21L409 41M362 53L415 18M475 71L484 57M450 69L541 46M415 33L482 71M448 22L444 68M554 55L544 32M519 71L443 54M422 30L415 18M641 62L576 16M459 39L464 69M593 58L601 47M649 64L622 54M621 37L541 62M653 65L637 80M662 63L449 20M502 72L415 33M503 32L451 13M465 39L458 66M518 69L499 57M434 51L415 33M646 72L611 64M348 24L660 60M461 71L459 39M537 43L479 71M558 68L591 25M410 18L628 53M598 53L579 66M379 58L451 13M445 39L422 30M621 37L500 28M525 54L433 28M606 77L559 65M434 38L544 32M422 33L521 73M531 33L604 62M531 44L503 35M601 47L673 58M479 71L500 27M621 36L606 77M475 64L464 69M599 61L656 71M500 55L475 71M666 55L663 76M452 20L375 57M429 47L416 52M505 52L536 37M454 39L498 21M646 72L604 62M466 42L512 32M399 41L534 64M617 82L655 74M572 35L627 51M559 65L585 51M618 68L621 37M467 37L416 50M530 31L662 63M466 52L483 34M559 65L510 50M515 21L622 44"/><path d="M660 60L482 25M462 45L476 40M584 77L511 72M414 63L442 63M443 54L475 53M568 70L462 10M477 16L541 70M439 49L500 51M481 31L503 43M663 76L557 27M525 22L566 39M578 67L583 70M613 31L541 62M415 44L430 35M621 36L562 76M531 44L498 21M562 76L475 53M511 47L610 77M631 66L561 56M585 65L648 78M393 39L546 69M610 77L599 35M627 51L584 77M417 33L479 56M665 61L648 78M465 39L465 57M618 68L663 56M456 21L442 55M440 55L407 45M499 52L587 53M594 26L595 39M505 62L491 66M525 22L571 42M490 55L487 38M434 38L462 45M652 47L606 55M349 20L434 51M628 53L482 71M559 68L442 56M602 79L627 51M486 56L407 45M505 72L415 20M439 49L511 26M500 28L450 69M467 37L584 77M450 11L493 27M513 36L481 31M462 18L570 28M581 19L602 79M490 55L572 32M442 63L456 21M607 69L356 19M606 37L498 20M460 41L501 36M479 56L559 65M599 61L594 26M446 46L424 44M418 59L463 37M349 50L462 12M634 62L648 48M528 27L536 25M464 69L528 43"/><path d="M424 44L607 69M521 24L519 44M511 26L490 55M440 41L518 23M497 41L656 74M518 49L503 26M559 76L576 16M375 57L542 58M546 68L561 76M487 38L481 31M611 57L547 69M604 57L562 41M542 58L525 51M514 42L518 31M442 13L414 22M585 21L505 62M498 21L606 46M379 50L440 41M520 21L547 69M666 55L563 48M514 32L482 28M442 13L456 57M585 21L481 55M558 76L499 52M484 57L415 44M503 26L473 25M349 50L503 21M606 46L572 32M415 18L446 46M584 31L609 30M422 30L499 34M486 60L558 68M503 35L501 42M398 61L435 15M568 70L658 74M457 23L450 11M573 39L558 68M410 18L507 28M451 11L498 20M430 35L486 60M449 20L466 42M559 68L511 39M572 61L439 37M585 65L579 74M610 77L483 34M579 74L475 71M666 55L613 36M597 72L519 64M387 54L379 53M502 72L543 47M440 59L440 41M364 45L367 55M564 38L519 44M462 10L456 21M507 28L569 44M456 10L591 25M549 49L460 15M525 22L491 66M483 34L513 36M499 57L564 57M518 69L422 30M659 72L627 51"/><path d="M399 62L387 18M518 49L498 21M653 65L477 16M539 48L524 67M476 43L514 32M537 43L546 68M597 72L588 23M596 64L542 39M524 44L554 60M547 69L648 49M486 37L442 58M607 69L663 76M447 17L399 61M482 28L466 28M518 69L542 39M581 44L549 49M493 27L511 26M476 40L456 10M542 58L549 49M417 59L422 60M369 56L399 61M439 49L462 48M369 18L511 45M442 58L433 35M610 82L584 77M641 62L652 67M476 43L663 62M511 47L598 53M536 37L606 55M521 73L461 19M565 17L475 53M518 49L571 42M537 43L525 51M480 67L387 54M448 59L531 44M393 38L422 30M656 74L475 25M558 76L646 45M572 35L554 55M459 39L435 23M561 56L469 29M456 10L447 17M466 22L503 32M438 42L459 39M559 65L584 31M505 39L467 37M430 16L461 71M505 52L546 69M604 57L433 35M636 80L521 30M652 47L660 60M420 60L493 68M363 48L409 41M483 34L349 20M578 33L609 30M610 77L631 66M512 32L581 19M503 43L441 47M573 39L521 65M564 57L611 64M558 76L589 74M511 26L563 48"/><path d="M462 12L355 50M417 33L559 68M435 23L429 46M511 26L518 31M451 13L434 38M421 63L417 33M500 55L519 64M611 57L480 67M461 13L466 42M636 80L611 64M559 76L554 60M579 66L353 44M595 39L497 41M623 73L629 41M595 39L586 49M667 56L511 29M364 45L499 52M466 42L497 41M451 69L471 41M387 18L403 19M619 35L561 56M656 74L586 49M484 57L516 69M353 44L488 62M536 25L531 40M444 68L507 28M544 32L422 30M511 72L482 69M479 56L520 21M627 51L623 73M511 26L477 16M422 33L536 25M449 20L405 19M434 38L454 39M475 71L505 72M466 52L456 57M646 72L636 80M546 69L418 59M456 10L438 42M467 37L460 16M591 61L520 21M439 37L448 22M387 54L417 51M387 18L475 25M527 47L566 39M544 32L559 76M585 21L585 65M569 44L522 33M622 54L629 41M531 33L475 71M386 59L442 63M498 20L530 31M522 33L399 62M417 59L475 64M454 39L460 15M663 62L466 52M588 36L525 51M609 30L585 21M610 77L450 11M481 55L461 71M482 25L524 67M448 22L414 22"/><path d="M614 37L595 39M572 32L583 69M536 25L478 27M416 52L456 21M569 72L505 64M585 21L604 57M415 20L501 36M498 21L462 10M565 17L591 61M501 36L446 46M450 55L446 46M495 31L410 51M503 43L415 20M561 56L584 31M511 72L583 70M356 19L460 53M611 64L609 30M527 47L585 65M451 11L417 59M415 20L418 59M515 21L461 71M578 33L521 30M422 60L430 35M595 39L466 28M662 63L653 65M585 21L623 38M518 49L527 47M362 53L634 62M427 17L414 22M450 11L433 35M542 58L503 43M561 76L524 44M646 45L581 19M549 49L525 54M581 52L658 69M468 42L503 35M387 18L390 49M456 10L511 29M594 26L656 61M525 54L354 53M421 63L482 28M490 55L481 31M656 61L581 52M528 43L561 76M475 71L470 47M593 58L604 57M569 44L591 25M470 47L457 16M656 61L622 70M546 75L462 48M440 41L398 61M512 32L505 72M525 22L505 52M656 71L648 48M495 31L584 77M465 39L591 25M606 55L572 52M507 28L510 50M429 46L617 82M537 43L581 52M463 37L452 20M484 43L541 62"/><path d="M447 67L429 46M565 17L606 55M409 59L564 57M592 25L588 23M466 52L491 66M619 35L561 19M559 65L585 21M563 48L522 36M622 70L557 27M579 74L585 21M448 22L473 25M558 72L481 55M662 63L658 74M486 56L526 47M451 20L481 55M479 71L502 72M585 51L609 30M389 42L410 51M474 34L387 54M510 50L531 33M658 69L463 52M537 43L427 22M469 29L458 63M460 16L481 31M521 24L449 50M522 33L576 16M348 21L521 73M476 47L531 73M491 66L482 69M662 63L586 49M526 53L546 68M511 39L585 51M403 19L463 37M634 62L463 52M451 20L505 64M541 70L588 23M440 55L466 42M387 18L447 67M564 57L448 22M628 53L652 67M454 26L450 69M588 36L519 64M658 68L559 76M588 68L568 70M433 28L585 21M470 47L503 21M511 26L416 52M505 64L558 18M618 81L588 68M512 20L579 74M562 41L513 26M442 63L403 19M390 21L427 17M559 65L393 38M642 58L539 48M521 30L528 43M469 29L460 53M627 51L584 77M559 76L537 43M451 13L465 39M498 20L475 25M434 38L425 17"/><path d="M439 37L462 10M390 21L421 63M536 37L409 41M530 31L475 64M543 23L498 21M350 51L405 19M644 55L609 30M479 56L391 20M566 39L562 41M561 76L534 64M367 55L350 51M416 52L390 21M565 17L562 41M518 43L449 50M634 62L606 37M618 81L445 39M454 39L602 79M462 12L448 22M442 58L399 61M462 12L505 39M430 16L531 33M623 56L521 30M554 55L531 44M611 64L606 46M436 35L527 47M503 32L498 21M450 69L500 27M526 47L541 62M448 22L505 52M416 56L409 41M399 62L461 35M500 55L580 72M442 63L578 67M559 68L481 55M565 17L474 34M566 39L457 23M623 73L638 59M540 38L488 62M623 56L588 23M498 21L479 71M535 64L544 44M475 64L518 38M652 67L658 56M511 26L511 47M410 18L422 60M414 22L486 60M631 66L573 39M369 18L484 69M622 54L621 37M518 31L539 48M601 47L434 51M462 12L530 31M661 51L667 56M522 36L418 59M397 19L398 61M511 72L505 72M416 52L369 56M593 58L434 38M440 41L503 26M507 28L544 44M607 82L618 68M537 43L476 47"/><path d="M540 72L563 48M541 70L581 58M398 61L440 55M463 52L505 62M462 18L399 62M405 39L536 37M641 62L578 67M456 10L414 22M597 72L518 43M513 36L511 26M486 60L558 18M499 57L417 51M518 38L482 71M528 43L466 22M481 31L439 37M446 46L499 52M522 36L493 27M493 68L505 64M493 68L662 63M586 49L430 16M459 39L417 33M416 56L390 21M435 23L436 35M565 64L579 74M349 20L355 50M595 39L606 37M500 28L473 25M540 72L497 41M587 53L521 30M526 53L570 28M659 72L662 63M425 17L466 22M581 44L488 62M379 50L461 35M653 65L652 67M486 37L503 43M666 55L641 62M584 31L522 36M403 19L460 41M629 41L559 76M484 69L480 71M618 68L595 78M525 22L511 26M386 40L536 37M486 60L436 35M415 20L521 73M507 28L375 57M591 25L592 25M484 43L511 26M457 16L534 64M469 29L456 21M436 35L460 53M636 80L646 72M641 62L653 65M618 68L481 31M583 70L491 66M457 29L477 16M503 32L460 16M398 61L513 36M606 55L619 35M635 56L656 74M349 45L448 22"/><path d="M649 74L640 72M501 36L515 21M658 74L597 72M609 55L461 35M595 39L622 70M454 39L449 50M512 20L488 62M498 21L568 70M464 69L430 21M503 43L498 48M521 65L501 42M511 45L466 28M542 58L561 56M554 60L647 78M442 58L448 59M388 22L434 38M486 60L607 69M572 35L530 31M540 38L656 59M619 35L539 48M591 61L652 67M484 43L558 76M457 23L515 21M619 35L621 37M458 66L554 55M516 69L561 56M606 55L527 47M564 57L442 13M398 61L424 44M597 72L585 65M465 32L462 45M627 51L521 24M521 73L571 41M653 65L607 82M450 69L658 74M521 30L460 16M448 21L588 23M399 62L436 35M468 42L414 22M475 71L482 28M478 27L533 25M518 23L479 56M461 35L513 36M460 16L621 36M399 61L467 37M462 45L513 36M547 69L476 47M486 37L422 60M486 56L461 35M410 18L417 59M443 54L579 66M350 52L505 39M610 82L564 57M511 45L451 69M525 54L572 61M596 64L572 61M405 19L486 37M435 15L457 29M499 52L448 21M578 33L617 82M476 43L623 56M511 45L518 38"/><path d="M473 25L449 50M474 34L449 20M488 62L379 58M454 26L450 11M415 20L463 52M649 74L656 71M467 37L498 48M531 73L572 61M656 61L539 48M540 72L530 31M409 41L531 33M434 38L422 60M481 55L505 39M434 38L451 11M503 32L519 44M512 20L593 58M498 48L524 44M410 51L476 47M433 35L481 55M623 73L648 78M442 55L460 16M480 67L522 36M364 45L435 23M636 80L609 30M436 35L561 19M511 29L439 37M443 54L460 53M452 20L390 21M586 49L618 81M513 36L528 27M599 61L562 76M461 13L478 27M535 64L452 20M482 71L486 37M445 39L438 42M673 58L647 78M579 74L542 39M367 55L559 65M576 16L514 42M631 76L658 74M622 44L451 20M609 55L588 36M379 50L422 30M480 67L533 25M644 55L525 54M461 71L477 16M349 50L655 74M514 42L470 47M445 39L434 51M558 72L482 25M543 47L572 32M456 10L415 18M364 45L544 44M585 21L518 31M422 33L364 45M430 21L349 20M375 57L512 32M515 21L434 51M606 77L544 44M589 74L636 80M499 52L462 45M655 74L660 60"/><path d="M617 82L581 52M399 61L493 68M461 71L482 71M606 37L457 29M543 23L486 37M557 27L545 58M559 60L438 42M434 38L510 50M525 51L515 21M416 50L449 50M524 44L462 48M662 63L524 44M484 57L486 56M665 61L544 32M631 76L653 65M450 11L438 42M579 66L498 20M490 55L393 39M465 39L591 61M564 38L513 26M456 57L416 50M656 59L461 19M599 61L541 62M544 44L607 82M414 63L513 26M519 71L433 28M429 46L495 31M417 59L462 12M662 63L599 35M449 50L475 25M369 56L516 61M417 33L554 55M470 47L393 38M559 76L588 68M475 25L444 68M349 50L427 17M356 19L606 46M566 39L434 38M349 20L475 53M348 24L424 44M591 25L585 21M658 69L522 33M665 61L502 72M665 61L599 35M611 64L544 32M648 49L662 63M540 38L518 38M479 71L545 58M463 37L459 39M399 41L465 39M393 39L568 70M578 33L585 21M584 31L519 44M442 58L427 17M457 16L497 41M409 41L484 69M461 13L522 33M652 47L642 58M607 82L611 57M534 64L482 69M348 21L541 62M399 62L473 25"/><path d="M609 55L475 64M526 53L497 41M543 47L482 25M462 18L521 30M622 44L585 21M397 19L354 53M599 35L525 22M429 46L388 22M433 35L497 41M417 33L442 55M505 52L460 15M648 49L646 72M461 19L456 57M417 33L457 16M544 44L572 52M595 78L660 60M631 76L581 52M631 66L658 74M623 56L658 69M349 50L386 59M356 19L414 22M658 74L484 43M540 38L499 52M662 63L648 49M390 49L524 44M541 70L519 71M621 36L562 76M480 67L525 54M519 24L554 55M476 47L652 47M440 55L405 19M604 62L597 72M438 42L399 61M640 72L611 64M656 59L621 37M628 53L417 51M610 82L622 44M460 53L422 30M414 63L463 52"/></g><g fill="none" stroke="#000" stroke-opacity="0.15" stroke-width="0.5"><path d="M440 40L444 40M483 51L457 40M465 41L577 19M463 51L506 53"/><path d="M501 50L499 37M544 64L503 67M501 40L507 71M475 58L446 57"/><path d="M463 39L490 56M433 28L436 58M406 49L426 48M406 49L386 50"/><path d="M450 54L445 62M489 35L487 27M396 47L405 57M426 50L405 32"/><path d="M636 46L552 45M478 45L470 47M530 57L524 55M454 50L438 33"/><path d="M476 42L497 34M492 52L445 62M505 72L506 53M446 58L512 23"/><path d="M531 73L530 69M400 50L433 27M446 57L439 56M617 67L645 61"/><path d="M484 42L481 24M421 53L412 32M431 43L448 60M451 52L495 56"/><path d="M451 52L446 36M506 51L620 45M448 60L444 52M524 55L655 74"/><path d="M396 47L398 53M475 58L464 46M441 45L448 60M406 47L390 52"/><path d="M448 51L415 49M385 50L385 58M571 67L526 37M483 46L486 36"/><path d="M440 40L422 45M458 50L488 20M423 18L408 48M629 67L607 66"/><path d="M474 44L477 17M468 54L463 39M463 51L420 47M431 52L446 30"/><path d="M481 56L508 39M463 52L495 61M548 52L583 74M530 68L555 55"/><path d="M478 45L483 51M476 42L470 22M483 51L440 30M451 52L403 19"/><path d="M468 59L483 46M645 61L605 78M474 42L431 59M462 38L415 34"/><path d="M457 45L450 39M454 31L423 56M391 48L399 49M482 33L494 38"/><path d="M463 51L468 28M432 27L430 32M391 48L382 39M471 45L417 26"/><path d="M496 50L454 50M452 52L444 50M447 42L497 34M478 49L460 49"/><path d="M529 69L474 42M438 33L383 48M431 52L408 48M470 29L465 49"/><path d="M465 25L552 73M444 52L465 49M428 47L446 33M446 58L430 59"/><path d="M414 52L444 56M448 51L440 40M463 49L470 22M396 47L425 24"/><path d="M475 58L501 50M457 45L408 48M438 46L421 38M544 57L555 55"/><path d="M500 48L531 26M367 51L392 57M465 41L422 45M544 64L538 43"/><path d="M429 35L507 67M556 69L553 74M468 54L454 50M440 40L437 48"/><path d="M463 39L506 53M463 52L492 44M481 56L499 40M489 35L432 45"/><path d="M477 35L474 49M469 29L474 42M393 53L384 35M474 49L444 56"/><path d="M442 23L484 65M487 35L477 35M426 48L433 28M454 31L480 24"/><path d="M421 53L405 57M411 41L409 44M469 39L446 36M524 58L566 55"/><path d="M437 48L423 56M490 38L417 50M612 62L628 62M441 52L467 43"/></g><g filter="url(#bl1)"></g><g filter="url(#bl3)"><ellipse cx="470" cy="150" rx="99.2" ry="14.4" fill="#1200c8" fill-opacity="0.09" transform="rotate(0 470 150)"/><ellipse cx="470" cy="120" rx="80.0" ry="19.2" fill="#1200c8" fill-opacity="0.103" transform="rotate(0 470 120)"/><ellipse cx="595" cy="161" rx="56.0" ry="8.0" fill="#1200c8" fill-opacity="0.063" transform="rotate(0 595 161)"/><ellipse cx="625" cy="150" rx="56.0" ry="16.0" fill="#1200c8" fill-opacity="0.018" transform="rotate(0 625 150)"/><ellipse cx="385" cy="143" rx="48.0" ry="11.2" fill="#1200c8" fill-opacity="0.063" transform="rotate(0 385 143)"/><ellipse cx="560" cy="112" rx="28.8" ry="8.0" fill="#1200c8" fill-opacity="0.013" transform="rotate(0 560 112)"/><ellipse cx="535" cy="158" rx="32.0" ry="9.6" fill="#1200c8" fill-opacity="0.027" transform="rotate(0 535 158)"/></g><path d="M362.6 109.5L398.0 112.0L424.3 106.8L448.0 102.9L459.8 101.6L471.6 104.2L492.6 106.8L515.0 108.1L544.4 112.1L562.8 106.8L576.0 106.8L591.7 117.3L615.4 123.9L636.4 133.1L654.8 141.0L675.8 150.2L673.2 156.7L662.6 169.9L636.4 173.8L615.4 176.4L583.8 173.8L531.3 168.6L482.0 167.3L413.8 160.7L340.3 143.6L350.8 131.8L363.9 114.7Z" fill="none" stroke="#1200c8" stroke-opacity="0.2" stroke-width="0.6"/><g fill="none" stroke="#1200c8" stroke-opacity="0.11" stroke-width="0.5"><path d="M436 160L440 131M515 112L480 154M465 155L492 108M407 156L450 122M351 132L447 157M343 144L528 167M498 157L436 154M529 155L383 113M502 124L487 156M526 117L644 172M478 108L673 157M473 139L477 118M498 157L456 149M371 116L592 158M462 105L504 151M423 158L559 169M448 124L467 104M467 151L483 164M405 114L382 114M364 142L457 160M422 160L411 142M431 161L413 130M485 161L491 133M445 161L492 167M498 157L514 119M421 122L456 149M498 157L428 144M422 149L426 122M346 143L383 131M536 159L420 123M440 131L444 119M394 155L412 122M457 131L483 164M479 144L514 119M489 144L515 160M422 147L351 132M468 112L464 126M476 146L593 161M492 108L465 155M367 113L394 112M394 138L383 131M465 143L414 124M399 145L399 141M549 156L519 111"/><path d="M426 122L491 165M492 108L485 141M498 157L512 150M498 157L502 124M595 156L485 161M431 123L408 147M498 157L498 151M545 157L571 158M519 156L559 169M451 129L432 118M498 157L360 131M655 141L634 143M404 145L485 109M580 159L545 157M490 109L505 118M483 132L639 154M461 125L460 125M558 114L566 156M486 119L580 151M466 115L510 112M400 128L595 156M433 149L354 135M395 155L391 154M366 129L411 145M655 145L444 107M526 137L495 150M536 112L410 138M655 145L436 128M547 166L465 162M480 152L496 133M611 173L572 121M431 155L399 139M474 119L426 122M408 111L483 132M422 147L657 151M526 117L399 139M485 109L432 118M479 144L448 124M531 160L431 155M403 153L636 170M383 113L485 144M569 129L424 147M473 114L559 169M407 156L538 167"/><path d="M436 154L448 153M483 132L394 112M351 132L364 115M583 154L496 144M379 150L346 143M522 155L571 158M376 138L496 135M457 123L436 154M397 152L461 145M472 118L360 131M448 124L388 153M388 150L366 129M470 158L498 148M498 157L524 121M408 146L473 125M410 138L472 138M460 114L483 164M476 146L526 117M472 142L484 166M487 142L530 129M498 157L481 147M525 119L524 121M488 122L467 151M512 110L548 144M500 111L536 159M500 111L491 133M498 157L637 166M618 171L543 155M555 138L472 118M498 157L502 124M517 140L438 147M480 154L536 132M467 119L440 159M498 157L419 142M602 164L583 173M434 147L465 143M426 145L499 136M502 117L555 135M504 111L467 119M479 144L502 117M525 119L470 130M460 102L431 155M487 142L496 144M536 132L422 147"/><path d="M498 157L536 161M502 124L509 132M396 138L439 155M449 111L399 139M558 114L583 173M498 157L574 147M504 151L636 174M355 134L509 132M531 128L397 132M655 145L522 155M383 113L371 116M456 144L614 158M466 115L444 160M479 141L496 143M411 145L401 113M522 155L536 161M405 114L434 153M536 132L519 156M394 112L499 136M473 132L448 154M498 157L604 174M672 153L669 149M498 157L589 156M522 155L465 162M525 119L430 121M535 155L650 164M528 167L592 143M424 147L499 142M478 106L461 125M399 145L390 148M526 137L524 121M399 141L524 154M498 157L517 118M474 119L457 160M470 158L580 151M498 157L586 150M485 141L513 144M448 103L480 154M473 125L480 152M400 132L416 145M487 156L423 158M367 141L420 127M498 157L539 116M448 139L463 106"/><path d="M483 149L357 129M602 164L489 136M498 157L510 159M399 145L544 113M466 104L584 161M465 143L489 147M481 147L448 153M384 112L466 115M440 131L491 165M472 118L467 104M529 155L377 150M486 119L463 125M422 147L486 113M498 151L566 156M436 128L500 111M498 151L422 147M390 148L408 147M579 157L564 145M498 151L396 138M480 113L383 131M498 157L411 142M394 155L408 137M536 147L431 123M498 148L522 109M502 117L581 156M498 157L426 145M459 108L518 141M498 157L392 142M536 161L516 166M498 157L502 124M583 154L462 105M498 148L483 149M354 135L536 161M516 166L544 112M498 157L544 113M419 151L423 158M420 127L531 169M408 111L484 166M436 128L472 142M472 128L464 145M394 155L470 130M517 140L536 132M655 145L423 158M425 146L354 135"/><path d="M494 152L495 150M498 157L522 109M465 154L487 156M366 146L396 156M512 110L500 139M461 145L411 145M498 157L463 129M498 157L442 131M522 155L424 107M498 157L604 144M498 157L567 110M450 122L354 135M491 153L496 144M390 148L399 139M457 123L515 111M444 104L500 111M545 157L548 162M498 157L468 112M486 126L436 154M447 157L382 114M426 145L408 111M498 157L485 141M607 158L645 144M483 109L372 138M498 157L642 152M502 124L458 122M504 151L472 128M466 104L580 151M457 131L528 167M473 125L508 108M480 154L490 123M383 113L355 133M498 157L496 135M483 132L448 153M410 138L509 132M480 152L496 143M433 146L444 107M461 145L480 113M474 119L425 146M480 152L528 167M535 140L363 110M456 149L465 143M467 119L590 144M485 141L467 119"/><path d="M485 161L491 153M480 152L490 109M476 146L522 155M403 153L536 147M442 131L510 159M445 161L449 111M469 135L462 105M498 157L485 109M399 145L517 166M433 135L431 131M571 158L548 112M408 148L464 145M396 156L444 119M396 138L414 161M504 111L515 120M499 142L485 141M408 137L424 147M549 156L657 151M419 142L412 122M608 164L641 137M479 150L467 113M410 144L449 139M479 150L481 108M498 157L548 112M400 128L411 116M411 145L439 155M449 111L498 151M462 105L512 110M459 161L598 168M394 148L444 160M510 159L491 153M483 149L645 139M410 144L448 153M655 145L440 131M394 155L423 158M343 144L526 117M655 145L464 126M515 154L351 132M419 151L440 127M500 111L489 144M585 161L531 169M498 151L477 118M424 147L388 135M383 113L444 107"/><path d="M540 122L533 139M448 139L449 139M487 142L576 140M410 144L509 132M408 148L436 160M515 120L428 144M435 116L451 129M407 156L408 147M489 147L353 136M498 157L479 143M522 155L436 154M498 157L573 114M397 152L422 160M419 151L351 132M605 160L533 139M388 150L388 135M498 157L440 159M419 151L515 120M519 111L535 140M540 122L383 131M410 138L465 162M498 127L480 154M390 148L449 139M412 122L457 123M448 124L510 118M496 144L515 112M399 145L448 153M490 109L480 154M618 171L523 138M502 117L456 109M449 111L510 118M469 135L479 144M408 137L433 162M460 114L486 113M498 157L444 104M459 108L388 135M536 147L496 129M445 161L463 125M411 145L400 114M529 155L396 156M485 161L448 124M614 158L394 112M411 116L450 122M408 146L434 147"/><path d="M519 111L457 123M503 164L491 165M414 124L483 149M463 125L478 106M461 145L510 118M431 131L467 119M434 147L642 152M480 152L603 175M376 138L413 130M467 119L419 151M444 107L564 145M515 154L636 166M410 144L500 111M545 157L502 124M498 157L456 109M422 149L436 128M420 123L555 135M394 148L445 161M485 109L426 145M498 157L451 129M479 143L531 128M461 125L402 133M482 167L459 161M489 147L559 169M469 135L496 129M498 157L526 137M498 157L574 147M447 157L388 150M498 157L472 128M498 157L445 161M498 157L436 128M388 135L403 153M434 147L394 138M465 157L535 169M583 154L482 153M465 157L536 161M451 129L524 123M430 144L536 112M408 146L450 125M498 157L390 112M419 142L394 138M498 157L379 151M579 157L447 157M416 145L399 139"/><path d="M498 157L639 154M490 123L479 143M403 153L448 153M618 171L457 123M498 157L614 158M397 152L400 114M491 153L403 157M402 133L496 133M430 121L436 160M502 124L496 135M498 157L509 132M400 139L438 119M498 157L574 147M451 129L480 152M456 109L628 169M465 157L458 148M445 161L470 136M488 122L602 164M498 157L402 133M583 154L642 152M498 157L525 122M571 158L465 162M444 107L435 116M498 157L408 146M384 112L564 145M498 157L461 125M354 135L340 144M394 148L387 120M466 115L516 114M498 157L504 151M498 157L379 150M411 145L607 158M404 145L433 149M403 157L390 112M378 140L463 125M498 157L434 147M531 160L522 109M519 111L545 157M498 157L355 134M499 136L366 129M399 141L468 132M431 123L347 140M439 155L456 144M478 110L516 114"/><path d="M516 166L485 152M504 151L478 106M526 117L366 146M502 124L478 108M457 160L526 117M431 131L405 114M498 157L487 156M605 160L487 142M414 124L565 120M498 157L480 147M614 158L486 119M544 112L397 132M492 155L415 148M474 119L641 157M458 122L425 146M411 145L440 131M504 153L450 122M618 171L448 139M504 111L480 113M410 144L449 111M533 139L499 136M366 146L453 162M518 141L431 123M420 127L383 131M419 151L496 133M526 117L469 105M527 155L489 147M489 136L491 153M486 126L525 122M498 157L607 158M529 155L455 132M460 114L410 144M480 152L479 144M527 155L486 113M498 157L496 143M645 139L629 171M580 159L527 155M473 139L397 132M498 148L448 124M523 138L415 148M492 155L353 136M496 144L449 139M536 147L519 156M526 117L499 142"/><path d="M605 160L376 138M388 153L399 145M510 118L489 136M440 131L470 158M448 124L480 154M498 157L536 159M544 113L535 140M448 139L644 172M394 138L512 150M461 125L450 125M539 116L482 167M483 109L488 122M457 123L505 118M509 132L439 162M433 135L496 129M448 153L496 144M360 143L482 166M458 122L645 139M514 119L450 122M472 104L428 144M498 157L655 141M583 154L383 131M415 148L526 137M394 138L478 110M351 132L376 121M388 150L340 144M498 157L400 128M408 137L411 145M424 147L655 141M498 157L456 149M411 121L510 159M455 132L450 122M435 116L496 144M473 139L478 110M438 119L567 110M494 152L485 152M404 145L438 147M536 132L467 119M379 150L517 140M533 139L498 127M535 140L473 139M457 131L564 158M463 106L664 162M469 135L448 154"/><path d="M676 150L584 174M367 141L544 113M547 115L488 122M484 166L485 161M407 156L502 117M465 157L448 124M458 122L467 151M564 158L604 144M498 157L440 131M498 157L496 143M519 111L473 139M455 132L396 138M444 113L595 156M483 132L515 112M479 144L502 124M585 161L576 140M489 147L531 160M458 122L645 139M480 154L447 157M450 125L403 153M488 122L489 136M527 155L480 152M465 157L496 143M474 119L489 136M364 142L377 150M524 121L584 174M529 155L514 119M385 113L434 153M466 115L548 144M469 105L385 113M498 157L467 151M502 117L531 160M481 147L457 123M481 147L436 154M445 161L485 141M426 122L432 118M525 122L515 108M461 145L376 121M351 132L513 167M393 133L465 154M486 126L462 105M593 161L515 160M498 157L469 105M458 122L483 132"/><path d="M378 140L548 144M487 142L458 130M595 156L430 121M476 146L478 154M592 169L393 133M411 142L383 131M463 125L442 131M450 125L502 124M464 126L354 135M408 148L566 161M472 138L470 130M618 171L432 118M584 174L403 157M498 157L444 113M408 147L595 145M340 144L508 108M676 150L485 141M498 157L577 153M400 139L408 148M479 143L426 145M513 144L498 151M498 157L410 144M618 171L393 133M586 150L595 145M536 161L538 167M433 149L440 131M410 144L448 154M498 148L515 112M502 115L415 148M467 119L464 145M432 118L533 139M498 157L656 146M478 108L485 109M608 164L603 175M388 135L498 148M498 157L364 115M472 128L489 136M483 149L461 145M498 157L457 123M472 142L473 125M482 153L517 131M566 161L615 124M492 155L515 111M436 128L503 164"/><path d="M498 157L410 138M462 105L543 155M498 157L465 105M472 128L448 154M448 154L518 141M547 115L669 149M492 108L440 159M586 150L504 151M518 141L472 104M605 160L668 149M433 162L426 122M453 162L571 158M605 160L603 175M451 129L487 142M400 139L604 144M527 155L525 119M447 157L442 131M502 124L357 138M478 108L363 110M498 157L592 143M460 125L489 136M543 155L513 144M479 143L460 125M485 141L488 122M492 155L522 134M390 112L428 152M407 156L434 147M460 114L468 112M480 147L608 164M493 107L381 112M403 153L504 111M387 144L461 145M535 140L518 109M400 128L490 123M440 127L673 157M457 131L447 157M387 144L390 112M569 129L439 155M465 155L489 147M504 151L513 144M505 118L595 145M498 157L641 137M498 157L639 154M480 152L442 145"/><path d="M579 157L506 149M447 157L487 142M411 145L448 139M410 144L467 119M366 146L492 167M498 157L565 120M353 136L444 113M479 150L480 113M531 128L606 165M403 153L508 108M584 161L564 158M498 157L455 132M351 132L394 148M496 143L489 166M517 140L524 121M410 138L499 142M489 144L547 166M555 138L615 176M545 157L531 128M408 147L548 112M518 141L428 144M472 138L482 166M434 153L445 161M522 155L548 144M470 136L489 136M498 157L519 156M498 157L422 147M433 146L448 139M457 123L483 109M479 141L408 111M579 157L509 132M467 151L394 112M498 157L500 139M433 149L431 123M655 145L486 119M455 132L449 139M536 132L385 113M451 129L502 124M506 149L486 126M428 152L466 125M618 171L603 175M393 133L357 129M442 131L478 106M391 154L467 113"/><path d="M510 118L536 112M498 157L564 158M419 151L414 124M498 157L559 169M376 138L379 151M408 147L521 134M464 145L480 147M408 147L466 115M502 115L397 132M422 147L419 142M422 149L363 110M433 149L434 147M524 123L462 105M498 157L400 114M525 122L496 144M422 160L489 166M473 125L360 131M467 104L467 113M465 154L472 138M367 134L466 115M360 143L488 122M466 115L444 107M498 157L442 145M468 132L397 152M419 151L466 125M498 157L645 144M559 169L538 167M468 132L483 132M423 158L592 117M618 171L401 113M413 130L488 122M456 144L513 144M498 157L394 112M486 113L426 145M529 155L489 136M502 115L539 116M536 159L372 138M536 147L458 130M431 131L400 132M490 123L408 111M618 171L410 138M473 125L473 139M531 160L581 144M360 143L485 109"/><path d="M498 157L438 147M360 143L431 131M576 107L488 122M423 158L472 128M487 156L408 137M510 159L457 160M510 118L571 158M435 116L438 119M444 104L656 146M394 138L536 161M391 154L340 144M488 122L536 147M618 171L453 162M535 155L445 161M480 113L449 111M366 146L396 138M584 161L515 160M571 158L424 147M468 132L478 106M498 148L394 148M486 113L600 143M585 161L669 149M366 129L351 132M474 119L402 123M531 160L539 116M655 145L518 141M383 143L480 154M489 147L483 132M396 156L548 112M496 129L460 125M498 157L444 104M473 125L605 160M463 125L515 154M444 107L473 114M527 155L456 144M502 117L482 166M498 157L483 164M498 157L455 132M439 155L396 138M490 123L465 155M442 131L480 152M498 157L515 120M585 161L394 148M420 127L458 148"/><path d="M508 108L400 139M478 106L411 145M498 157L498 148M423 158L463 106M538 167L536 147M473 132L470 158M498 157L580 159M496 133L435 116M495 150L525 119M467 113L524 154M498 157L650 164M527 155L504 111M350 142L480 154M489 136L539 120M502 115L608 164M410 144L402 123M419 151L387 144M444 160L638 173M580 151L482 153M467 113L512 150M466 125L436 160M410 144L347 140M498 157L431 131M457 131L479 144M411 145L350 142M430 121L481 108M411 142L478 110M400 139L479 141M442 145L404 145M388 150L399 139M634 143L479 143M442 145L444 104M496 133L383 143M480 147L525 119M547 134L516 166M485 152L513 144M508 108L460 125M449 139L457 123M444 104L438 119M533 139L510 118M439 155L447 157M411 142L455 132M498 157L514 119M420 123L472 138"/><path d="M394 138L403 157M583 154L605 160M504 151L480 154M434 153L367 113M355 133L545 157M408 137L564 158M440 127L491 153M428 144L524 154M498 157L479 144M460 114L365 122M451 129L432 118M419 142L544 112M400 139L400 128M513 167L461 145M618 171L566 156M508 108L469 135M498 157L479 150M469 105L444 107M485 152L346 143M581 144L542 168M535 155L440 159M476 146L448 139M499 136L465 105M479 144L403 153M458 148L445 161M496 133L669 149M448 154L472 118M355 133L355 134M504 111L490 109M399 139L351 132M576 140L382 114M480 152L480 147M498 127L528 167M460 125L438 119M516 114L465 155M503 164L473 139M513 144L513 167M447 157L500 111M485 152L408 146M456 149L547 115M457 160L536 132M655 145L444 119M655 145L425 146M641 157L574 147"/><path d="M498 157L364 115M498 157L408 146M410 138L399 139M493 107L526 137M641 137L604 144M555 138L466 115M486 119L526 137M515 111L431 155M498 157L506 149M408 148L542 168M645 144L448 153M498 157L581 144M525 122L512 110M473 114L585 161M498 157L531 169M455 132L371 116M519 111L468 132M458 148L416 145M384 112L407 156M465 105L583 173M397 132L586 150M483 132L509 132M474 119L364 115M535 155L469 105M450 125L638 173M512 150L547 166M408 146L485 109M438 147L416 145M524 121L499 136M465 143L504 153M488 122L492 167M457 131L672 153M504 153L492 108M498 157L444 113M498 157L383 131M379 151L376 121M448 124L469 105M433 149L496 129M458 148L498 148M528 167L477 118M424 147L399 139M461 145L408 147M482 153L505 118M515 154L641 137"/><path d="M580 151L535 169M367 141L394 112M524 121L580 159M498 157L644 172M372 138L433 146M480 152L436 128M614 149L605 160M498 157L664 162M410 144L465 154M479 144L469 135M426 122L448 139M605 160L472 118M388 150L530 129M456 109L456 149M456 144L448 103M505 118L496 129M423 158L422 160M498 157L478 154M485 141L465 105M353 136L456 109M444 107L498 151M447 157L536 161M416 138L548 144M525 122L538 167M408 148L558 114M517 140L489 136M414 115L544 112M431 123L394 138M512 150L496 143M399 141L376 121M535 140L481 147M376 121L401 113M438 147L388 153M458 122L539 120M509 132L569 129M496 129L518 141M411 142L579 157M376 138L381 112M585 161L504 111M419 151L513 167M436 128L431 123M618 171L567 110M419 151L399 141M377 150L478 106"/><path d="M414 115L390 148M458 122L426 145M498 157L432 160M498 157L466 104M517 140L614 149M366 146L522 155M479 144L494 150M498 157L525 122M438 119L583 173M637 166L544 113M428 144L496 129M390 148L400 132M498 157L465 157M481 108L462 105M494 152L465 157M430 121L512 110M498 157L636 166M450 122L465 154M448 124L459 161M458 148L525 119M489 147L423 158M502 124L450 125M531 160L472 142M479 143L544 112M500 111L592 158M357 129L408 146M498 157L402 123M482 153L494 150M408 137L477 118M411 145L456 144M513 144L442 145M423 158L487 142M490 123L516 166M357 129L360 143M423 158L371 116M574 147L486 126M496 143L593 174M407 156L444 113M483 109L498 148M393 133L394 155M433 135L365 122M445 161L493 107M465 155L465 162M411 121L485 109"/><path d="M478 106L515 112M458 122L495 150M491 165L462 105M458 130L395 155M489 144L512 150M515 160L482 153M486 119L486 113M566 161L536 132M394 148L399 139M343 144L461 145M381 112L431 155M366 129L393 133M455 132L494 150M585 161L592 143M525 119L399 145M448 103L440 131M414 115L394 148M458 122L384 112M491 133L397 132M461 145L433 149M465 154L480 113M498 157L601 173M448 139L479 150M618 171L559 169M399 139L376 138M465 155L445 161M467 151L489 144M480 154L411 121M481 147L448 124M408 148L513 167M470 136L583 154M399 145L479 150M489 166L465 155M410 144L535 155M479 144L607 158M504 153L523 138M573 114L460 102M522 155L555 138M498 157L387 144M399 145L383 131M431 131L438 147M431 109L585 161M481 147L400 114M376 138L440 131"/><path d="M545 157L480 152M483 164L467 119M492 167L536 147M381 112L428 144M506 149L431 109M482 153L433 146M399 145L536 112M433 162L525 122M456 109L525 122M498 157L489 166M515 154L496 133M473 139L459 108M477 118L340 144M459 161L489 136M400 139L425 146M498 157L505 118M465 143L465 154M485 161L544 113M618 171L586 150M466 125L483 164M448 154L483 164M430 144L636 174M424 147L606 165M440 127L642 152M592 158L548 144M479 144L522 134M611 173L463 129M400 128L555 138M479 144L383 113M411 142L518 109M391 154L489 147M420 127L414 161M482 153L401 113M595 156L473 114M463 129L459 108M350 142L399 141M484 166L472 104M478 106L586 150M502 117L473 125M544 112L607 158M513 144L485 109M438 147L472 142M523 138L483 149M515 120L480 113"/><path d="M498 157L410 138M465 155L398 112M496 133L421 122M539 116L576 107M498 157L434 147M457 123L438 119M641 157L602 175M415 148L411 142M525 122L526 137M387 144L465 157M498 157L518 109M434 147L431 155M498 127L528 167M529 155L673 157M392 142L442 145M592 158L636 133M535 169L536 161M498 157L433 135M465 154L463 129M642 152L563 107M498 157L440 159M513 144L494 152M485 152L457 131M498 157L488 122M412 122L408 146M485 141L397 132M479 141L525 122M566 156L608 164M498 157L399 139M505 118L460 114M498 157L485 161M489 136L460 114M478 110L460 114M392 142L353 136M473 125L434 147M529 155L480 147M544 113L440 127M463 125L513 167M576 140L515 112M422 147L459 108M353 136L438 147M548 112L448 153M601 173L496 135M595 145L478 108"/><path d="M496 133L539 120M489 147L478 154M465 154L672 153M431 161L385 113M414 124L584 161M480 152L629 171M458 122L478 106M479 144L487 142M442 145L381 112M618 171L355 133M408 137L378 140M461 145L355 133M472 118L382 114M480 152L540 122M564 145L584 161M602 164L387 120M522 134L486 126M525 119L596 173M548 112L529 155M591 122L641 137M468 132L499 142M444 119L465 155M426 145L422 149M402 133L491 165M453 162L499 142M499 142L447 157M438 119L383 131M399 145L397 152M463 106L400 139M461 125L478 106M456 109L485 109M524 121L504 111M472 118L422 149M387 144L436 154M655 145L381 112M460 114L567 110M485 152L379 150M655 145L400 114M514 119L363 110M491 153L396 138M486 119L515 160M364 142L547 134M398 112L518 141M536 147L394 112"/><path d="M498 157L482 167M595 156L536 159M504 111L592 158M498 157L400 132M673 157L573 114M408 137L491 133M480 152L479 143M411 142L431 109M458 148L515 120M518 109L411 116M411 145L378 140M463 125L473 132M519 156L431 123M498 157L422 147M465 157L453 162M498 157L522 155M486 119L614 149M377 150L399 145M494 150L390 148M396 138L397 152M530 129L669 149M428 152L524 154M411 116L357 129M467 119L463 129M414 115L585 161M368 142L408 148M439 155L460 102M533 139L652 171M579 157L572 121M436 128L372 138M581 156L383 113M498 157L438 119M545 157L543 155M474 119L503 164M483 132L428 144M473 114L347 140M430 144L526 117M465 162L513 144M444 113L519 111M487 156L525 119M448 139L448 124M498 157L524 154M419 142L473 132M483 109L487 142"/><path d="M392 142L367 113M536 159L460 125M535 140L607 158M411 142L525 122M467 119L465 154M498 157L547 166M515 120L472 138M354 135L472 138M564 158L472 138M485 141L483 164M485 144L592 143M498 157L479 144M379 150L498 148M496 144L517 140M472 128L472 104M515 111L476 146M498 157L483 149M419 151L398 112M498 151L506 149M423 158L402 123M400 128L458 148M498 157L493 107M498 157L434 147M498 157L399 141M479 143L486 119M608 164L589 156M614 158L433 146M459 161L515 111M494 152L415 148M498 157L480 147M470 130L449 111M498 157L479 150M412 122L531 128M498 157L652 171M461 125L487 142M498 157L363 110M491 133L466 125M493 107L467 113M392 142L479 144M390 112L491 133M528 167L598 168M498 157L486 126M366 146L460 114M496 129L465 154"/><path d="M481 108L440 127M515 154L593 174M485 152L458 122M486 119L634 143M618 171L672 153M513 144L491 165M496 135L391 154M463 106L467 113M395 155L450 125M629 171L650 164M486 119L672 153M559 169L592 169M468 112L467 113M571 158L415 148M408 147L408 137M655 145L502 124M512 150L468 132M485 109L492 167M558 114L480 147M473 125L476 146M408 111L444 107M618 171L402 133M399 145L396 156M498 157L581 144M423 158L432 160M479 150L529 155M496 129L491 133M485 161L517 140M436 160L407 156M642 152L433 149M509 132L608 164M481 108L657 151M419 151L422 147M498 157L398 112M498 157L486 113M504 151L502 115M464 126L468 132M498 157L431 131M467 119L382 114M498 157L585 161M401 113L360 143M496 129L465 162M422 149L516 114M510 112L519 111"/><path d="M378 140L486 119M664 162L485 141M431 123L517 118M527 155L614 149M486 119L364 142M453 162L465 105M404 145L376 138M498 157L431 131M351 132L367 113M498 157L592 143M399 141L482 167M512 150L411 142M456 144L548 144M547 166L581 144M618 171L547 166M555 138L382 114M431 109L449 111M431 123L489 136M473 132L500 111M564 145L491 153M372 138L487 142M494 152L487 142M508 108L430 144M496 144L524 121M472 142L512 110M464 126L477 118M448 154L614 158M388 150L394 148M498 157L461 125M498 157L486 113M488 122L515 108M498 127L399 145M506 149L517 166M492 108L482 166M461 145L368 142M472 138L518 141M515 160L459 108M515 120L490 123M476 146L451 129M494 152L379 151M477 118L400 132M498 157L528 167M444 160L470 130M608 164L516 166"/><path d="M498 157L465 105M536 161L566 161M422 147L400 128M523 138L517 131M498 157L424 107M458 148L517 166M415 148L390 112M548 144L498 148M451 129L383 131M498 157L573 114M343 144L500 139M400 139L636 133M515 154L367 141M365 122L416 138M513 167L472 118M393 133L355 133M379 150L466 125M467 151L426 122M469 135L472 138M447 157L519 156M498 157L438 119M378 140L419 142M577 153L355 134M408 146L444 160M408 137L355 134M655 145L403 153M458 148L399 139M474 119L473 114M447 157L473 114M470 158L350 142M419 151L515 111M401 113L346 143M387 144L539 120M504 153L459 108M655 145L614 158M473 132L496 135M498 157L491 133M502 115L383 131M485 161L494 152M440 131L410 144M408 137L456 149M566 156L555 138M479 143L523 138M498 157L479 144"/><path d="M416 145L432 160M444 113L426 145M448 153L388 153M426 145L411 116M487 142L460 125M498 157L518 141M498 157L459 108M387 144L410 144M467 119L457 131M472 142L420 123M480 147L483 132M444 107L460 125M439 155L485 161M513 144L584 161M498 157L664 162M476 146L448 103M465 105L384 112M463 125L536 159M498 157L509 130M498 151L493 107M368 142L414 115M448 153L410 144M521 134L379 150M512 110L629 171M400 132L431 123M400 132L482 166M498 157L493 107M473 125L444 113M498 157L563 107M571 158L431 109M498 157L483 132M480 154L608 164M450 122L496 144M510 112L592 169M580 159L601 173M366 146L388 150M411 142L479 144M424 147L419 142M535 169L459 161M457 131L479 141M416 145L492 155M496 133L467 151M605 160L496 129M391 154L517 166"/><path d="M382 114L396 138M482 153L489 144M526 137L423 158M496 135L458 148M536 147L436 128M463 129L433 146M460 125L573 114M435 116L431 155M566 156L502 124M498 157L510 159M472 138L357 129M579 157L571 158M440 131L416 138M618 171L402 123M438 147L456 109M473 132L367 113M496 144L576 107M473 132L480 154M434 153L383 131M422 149L422 147M379 151L458 130M438 147L410 144M548 162L420 127M400 139L490 109M479 141L522 155M378 140L387 120M564 158L482 166M655 145L602 175M422 149L408 148M354 135L398 112M383 113L373 119M486 126L485 109M498 157L528 167M469 105L664 162M420 123L416 138M540 122L545 157M498 157L536 161M481 108L431 131M424 147L407 156M498 157L615 124M515 120L400 132M492 167L506 149M448 139L415 148M480 113L523 138"/><path d="M399 145L388 150M564 158L580 151M533 139L592 143M527 155L494 150M433 149L472 104M433 162L440 127M498 157L377 150M463 125L473 132M642 152L513 144M498 157L487 142M498 157L468 132M467 113L576 107M481 147L571 158M522 109L464 126M466 115L567 110M512 150L522 134M513 144L458 148M432 160L444 113M366 146L400 132M431 123L408 111M433 135L489 147M368 142L461 145M465 157L531 160M498 157L431 131M565 120L461 145M438 119L480 147M485 152L496 144M480 152L489 166M476 146L516 114M478 106L470 136M461 125L515 111M498 148L396 156M442 131L354 135M444 113L448 103M408 146L435 116M505 118L433 162M518 109L469 105M618 171L580 151M479 141L555 138M448 103L366 129M655 145L542 168M470 130L426 122M655 145L364 142M618 171L451 129"/><path d="M498 157L536 161M367 141L516 166M655 145L522 134M502 115L431 123M391 154L421 122M489 147L439 155M474 119L491 153M571 158L521 134M468 132L539 116M422 147L360 131M496 144L518 141M498 157L465 157M416 138L422 149M542 168L455 132M504 153L492 167M498 157L346 143M403 153L535 155M498 157L353 136M451 129L468 112M381 112L365 122M530 129L486 113M481 108L465 154M473 139L518 109M498 157L500 139M472 118L531 169M487 156L502 167M498 157L544 112M367 113L491 165M478 110L444 119M473 139L357 129M458 122L482 166M424 147L521 134M408 148L519 111M498 157L512 110M448 139L519 111M498 157L367 134M400 139L350 142M518 109L506 149M536 161L472 118M433 149L521 134M498 127L512 150M410 144L456 109M583 154L573 114M367 134L486 113"/><path d="M498 157L638 173M463 125L431 161M486 126L431 109M376 138L363 110M593 161L545 157M548 144L605 160M669 149L481 108M498 157L367 113M466 115L472 138M419 142L428 144M425 146L467 113M522 134L673 157M469 105L439 162M504 151L482 153M663 170L608 164M496 143L547 134M399 145L484 166M473 125L448 103M498 157L383 143M498 157L583 173M589 156L595 145M498 157L447 157M422 147L381 112M419 151L394 155M522 155L469 105M498 157L510 118M460 114L420 123M496 143L515 111M518 109L491 165M498 157L673 157M563 107L663 170M480 147L504 153M373 119L545 157M618 171L462 105M447 157L489 166M498 157L430 121M498 157L472 104M470 158L473 139M577 153L496 135M433 146L366 146M463 125L448 153M499 142L481 108M523 138L426 122M618 171L505 118"/><path d="M483 109L340 144M377 150L421 122M479 144L433 162M515 154L500 139M480 113L474 119M410 144L419 142M513 167L467 104M480 154L673 157M499 142L592 117M376 121L411 121M498 157L512 110M400 132L433 162M436 128L405 114M403 153L438 119M531 160L584 161M435 116L453 162M498 157L491 133M498 157L637 166M618 171L413 130M592 117L456 144M411 121L416 138M618 171L515 160M519 156L478 110M504 111L444 160M527 155L473 139M498 157L440 159M505 118L522 109M459 108L636 174M411 145L538 167M392 142L509 130M399 145L539 116M498 157L439 155M456 149L579 157M655 145L494 152M531 128L571 158M498 157L628 169M498 157L357 138M498 157L502 115M433 146L448 124M618 171L372 138M466 125L430 121M390 112L510 112M383 131L485 144M555 138L517 118"/><path d="M447 157L543 155M422 147L469 105M531 160L555 135M473 114L400 114M498 157L480 147M516 166L524 123M655 145L500 139M482 153L457 160M463 106L457 131M378 140L615 176M498 157L420 123M468 132L510 118M486 113L528 167M498 157L504 153M464 126L482 153M379 151L402 133M479 143L498 151M472 138L444 107M498 157L408 146M472 128L645 144M498 157L413 130M433 135L412 122M472 128L525 122M548 144L395 155M543 155L566 156M580 159L515 108M415 148L517 166M420 123L414 115M448 139L396 138M438 119L458 130M465 143L449 139M480 152L638 173M498 157L486 126M444 107L403 153M411 145L463 129M499 142L466 115M488 122L414 124M433 146L404 145M500 111L517 118M504 153L404 145M473 114L517 118M490 109L444 104M465 155L365 122M390 148L636 174"/><path d="M488 122L448 124M400 139L379 150M498 157L498 127M506 149L503 164M513 144L504 151M618 171L433 146M480 113L467 113M592 158L535 140M473 114L563 107M468 132L531 128M480 152L424 107M383 143L536 112M536 161L515 120M504 111L531 169M407 156L592 117M493 107L535 140M499 136L456 144M472 118L524 154M498 157L517 131M504 153L413 130M498 157L496 129M442 145L399 141M525 119L400 139M415 148L394 148M455 132L489 136M510 159L526 117M496 135L464 126M498 157L533 139M498 157L589 156M515 112L515 111M464 145L465 157M364 142L360 143M445 161L492 155M456 109L615 176M464 145L500 139M433 162L448 139M566 161L457 160M498 157L595 156M432 118L583 173M467 113L421 122M392 142L368 142M440 131L469 105M479 144L489 166M450 125L467 104"/><path d="M502 124L595 156M460 114L470 130M655 145L500 139M408 148L403 153M410 144L351 132M432 118L485 144M399 145L444 119M415 148L424 147M438 147L408 147M498 157L448 153M515 108L422 160M467 113L444 119M498 157L581 144M498 151L480 152M467 119L598 168M425 146L463 106M435 116L478 106M420 123L465 155M388 135L513 144M498 157L459 161M509 132L500 139M517 166L506 149M491 153L485 161M458 122L340 144M469 105L447 157M480 154L480 113M618 171L571 158M372 138L513 144M456 144L384 112M448 153L466 125M379 151L372 138M519 156L491 165M467 104L422 147M473 114L485 109M460 114L486 126M548 162L438 119M498 157L347 140M399 145L645 139M500 111L460 114M485 152L357 129M411 142L390 112M490 109L641 137M467 104L605 160M535 140L580 151"/><path d="M435 116L398 112M499 142L529 155M447 157L512 110M524 121L509 130M415 148L458 130M496 143L611 173M518 141L531 169M480 113L566 156M549 156L548 144M489 136L444 104M383 143L517 166M498 151L473 139M536 112L480 154M498 157L422 149M405 114L634 143M426 122L405 114M451 129L414 124M499 142L644 172M464 126L448 154M524 154L536 159M498 157L491 153M522 109L500 111M585 161L595 156M404 145L368 142M498 157L439 155M466 115L513 167M431 155L504 153M485 141L423 158M574 147L600 143M567 110L567 110M416 138L465 105M496 143L459 161M509 130L491 165M397 152L458 122M498 157L487 142M460 125L539 116M490 123L485 141M510 159L642 152M500 111L589 156M498 157L460 114M394 148L465 155M498 157L539 116M496 143L428 144M408 146L519 111"/><path d="M399 139L464 145M498 151L567 110M483 109L438 147M498 157L518 109M448 124L496 133M394 148L521 134M498 157L606 165M498 157L360 131M504 151L527 155M498 157L364 142M396 138L420 127M440 127L480 113M438 147L538 167M398 112L414 115M566 161L515 154M579 157L544 113M486 113L519 111M498 157L449 139M490 123L500 111M464 145L465 157M390 148L419 151M505 118L518 141M430 144L590 144M504 153L510 118M464 126L444 107M521 134L480 152M449 111L641 137M438 147L401 113M478 154L480 154M456 109L431 131M564 158L540 122M498 157L491 165M519 156L512 150M531 128L512 150M504 153L493 107M498 157L473 139M618 171L473 114M504 153L515 111M489 144L491 165M473 139L483 132M435 116L487 142M655 145L424 107M510 159L444 113M433 146L410 144"/><path d="M498 157L485 141M426 122L392 142M448 139L436 128M420 127L408 137M444 104L366 129M403 153L563 107M585 161L601 173M343 144L377 150M373 119L461 125M351 132L371 116M515 111L519 156M498 157L479 141M498 151L353 136M512 110L401 113M401 113L442 131M614 149L592 143M425 146L496 133M498 157L392 142M543 155L432 160M438 119L514 119M498 157L518 109M498 157L476 146M608 164L481 147M498 157L538 167M496 144L469 105M618 171L412 122M479 150L494 152M607 158L500 111M478 108L547 166M494 152L476 146M498 157L433 146M422 149L448 154M467 104L516 166M498 157L489 136M473 139L448 103M390 148L408 147M462 105L528 167M473 139L535 169M379 151L459 161M355 133L472 118M436 154L482 166M491 133L480 152M480 154L459 161M525 119L419 151"/><path d="M477 118L432 118M498 157L519 111M433 162L500 111M502 124L413 130M498 157L516 166M498 157L483 109M433 135L515 154M431 161L434 147M502 167L611 173M436 154L498 127M498 157L464 145M524 154L595 156M498 157L555 135M444 107L408 137M483 109L663 170M505 118L464 145M467 151L535 155M425 146L593 174M489 144L496 144M558 114L592 158M410 138L422 149M399 145L434 153M502 124L343 144M444 119L548 144M411 145L489 144M404 145L428 144M486 113L514 119M465 143L499 142M498 157L596 173M465 154L460 125M440 159L489 144M433 135L448 103M476 146L461 125M444 107L444 113M487 156L393 133M397 132L377 150M504 153L487 142M400 114L469 105M539 120L388 153M498 157L372 138M477 118L431 109M473 132L366 129M506 149L468 132M525 119L558 114"/><path d="M400 139L480 152M442 131L473 132M447 157L403 157M496 144L512 166M498 157L480 152M548 144L468 132M355 133L369 121M434 147L453 162M524 121L468 132M366 146L512 150M420 127L637 166M486 119L430 121M408 147L450 122M460 125L512 150M496 143L555 138M367 141L340 144M408 146L465 143M495 150L525 122M451 129L592 169M490 123L479 143M456 109L456 144M459 108L445 161M405 114L444 113M465 154L460 114M422 160L457 160M498 157L464 145M491 133L460 125M498 157L440 131M498 157L448 103M614 158L533 139M426 122L434 147M465 157L403 153M498 157L531 160M478 154L469 105M415 148L593 161M392 142L596 173M584 161L502 167M479 144L467 151M536 159L487 156M466 104L433 149M522 134L521 134M487 156L536 132M419 142L431 123M467 151L439 155"/><path d="M527 155L480 152M470 158L448 139M466 125L390 148M473 114L366 129M465 162L395 155M478 154L433 149M498 157L464 126M451 129L488 122M489 147L513 144M515 160L530 129M498 157L642 152M496 135L381 112M583 154L432 160M506 149L513 167M467 119L555 138M363 110L425 146M496 143L367 113M472 142L384 112M525 119L408 137M489 147L611 173M426 145L460 102M586 150L569 129M491 153L518 141M536 112L583 173M536 147L489 144M483 109L525 122M498 157L517 131M515 112L458 148M543 155L504 153M462 105L499 142M491 133L460 125M436 128L601 173M451 129L394 138M515 160L513 144M539 116L518 141M566 156L564 158M592 158L542 168M470 130L444 107M439 155L442 145M423 158L401 113M489 144L509 130M479 141L483 164M482 153L515 120M480 113L400 139"/><path d="M415 148L486 119M488 122L408 137M463 129L510 118M498 157L363 110M498 157L478 106M388 153L372 138M579 157L605 160M420 123L373 119M426 122L536 161M438 119L500 139M434 147L487 156M383 143L513 167M419 142L483 149M378 140L478 110M379 150L379 151M436 128L421 122M496 129L591 122M515 108L509 130M434 153L391 154M498 157L604 144M411 142L442 131M510 112L521 134M567 110L548 112M368 142L390 148M470 136L468 132M408 146L419 142M510 159L509 130M498 157L486 119M605 160L672 153M410 144L467 151M536 147L555 135M514 119L486 113M618 171L482 166M498 157L512 110M473 114L360 131M458 122L459 161M515 111L464 145M547 166L397 132M498 157L411 121M451 129L590 144M402 133L465 155M479 144L478 110M465 157L492 167M478 106L480 154"/><path d="M483 149L483 164M397 132L432 160M466 104L474 119M447 157L432 160M498 157L548 144M457 123L496 135M485 109L644 172M382 114L444 119M419 142L415 148M536 159L545 157M488 122L483 149M456 149L408 148M517 131L485 141M489 147L436 128M479 144L450 125M469 135L515 160M589 156L584 174M498 157L603 175M488 122L448 154M498 157L378 140M492 155L453 162M506 149L494 150M523 138L522 109M510 112L657 151M351 132L434 147M571 158L489 136M498 157L388 150M473 139L472 142M477 118L478 154M614 158L596 173M426 145L430 144M498 157L517 118M510 159L592 143M438 147L530 129M480 154L411 121M366 146L432 160M431 123L368 142M442 145L438 119M498 157L442 145M416 138L468 112M476 146L583 154M504 151L459 161M474 119L434 153M499 142L420 127"/><path d="M411 142L547 166M498 157L583 173M498 157L586 150M394 138L479 143M498 157L517 118M615 176L583 173M485 152L350 142M548 144L592 117M444 107L596 173M473 125L518 109M444 160L564 158M451 129L463 125M403 157L402 133M449 139L431 155M519 156L482 167M548 112L383 131M498 157L652 171M347 140L357 138M533 139L485 141M489 166L465 154M421 122L510 118M489 144L517 118M498 157L598 168M422 147L431 109M403 153L484 166M423 158L430 144M460 114L472 104M514 119L449 139M536 112L581 144M466 115L399 141M498 148L400 132M431 155L422 147M510 112L581 156M522 155L489 166M433 135L431 123M432 160L495 150M637 166L512 166M468 132L478 106M400 139L449 139M524 121L424 147M498 157L392 142M376 138L428 144M434 153L461 125M548 112L628 169"/><path d="M496 143L448 124M490 109L509 132M432 160L521 134M572 121L555 135M480 152L487 142M379 150L381 112M416 145L525 122M510 118L509 132M498 157L478 106M512 110L467 113M442 145L464 145M498 157L440 127M498 157L408 146M512 166L456 149M608 164L436 128M404 145L456 144M493 107L601 173M442 145L522 134M498 157L398 112M461 125L440 131M543 155L498 148M484 166L509 132M480 154L479 141M440 127L491 133M488 122L536 159M408 137L460 102M674 151L629 171M498 157L415 148M567 110L600 143M655 145L434 147M480 152L485 152M456 144L510 112M500 139L347 140M498 157L398 112M364 142L512 150M580 159L515 112M491 133L470 158M400 139L565 120M500 139L542 168M388 150L486 119M487 142L424 147M470 130L513 167M408 137L433 162M388 135L403 153"/><path d="M486 119L490 109M498 157L479 144M433 162L379 151M403 153L486 113M482 153L538 167M347 140L364 142M563 107L478 106M564 145L515 120M498 157L502 124M461 125L363 110M481 108L449 111M618 171L404 145M448 153L398 112M410 144L487 156M518 141L614 149M517 131L611 173M423 158L465 154M480 152L431 131M496 144L439 155M593 161L487 142M473 125L428 152M473 139L353 136M479 144L491 153M498 157L444 119M456 149L542 168M419 151L638 173M415 148L353 136M504 151L474 119M498 157L364 142M468 112L529 155M498 157L470 158M411 142L472 142M448 154L440 159M494 152L536 159M472 142L451 129M432 118L388 135M458 148L628 169M503 164L593 161M467 151L396 138M517 140L502 115M514 119L577 153M498 157L519 111M372 138L487 156M498 157L422 149"/><path d="M618 171L461 145M448 154L572 121M486 126L458 148M482 153L508 108M470 136L530 129M498 157L655 141M480 147L431 123M618 171L524 121M413 130L463 106M618 171L519 111M498 157L489 144M391 154L524 121M496 129L504 111M394 155L385 113M449 111L482 153M498 157L469 105M394 148L387 120M510 118L433 135M482 153L360 143M567 110L467 104M383 131L425 146M555 135L523 138M498 157L590 144M433 146L483 164M467 119L548 162M473 139L463 125M411 145L517 118M488 122L431 161M428 152L440 131M614 158L602 164M509 130L522 134M385 113L478 154M536 132L424 147M449 139L439 155M515 111L502 115M457 131L433 162M572 121L655 141M465 157L491 133M498 157L421 122M498 157L481 108M581 156L489 136M498 157L673 157M357 138L466 125M470 130L411 142"/><path d="M498 157L606 165M414 124L432 118M498 157L539 116M513 144L487 156M496 135L598 168M608 164L432 160M499 136L538 167M628 169L410 144M513 167L615 176M431 155L412 122M498 157L419 151M436 128L450 122M433 146L455 132M586 150L664 162M400 139L400 128M459 161L416 138M605 160L656 146M499 142L457 160M379 150L487 142M515 111L458 148M469 135L525 122M498 157L383 131M510 118L577 153M522 155L502 115M593 161L636 174M357 129L428 152M479 144L414 115M498 157L487 142M466 125L465 143M473 139L668 149M492 108L470 158M498 157L467 104M524 121L424 147M592 169L518 141M607 158L522 155M498 157L448 154M641 157L385 113M543 155L555 138M579 157L523 138M480 152L414 124M478 110L435 116M456 144L465 154M355 134L390 148M592 158L576 107"/><path d="M448 154L459 161M498 157L486 113M498 157L583 173M395 155L426 145M593 161L468 132M394 155L399 141M431 123L440 131M464 145L482 153M498 157L387 144M479 143L448 139M399 139L486 126M425 146L436 160M430 144L390 112M641 137L367 134M498 157L629 171M448 154L465 155M463 125L577 153M444 119L364 115M485 109L523 138M467 119L567 110M526 137L400 128M580 159L479 150M367 141L638 173M498 157L420 123M545 157L472 104M549 156L480 147M536 112L433 135M506 149L484 166M448 154L543 155M404 145L528 167M470 136L491 153M529 155L377 150M498 157L502 167M486 113L485 109M486 119L468 132M413 130L408 111M472 142L440 131M498 157L508 108M482 153L478 154M517 140L519 156M504 151L596 173M629 171L595 156M439 155L383 143M496 144L496 133"/><path d="M498 157L456 109M394 148L485 109M498 157L526 117M522 155L496 144M480 152L593 161M528 167L531 169M498 157L421 122M478 108L585 161M465 143L514 119M456 149L535 155M498 157L480 154M504 111L580 159M379 150L456 109M498 157L530 129M474 119L569 129M489 136L479 144M400 114L478 108M391 154L408 137M388 153L489 144M513 144L485 152M438 119L500 139M461 125L436 128M618 171L566 161M460 102L382 114M368 142L518 141M438 119L424 147M483 164L492 167M490 109L462 105M440 127L498 127M453 162L404 145M496 144L472 142M502 115L601 173M504 111L567 110M521 134L461 145M517 118L410 138M548 162L468 132M608 164L593 174M608 164L645 139M544 113L422 160M440 127L628 169M498 157L423 158M498 157L474 119M480 154L515 111M400 132L434 153"/><path d="M401 113L408 137M411 145L483 164M547 166L473 132M489 136L531 169M377 150L416 138M420 127L548 144M498 157L614 158M458 122L411 145M460 114L487 156M499 142L460 102M465 154L516 166M394 112L376 138M463 125L399 139M498 157L636 133M655 145L473 125M504 153L394 138M637 166L473 114M402 123L472 142M527 155L547 166M618 171L355 134M498 157L482 166M480 147L515 108M470 136L367 134M399 145L360 143M498 157L490 109M400 114L419 151M433 162L403 157M399 141L472 104M487 156L403 157M518 141L636 166M505 118L502 124M379 150L603 175M465 143L398 112M584 161L526 117M618 171L346 143M480 113L457 123M498 157L572 121M425 146L395 155M397 132L392 142M473 132L584 174M460 125L397 132M555 135L510 159M506 149L549 156M372 138L479 144"/><path d="M517 140L608 164M521 134L354 135M397 132L453 162M502 117L472 128M483 109L419 151M504 111L524 154M480 113L467 151M459 108L515 111M415 148L502 115M419 151L425 146M390 148L425 146M536 132L526 137M465 143L440 131M411 142L408 137M519 111L397 132M431 123L438 119M455 132L438 147M498 157L408 147M421 122L414 161M517 118L476 146M498 157L470 136M479 144L458 122M450 125L393 133M498 148L602 164M479 150L467 151M536 147L523 138M400 132L384 112M498 157L425 146M566 156L614 149M430 144L448 153M442 145L400 139M483 149L600 143M473 114L616 129M515 160L581 144M479 141L652 171M498 157L457 160M390 148L431 123M404 145L515 111M584 161L529 155M415 148L479 144M499 136L481 147M479 141L465 143M515 154L490 123M402 123L466 125"/><path d="M400 128L405 114M580 159L576 140M474 119L479 141M378 140L502 117M433 162L515 120M465 143L465 162M508 108L486 119M502 124L377 150M428 152L527 155M536 147L513 144M479 144L444 107M426 145L416 145M489 136L601 173M499 142L408 146M340 144L484 166M468 132L517 118M496 133L408 147M518 141L371 116M438 119L489 147M440 127L467 113M457 123L616 129M395 155L384 112M480 154L504 151M408 148L583 173M536 159L663 170M498 157L581 156M498 157L413 130M476 146L422 147M448 154L364 142M498 157L540 122M448 124L351 132M487 156L455 132M498 157L673 157M618 171L571 158M432 160L603 175M498 157L538 167M400 139L408 111M479 141L548 144M506 149L383 143M542 168L499 136M436 160L461 145M483 132L491 133M428 152L500 139M465 155L403 153"/><path d="M473 125L496 143M498 157L343 144M422 147L387 120M618 171L641 137M579 157L559 169M372 138L476 146M387 144L414 124M489 144L492 167M524 154L524 121M388 135L414 124M413 130L513 167M431 155L478 108M600 143L360 131M536 159L484 166M366 146L416 145M473 114L526 137M498 157L400 114M472 138L510 118M498 157L364 142M473 114L411 145M490 109L388 150M533 139L641 157M592 158L343 144M498 157L529 155M478 106L492 108M419 151L638 173M376 138L350 142M479 143L486 119M536 147L449 139M498 157L456 144M529 155L548 144M487 156L431 109M404 145L458 122M481 108L467 104M498 157L492 155M498 157L639 154M494 152L518 109M547 166L424 107M485 144L637 166M463 106L399 145M458 148L458 130M519 111L479 144M364 115L458 122M514 119L547 115"/><path d="M426 145L456 149M504 151L466 104M383 131L438 119M476 146L457 160M606 165L500 139M608 164L536 159M405 114L411 145M498 157L483 109M440 159L411 121M515 112L460 114M483 149L433 146M486 119L473 132M430 121L408 137M515 111L656 146M499 142L531 128M476 146L516 114M473 132L466 115M526 117L521 134M426 122L383 113M458 130L524 123M464 145L604 144M498 151L555 135M401 113L526 117M398 112L444 104M498 157L483 164M422 147L397 152M498 157L472 128M408 111L524 123M527 155L480 152M372 138L394 138M473 132L364 142M474 119L494 152M618 171L510 118M498 157L536 159M445 161L467 119M405 114L394 155M498 157L422 149M544 113L496 129M498 157L473 114M440 131L431 131M602 164L636 174M478 106L593 174M456 149L603 175M592 143L448 153"/><path d="M424 147L405 114M396 156L482 166M489 144L394 148M515 108L657 151M486 126L444 104M481 147L524 123M547 166L368 142M628 169L634 143M478 106L461 125M402 133L382 114M408 147L391 154M451 129L592 143M376 138L480 154M482 153L399 141M584 174L461 145M491 153L414 115M364 142L371 116M473 125L487 156M394 112L411 145M435 116L487 156M513 144L480 152M499 142L512 166M498 157L476 146M434 147L430 121M470 130L432 118M410 144L419 151M630 173L489 166M517 131L444 119M519 156L489 136M492 167L455 132M487 142L499 136M470 136L493 107M585 161L571 158M379 151L421 122M492 108L580 151M354 135L411 145M430 144L518 109M589 156L586 150M468 112L595 145M581 156L548 162M585 161L601 173M419 151L354 135M378 140L448 139M466 125L494 152"/><path d="M545 157L559 169M436 128L435 116M460 114L465 155M428 152L450 122M515 154L526 137M448 139L512 166M490 109L535 140M605 160L489 136M515 154L466 115M469 135L448 139M438 147L459 161M498 157L638 173M420 127L379 151M485 152L377 150M498 148L431 123M535 155L438 147M456 144L410 144M458 148L525 122M489 136L438 119M394 148L431 123M504 151L581 156M430 144L447 157M641 157L579 157M466 115L506 149M493 107L449 111M498 157L486 126M486 113L455 132M498 157L472 142M573 114L536 112M397 152L401 113M517 118L456 144M592 117L604 144M498 157L434 147M472 142L463 129M495 150L604 174M496 133L516 166M524 154L496 144M472 142L538 167M498 157L522 109M618 171L466 115M478 154L536 112M415 148L495 150M498 157L540 122M577 153L433 146"/><path d="M498 157L514 119M595 156L498 148M379 150L555 138M589 156L634 143M465 154L502 167M536 112L595 156M459 108L459 161M422 160L465 143M524 121L347 140M584 161L592 158M346 143L357 129M498 157L512 150M468 132L467 119M490 123L486 119M461 125L411 142M498 157L360 143M559 169L506 149M480 113L444 160M572 121L505 118M524 123L426 145M431 161L487 142M589 156L472 128M426 145L473 125M396 138L596 173M498 157L616 129M346 143L376 138M485 109L408 148M498 157L503 164M392 142L408 111M447 157L580 151M487 156L467 104M498 157L364 115M394 155L502 115M655 145L457 160M498 157L420 123M515 154L473 139M523 138L480 147M450 125L526 137M545 157L611 173M431 109L440 127M608 164L529 155M521 134L371 116M526 117L428 152M502 115L474 119"/><path d="M480 154L489 144M485 109L483 132M431 161L449 111M592 169L563 107M618 171L668 149M408 147L357 129M444 113L394 148M502 115L650 164M642 152L547 115M618 171L536 159M614 158L439 162M450 122L472 138M502 117L571 158M539 120L502 115M431 155L536 132M401 113L395 155M498 157L400 132M581 156L536 132M387 120L440 131M476 146L430 144M539 116L394 155M490 109L366 146M491 133L500 111M410 138L463 129M498 157L605 160M506 149L364 115M518 141L478 154M391 154L479 143M396 156L472 128M455 132L456 144M459 161L518 141M456 149L378 140M465 143L379 150M408 137L456 144M496 144L448 153M479 143L379 150M449 111L411 145M494 150L496 144M467 151L444 119M585 161L598 168M498 157L402 133M473 125L543 155M376 138L340 144M415 148L525 119"/><path d="M390 148L465 157M559 169L564 158M486 126L480 152M424 147L397 132M492 155L462 105M498 157L479 143M510 159L458 130M411 142L480 154M433 135L555 138M515 160L466 125M498 157L473 139M422 149L607 158M444 119L394 148M486 119L478 110M438 147L396 156M498 157L636 133M498 157L426 122M474 119L440 159M367 141L392 142M498 157L592 169M526 137L400 128M498 157L381 112M498 157L579 157M453 162L396 156M411 142L399 141M479 141L614 158M439 155L400 114M524 154L482 153M459 108L496 133M498 157L402 133M450 125L448 153M487 156L524 154M430 144L502 124M395 155L500 139M435 116L569 129M387 144L411 145M415 148L407 156M498 157L524 154M353 136L504 153M512 150L474 119M555 135L402 133M498 157L602 164M498 157L411 145M394 112L394 155"/><path d="M398 112L385 113M498 157L472 142M495 150L432 118M474 119L402 133M479 143L509 130M498 151L524 123M531 160L590 144M466 125L502 115M462 105L408 148M485 144L517 166M408 137L433 135M473 132L531 160M482 166L563 107M478 108L630 173M466 125L522 155M498 157L574 147M450 122L465 143M488 122L420 123M488 122L460 102M500 139L576 107M486 126L410 144M479 150L522 155M498 157L456 149M470 158L500 139M444 113L456 144M465 157L526 137M505 118L343 144M414 115L499 142M444 107L438 119M498 157L474 119M498 157L416 145M399 139L423 158M411 145L469 135M498 157L460 114M563 107L408 146M548 162L509 130M524 121L479 141M504 153L539 120M589 156L579 157M485 144L498 151M525 119L485 161M396 156L486 113M522 109L491 133M498 157L473 132"/><path d="M469 135L555 138M473 125L466 115M439 162L533 139M396 138L517 140M498 157L589 156M393 133L404 145M466 115L387 120M512 110L440 159M388 150L436 160M444 107L466 115M655 145L436 128M498 157L586 150M490 123L466 125M527 155L543 155M438 147L470 158M465 154L595 156M657 151L496 129M400 128L431 161M424 147L473 132M403 153L440 159M432 118L461 125M414 124L605 160M509 130L650 164M498 157L411 116M535 155L564 145M498 157L566 161M584 161L510 159M485 144L419 142M478 110L448 154M473 139L472 138M579 157L498 151M478 106L564 145M414 161L402 123M547 166L432 118M493 107L611 173M498 157L438 147M433 135L436 128M466 104L431 109M535 155L411 142M448 153L388 150M360 143L460 125M494 152L547 134M467 151L473 139M388 153L487 156"/><path d="M498 157L639 154M488 122L451 129M618 171L436 160M432 118L515 154M399 141L400 132M396 138L444 113M455 132L521 134M498 157L513 144M480 154L502 117M499 136L424 147M498 157L486 126M474 119L525 122M487 156L489 147M432 160L433 135M564 158L508 108M461 145L399 141M401 113L517 166M473 125L495 150M346 143L433 146M498 157L392 142M590 144L604 144M500 139L535 155M518 141L528 167M498 157L583 154M411 142L383 131M566 161L581 144M433 135L542 168M505 118L450 125M399 141L498 151M548 144L564 158M343 144L669 149M428 144L458 130M480 154L515 120M442 145L372 138M485 144L539 116M504 151L448 154M472 128L388 135M434 147L496 135M559 169L517 140M485 152L644 172M486 126L473 125M529 155L421 122M498 157L642 152M466 115L399 139"/><path d="M407 156L408 148M494 150L402 133M499 142L449 139M498 157L565 120M351 132L434 153M473 139L573 114M368 142L458 130M366 129L376 121M473 114L533 139M395 155L486 126M472 118L500 139M486 119L463 129M438 147L451 129M533 139L539 116M536 147L586 150M433 162L463 106M664 162L387 144M614 158L473 125M416 138L350 142M564 158L423 158M467 113L494 152M498 157L586 150M461 145L424 107M465 155L430 144M481 147L517 166M489 144L517 140M408 148L517 118M460 125L483 132M498 157L467 119M460 125L438 119M411 145L468 132M498 148L545 157M545 157L548 144M498 157L485 161M444 119L444 160M498 157L479 143M482 153L428 152M468 132L473 139M444 119L440 127M536 112L498 151M525 122L592 117M430 121L482 167M396 156L457 160M436 128L430 144"/><path d="M514 119L479 143M440 159L485 152M480 154L457 123M618 171L615 124M399 141L410 144M492 108L544 113M465 154L431 123M426 145L434 147M473 125L634 143M395 155L456 144M438 119L463 106M469 135L477 118M498 157L580 151M524 154L481 147M509 130L431 155M428 144L465 157M392 142L412 122M431 155L420 127M439 162L391 154M448 153L450 125M485 109L456 144M456 109L502 124M472 138L536 161M498 157L388 135M498 157L482 167M480 152L411 116M498 157L363 110M424 147L499 136M463 129L559 169M401 113L403 157M527 155L468 132M492 108L669 149M517 131L489 166M408 146L465 155M495 150L413 130M529 155L487 142M460 114L467 119M408 147L411 142M494 152L486 126M496 129L486 119M498 157L448 154M498 157L396 138M498 157L379 150M397 152L478 108"/><path d="M492 155L498 127M465 154L439 155M431 161L652 171M433 135L411 116M516 166L499 136M525 119L605 160M548 112L378 140M411 142L390 112M465 154L518 109M357 138L445 161M464 145L444 160M535 155L589 156M460 125L512 166M498 157L408 148M465 105L384 112M433 146L440 131M438 119L388 150M530 129L399 145M460 114L460 102M498 157L456 149M498 157L422 160M372 138L538 167M411 142L644 172M445 161L500 139M498 157L436 128M517 131L522 155M458 130L460 125M360 131L583 154M566 156L397 132M515 120L502 115M498 157L593 174M408 137L467 151M592 143L423 158M470 130L436 128M498 157L508 108M466 104L434 153M473 114L485 109M464 145L523 138M448 153L602 175M416 138L444 160M535 140L535 169M498 157L558 114M514 119L465 105M408 146L539 120"/><path d="M376 138L463 106M536 159L490 109M444 160L581 144M449 139L491 133M423 158L424 107M433 135L459 108M494 152L459 161M431 109L450 125M498 157L673 157M343 144L388 150M498 157L657 151M523 138L445 161M498 157L522 134M498 157L563 107M581 156L384 112M416 145L397 152M440 127L419 142M473 139L458 122M498 157L474 119M522 109L463 106M394 138L668 149M498 157L480 154M411 145L473 125M567 110L628 169M573 114L521 134M444 113L493 107M453 162L467 151M585 161L584 161M458 122L405 114M586 150L487 142M498 157L564 145M423 158L514 119M473 132L367 141M498 157L470 136M655 145L433 146M444 119L504 151M411 121L467 119M407 156L444 160M480 154L442 145M519 111L502 124M426 145L419 142M498 157L377 150M456 144L592 169M466 115L350 142"/><path d="M498 157L491 165M510 112L591 122M540 122L584 174M410 144L381 112M481 147L426 122M426 145L442 131M465 155L436 128M416 145L373 119M463 129L412 122M515 108L466 115M498 157L400 128M505 118L524 123M479 143L498 148M544 112L663 170M567 110L485 152M450 125L464 126M566 156L379 151M492 108L496 135M512 110L476 146M440 127L493 107M383 143L500 139M607 158L510 112M411 116L448 154M605 160L482 166M400 132L555 135M498 157L469 135M605 160L395 155M411 116L426 145M577 153L499 136M467 119L515 108M423 158L433 162M608 164L400 132M641 157L566 161M422 147L431 161M498 157L544 112M488 122L426 122M498 157L668 149M499 142L636 133M433 149L508 108M488 122L496 129M498 157L531 128M583 154L403 157M464 126L465 155M485 144L436 160"/><path d="M419 142L517 118M425 146L453 162M448 124L500 111M548 144L536 147M387 144L515 120M478 154L444 104M481 147L517 118M464 126L498 127M504 151L500 139M500 139L519 156M514 119L585 161M394 155L472 104M498 157L513 144M498 157L577 153M630 173L513 144M564 158L482 153M430 121L367 113M504 151L464 145M486 113L518 109M655 145L366 146M479 143L487 156M470 136L515 112M444 113L463 129M536 147L461 145M485 161L442 145M460 102L482 167M394 148L464 126M498 157L485 152M502 117L652 171M353 136L376 121M402 123L480 154M420 123L416 138M371 116L564 145M390 148L525 122M607 158L474 119M383 113L382 114M372 138L384 112M394 138L602 164M411 116L431 131M448 139L483 149M498 157L489 144M485 141L433 162M435 116L428 152M486 126L466 115"/><path d="M645 144L478 108M442 131L357 138M488 122L645 144M459 161L515 154M444 104L467 119M526 117L390 148M608 164L469 105M391 154L439 155M450 125L547 134M442 145L615 176M498 157L576 107M470 136L357 138M411 116L486 126M498 157L547 134M498 157L476 146M490 109L528 167M477 118L482 153M524 123L496 133M535 169L472 128M436 128L438 119M509 130L368 142M595 156L571 158M388 153L467 113M460 114L436 154M468 132L410 138M467 151L519 156M496 129L478 106M495 150L458 148M498 157L543 155M479 143L593 161M467 151L548 162M480 154L486 113M571 158L637 166M479 144L411 116M618 171L636 166M502 124L602 175M416 145L456 109M455 132L465 143M498 157L470 136M642 152L357 138M492 108L531 160M486 113L366 146M416 145L463 106M476 146L425 146"/><path d="M498 157L504 111M498 157L414 124M444 113L470 130M517 140L468 132M440 127L586 150M498 157L579 157M618 171L479 141M547 134L513 144M474 119L439 162M531 160L458 148M498 157L357 129M479 150L431 131M480 113L430 121M392 142L547 134M466 104L394 112M400 132L422 149M460 125L449 139M618 171L465 154M424 107L393 133M498 157L473 139M536 159L499 136M486 113L444 107M518 141L467 119M663 170L564 145M436 154L428 144M512 150L480 154M465 143L421 122M536 132L536 147M498 157L519 156M577 153L602 164M518 109L433 149M458 148L402 123M394 138L451 129M518 109L404 145M433 162L485 109M479 143L495 150M473 139L404 145M517 140L506 149M424 147L436 128M673 157L491 165M463 125L394 155M480 154L448 103M498 157L485 109M602 175L469 135"/><path d="M388 150L408 137M584 161L438 147M498 148L460 114M496 129L440 159M467 119L547 166M414 115L405 114M536 159L515 120M503 164L480 154M536 132L522 109M450 125L472 142M513 167L470 158M498 157L457 131M419 142L589 156M674 151L598 168M650 164L636 166M505 118L482 167M515 160L519 156M547 134L559 169M367 141L422 160M368 142L376 138M490 109L486 113M544 113L485 109M410 138L583 173M567 110L650 164M431 109L448 153M414 161L657 151M472 138L416 138M399 139L425 146M486 113L424 147M472 138L483 149M492 167L444 113M510 159L383 131M457 123L538 167M487 142L470 130M473 114L382 114M458 130L492 155M448 139L502 117M483 149L419 142M522 109L545 157M504 151L590 144M489 147L480 147M453 162L372 138M410 144L474 119M492 155L489 136"/><path d="M498 157L367 141M436 128L458 122M493 107L515 108M411 145L450 125M517 131L535 140M457 160L583 173M628 169L522 134M480 154L567 110M458 148L483 149M522 155L444 119M515 160L433 135M388 150L346 143M468 112L456 109M465 157L399 141M533 139L460 114M498 157L387 120M522 155L449 111M377 150L450 125M346 143L535 155M431 161L360 143M448 153L496 144M508 108L463 129M655 145L381 112M515 120L576 107M442 131L413 130M416 138L664 162M498 157L382 114M422 147L398 112M422 147L457 123M605 160L489 136M434 153L490 123M481 147L455 132M515 120L381 112M616 129L515 108M422 160L535 140M527 155L512 166M498 127L448 103M422 149L391 154M439 162L672 153M482 153L590 144M394 155L502 117M448 124L422 147M566 156L596 173M450 122L459 108"/><path d="M533 139L536 147M491 133L472 138M464 145L449 139M491 153L591 122M456 109L388 150M536 159L357 129M395 155L447 157M465 162L489 136M457 123L426 145M466 115L366 129M400 114L399 145M524 121L515 160M367 113L485 109M487 156L480 113M585 161L376 138M498 157L479 150M367 141L364 115M411 142L382 114M398 112L412 122M478 106L458 148M496 144L505 118M393 133L574 147M607 158L630 173M407 156L395 155M516 114L656 146M657 151L639 154M408 146L510 112M535 155L535 140M377 150L411 121M353 136L397 152M464 126L434 153M533 139L472 142M494 150L476 146M567 110L515 154M525 119L502 167M426 145L387 144M428 152L479 141M434 153L506 149M496 144L535 155M533 139L674 151M478 154L465 154M433 149L449 139M498 157L465 105M498 157L545 157"/><path d="M480 113L519 111M515 154L407 156M369 121L505 118M527 155L574 147M618 171L484 166M500 111L493 107M489 136L351 132M467 119L479 144M410 144L442 145M428 144L459 161"/></g><g fill="none" stroke="#1200c8" stroke-opacity="0.25" stroke-width="0.5"><path d="M498 157L515 168M498 157L502 168M498 157L461 165"/><path d="M498 157L534 169M498 157L458 165M498 157L512 168"/><path d="M498 157L519 168M498 157L503 168M498 157L542 170"/><path d="M498 157L461 165M498 157L470 166M498 157L550 170"/><path d="M498 157L563 172M498 157L536 169M498 157L508 168"/><path d="M498 157L441 163M498 157L495 168M498 157L520 168"/><path d="M498 157L483 167M498 157L454 165M498 157L563 172"/><path d="M498 157L504 168M498 157L514 168M498 157L475 167"/><path d="M498 157L563 172M498 157L535 169M498 157L548 170"/><path d="M498 157L443 164M498 157L476 167M498 157L513 168"/></g><g fill="none" stroke="#1200c8" stroke-opacity="0.25" stroke-width="0.5"><path d="M618 171L583 174"/><path d="M618 171L633 174"/><path d="M618 171L641 173"/><path d="M618 171L600 175"/><path d="M618 171L616 176"/><path d="M618 171L604 175"/><path d="M618 171L580 173"/><path d="M618 171L614 176"/><path d="M618 171L589 174"/><path d="M618 171L639 173"/><path d="M618 171L588 174"/><path d="M618 171L618 176"/></g><g fill="none" stroke="#1200c8" stroke-opacity="0.065" stroke-width="0.5"><path d="M579 157L504 153M428 152L548 162M533 139L492 155M513 144L485 144M355 133L420 123M645 139L444 104M576 107L530 129M527 155L467 119M638 173L656 146M513 167L595 156M489 166L614 149M388 153L472 118M469 135L485 141M408 137L420 127M479 144L483 132M438 147L482 153M480 154L495 150M357 138L461 145M628 169L583 173M583 173L503 164M641 137L655 141M600 143L566 156M438 147L453 162M416 138L426 145M445 161L440 159M411 145L468 132M521 134L424 147M517 140L472 104M483 109L512 110M614 158L600 143M480 152L484 166"/><path d="M469 135L496 133M492 155L502 167M487 156L377 150M436 154L477 118M492 155L496 143M545 157L474 119M559 169L491 133M408 148L411 142M536 112L428 144M422 149L422 147M655 141L465 154M428 152L491 153M390 112L423 158M421 122L499 136M536 132L496 143M376 138L513 144M468 112L496 133M629 171L519 156M436 154L455 132M391 154L581 156M408 147L400 139M448 139L496 143M547 134L498 148M357 138L367 113M463 106L367 134M416 145L423 158M605 160L566 161M451 129L476 146M394 112L485 141M366 146L604 144M536 161L457 131"/><path d="M491 165L515 108M527 155L467 119M465 143L533 139M489 136L516 166M531 160L522 109M467 113L346 143M431 131L426 122M494 152L514 119M518 109L449 139M611 173L592 169M523 138L498 148M408 147L434 147M603 175L499 136M547 134L580 151M451 129L608 164M524 121L467 104M524 154L536 132M634 143L387 144M484 166L410 144M433 135L438 119M494 150L398 112M433 162L469 135M485 152L480 154M440 127L365 122M602 175L472 128M433 149L464 145M388 153L464 145M634 143L668 149M434 153L403 157M400 139L436 154M472 128L376 121"/><path d="M444 113L486 113M522 109L431 155M397 132L388 150M478 108L433 146M457 131L465 162M436 154L425 146M566 161L469 105M411 145L472 104M489 166L510 159M399 145L638 173M346 143L457 160M504 151L605 160M431 155L504 153M395 155L430 144M436 154L664 162M641 137L536 112M480 154L448 139M479 143L478 106M433 146L466 125M420 127L478 110M634 143L564 158M592 158L580 159M525 122L496 144M371 116L444 107M364 115L399 145M445 161L468 112M490 123L496 133M482 167L479 150M457 123L478 110M527 155L564 158M545 157L436 154"/><path d="M486 113L518 109M483 132L436 154M451 129L596 173M464 145L479 143M489 144L495 150M448 154L381 112M584 174L524 123M574 147L476 146M528 167L481 108M641 137L614 158M673 157L639 154M504 151L502 117M544 112L645 139M340 144L465 162M468 132L589 156M371 116L479 144M355 134L357 138M458 122L496 133M408 137L515 154M559 169L496 133M545 157L473 125M524 121L531 160M478 106L581 144M394 112L367 141M483 132L502 117M410 144L438 147M401 113L382 114M512 110L510 112M515 108L535 155M428 144L463 106M431 131L440 127"/><path d="M545 157L517 140M492 108L592 169M465 162L573 114M411 142L592 158M438 119L450 125M664 162L580 151M487 156L470 130M414 161L448 103M605 160L488 122M468 112L530 129M487 142L485 144M408 146L574 147M465 155L539 116M463 125L464 126M489 144L470 158M589 156L602 164M536 161L563 107M489 136L495 150M522 134L539 120M449 111L483 109M449 111L428 152M472 118L526 137M360 143L413 130M548 162L571 158M593 174L538 167M521 134L458 122M538 167L515 111M397 152L444 104M434 153L483 109M403 153L396 138M490 109L431 155"/><path d="M458 148L483 109M536 147L586 150M388 150L466 115M367 141L547 166M558 114L602 175M466 115L608 164M605 160L536 161M460 125L593 174M485 109L473 132M403 153L363 110M499 142L496 135M523 138L373 119M510 159L491 133M407 156L482 153M470 158L353 136M517 118L414 161M416 145L478 108M480 152L655 141M448 103L467 104M459 161L504 153M652 171L634 143M399 139L645 144M549 156L407 156M586 150L522 134M400 132L431 131M416 138L431 123M544 113L492 108M516 114L444 160M605 160L571 158M459 108L457 160M478 108L566 156"/><path d="M483 132L515 112M514 119L504 111M595 156L548 144M489 166L571 158M505 118L592 117M494 150L536 161M524 121L555 138M576 140L573 114M614 158L586 150M363 110L403 153M431 109L487 142M598 168L524 154M591 122L480 154M496 135L538 167M464 145L420 123M549 156L584 161M591 122L383 113M350 142L400 114M384 112L438 119M595 156L426 122M448 154L438 119M518 141L472 142M360 143L558 114M456 144L424 147M517 131L485 141M496 143L478 108M533 139L420 123M629 171L567 110M394 112L396 138M393 133L461 145M536 159L433 162"/><path d="M489 147L470 158M473 114L510 159M411 116L428 144M400 132L466 104M459 108L440 127M580 151L639 154M496 143L453 162M431 155L478 110M397 132L402 123M492 167L479 144M433 162L457 160M459 108L564 145M428 144L445 161M399 141L440 127M367 134L433 146M422 147L408 111M664 162L668 149M390 148L569 129M382 114L400 114M645 139L650 164M468 112L444 113M467 119L396 156M519 156L465 155M485 141L535 155M433 135L535 169M639 154L515 111M536 161L522 155M393 133L360 143M510 159L385 113M673 157L365 122M402 133L383 113"/><path d="M628 169L531 169M492 155L472 118M351 132L391 154M430 144L583 154M490 123L465 162M596 173L498 151M494 152L459 108M614 149L494 150M387 120L367 134M408 147L448 139M538 167L515 154M531 169L513 144M498 151L444 160M422 160L531 128M538 167L571 158M400 128L535 140M388 135L410 144M510 112L508 108M494 150L410 138M494 152L581 144M513 167L482 153M517 166L479 141M566 161L483 132M544 112L531 169M436 128L404 145M470 130L394 138M467 113L467 104M431 131L479 141M436 154L430 144M509 130L535 155M636 174L506 149"/><path d="M381 112L371 116M436 154L529 155M472 118L458 130M608 164L448 153M603 175L408 111M451 129L439 162M469 105L390 112M512 110L580 159M425 146L411 121M399 145L589 156M503 164L543 155M547 166L448 103M396 156L400 139M340 144L502 115M478 106L473 114M512 166L504 153M456 109L369 121M456 109L426 122M510 159L524 154M481 108L482 166M428 152L397 132M630 173L410 144M502 167L447 157M376 138L470 136M535 155L496 144M419 142L388 150M408 137L433 149M448 103L515 154M496 143L522 155M383 143L414 124M531 160L543 155"/><path d="M516 114L533 139M641 137L606 165M421 122L431 109M458 130L571 158M448 154L465 154M398 112L502 117M448 124L430 121M468 112L492 108M373 119L420 123M571 158L600 143M636 166L593 174M460 102L539 116M517 140L515 120M394 112L376 138M630 173L593 174M489 147L605 160M656 146L518 109M485 161L515 111M634 143L579 157M583 154L542 168M467 119L439 162M367 134L442 145M496 143L494 152M555 135L407 156M448 124L400 132M607 158L536 147M422 147L636 174M506 149L629 171M482 153L485 141M592 117L516 114M495 150L453 162"/><path d="M456 144L408 148M411 145L390 148M525 122L657 151M545 157L478 106M605 160L584 174M379 150L465 162M545 157L479 150M458 148L405 114M379 151L414 115M567 110L448 153M469 135L559 169M529 155L448 154M464 145L457 123M392 142L420 123M463 106L524 154M402 133L397 152M457 131L495 150M527 155L472 118M408 148L459 108M396 138L428 152M403 153L402 123M436 160L510 112M592 158L470 158M652 171L444 160M448 103L489 147M393 133L444 119M639 154L536 159M444 160L491 153M420 127L451 129M601 173L581 156M496 143L465 157"/><path d="M465 143L496 144M479 150L459 161M505 118L496 129M490 123L564 145M515 120L525 122M601 173L444 113M340 144L385 113M499 142L522 155M555 135L592 158M414 161L431 131M455 132L516 166M503 164L457 160M629 171L485 161M596 173L428 144M547 115L544 112M474 119L473 139M448 139L585 161M509 132L486 113M448 124L424 107M581 156L629 171M431 109L394 138M436 128L432 118M605 160L590 144M505 118L536 132M486 126L628 169M422 147L408 146M467 151L492 167M524 154L465 155M496 135L491 153M405 114L426 122M521 134L492 155"/><path d="M518 109L477 118M432 160L357 138M444 113L431 161M479 143L482 167M448 124L415 148M489 136L470 158M383 143L411 121M576 107L525 122M672 153L590 144M393 133L470 130M456 149L458 130M385 113L478 108M366 129L466 104M457 160L495 150M364 115L384 112M422 160L424 147M502 115L663 170M563 107L525 122M523 138L547 134M518 141L521 134M459 161L490 123M616 129L676 150M383 131L448 153M385 113L498 151M595 156L614 149M544 112L519 156M500 139L589 156M478 106L564 145M514 119L439 162M411 116L447 157M468 112L483 164"/><path d="M397 132L408 146M408 146L663 170M516 166L558 114M398 112L357 129M355 134L401 113M402 133L482 167M458 130L492 167M340 144L645 139M419 142L396 156M403 157L419 151M422 149L451 129M434 147L379 151M420 123L414 115M525 119L483 149M669 149L656 146M567 110L439 155M433 146L531 128M382 114L548 112M444 119L400 132M444 119L357 129M566 156L513 167M547 134L464 145M399 145L519 156M390 148L387 120M576 140L377 150M586 150L479 144M515 160L517 140M576 140L496 135M347 140L585 161M436 154L390 148M411 116L416 145"/><path d="M478 154L422 147M407 156L408 148M535 169L512 150M448 153L405 114M545 157L525 122M442 145L408 137M371 116L494 152M584 161L586 150M384 112L489 147M467 113L465 155M474 119L483 164M483 109L434 147M403 153L524 123M536 132L368 142M498 148L502 167M423 158L428 152M531 160L583 173M470 158L500 111M641 137L433 149M428 144L508 108M465 155L486 119M461 125L528 167M598 168L528 167M503 164L420 123M583 173L388 150M657 151L473 139M463 129L629 171M512 166L469 135M641 137L411 116M411 145L536 147M572 121L512 110"/><path d="M576 140L644 172M525 122L467 151M470 158L371 116M415 148L519 156M504 153L491 153M592 117L470 158M438 119L426 122M472 104L508 108M449 111L576 140M367 113L467 104M512 166L492 167M502 167L388 135M394 148L420 127M567 110L592 143M639 154L636 133M430 144L476 146M558 114L485 109M504 153L425 146M408 137L414 124M637 166L479 143M411 145L432 118M598 168L580 151M544 113L449 111M593 174L490 123M515 108L481 147M363 110L400 128M510 159L431 161M535 155L481 147M378 140L424 147M467 104L515 120M394 138L450 122"/><path d="M506 149L473 125M489 147L504 151M422 149L629 171M378 140L486 119M676 150L486 126M420 127L444 107M363 110L535 140M580 151L583 154M393 133L518 141M458 122L466 125M502 117L489 147M376 121L394 155M488 122L396 138M431 155L483 164M408 111L343 144M673 157L583 173M636 133L580 151M440 159L415 148M669 149L641 157M517 131L519 156M367 141L400 139M517 140L459 161M400 132L444 104M467 119L515 120M540 122L524 121M543 155L401 113M405 114L639 154M373 119L482 167M395 155L500 111M636 133L545 157M531 169L639 154"/><path d="M445 161L477 118M394 148L416 138M426 145L465 143M491 133L522 109M402 133L496 129M494 152L480 147M434 147L350 142M408 147L463 106M515 160L531 169M637 166L428 144M604 174L500 111M408 148L444 160M460 114L480 113M583 173L579 157M579 157L379 150M468 132L479 143M516 166L383 131M645 144L636 166M592 158L606 165M502 167L515 154M474 119L536 112M641 157L524 123M466 125L485 152M457 160L513 144M574 147L509 132M388 153L422 147M414 115L459 108M517 166L535 155M403 157L424 147M485 152L489 166M544 112L494 152"/><path d="M583 173L504 151M357 129L357 138M474 119L467 151M436 154L400 132M422 160L492 167M459 108L433 162M522 109L502 117M422 147L524 121M516 166L494 150M431 123L496 143M456 109L408 147M544 113L512 110M504 151L479 144M607 158L586 150M673 157L473 139M593 161L478 154M517 118L539 120M433 135L376 121M525 119L478 108M650 164L567 110M451 129L390 112M573 114L593 174M407 156L579 157M506 149L590 144M603 175L592 169M636 174L517 166M573 114L490 109M481 108L397 132M459 108L595 145M492 167L399 139M601 173L583 173"/><path d="M502 124L414 115M408 147L433 162M430 121L408 147M515 112L483 109M529 155L518 141M579 157L436 154M489 147L488 122M407 156L465 162M463 129L483 109M483 109L461 125M474 119L399 139M415 148L544 113M444 104L580 151M482 166L353 136M407 156L430 121M478 110L432 118M398 112L498 148M428 144L596 173M401 113L382 114M548 162L535 169M496 143L531 128M519 111L456 144M346 143L645 139M459 161L490 123M483 132L580 159M645 139L636 174M470 136L542 168M383 113L461 145M555 135L449 111M363 110L371 116M416 145L448 103"/><path d="M608 164L422 147M576 140L540 122M576 107L524 154M596 173L512 166M510 118L425 146M576 107L536 132M515 120L502 124M608 164L585 161M432 160L548 162M464 126L340 144M367 134L473 114M381 112L366 129M502 115L517 131M466 115L405 114M504 151L516 114M480 154L399 141M524 123L518 109M407 156L425 146M394 155L416 138M583 173L490 123M433 135L513 167M515 112L581 156M390 112L495 150M536 159L538 167M673 157L522 155M450 125L444 104M449 139L428 152M422 147L422 149M601 173L566 161M485 152L592 117M544 113L499 136"/><path d="M655 141L674 151M548 144L476 146M448 139L366 129M414 161L400 132M474 119L486 126M414 115L431 161M367 134L444 160M515 108L465 162M462 105L472 104M388 150L394 138M517 118L465 143M480 113L524 154M457 160L467 151M547 166L574 147M396 138L544 112M444 119L504 153M614 158L593 161M584 161L366 129M444 119L438 147M538 167L536 159M430 121L447 157M413 130L411 145M492 167L472 118M544 112L542 168M487 156L378 140M394 138L399 139M530 129L566 156M593 161L548 112M461 125L461 145M426 145L416 138M394 138L422 149"/><path d="M592 117L438 119M636 170L499 142M515 160L485 144M390 148L394 112M512 110L448 139M515 108L524 123M394 148L347 140M524 121L498 151M473 114L479 143M636 170L566 156M459 161L496 133M457 160L489 147M574 147L465 105M486 126L515 160M432 160L448 153M449 139L458 148M484 166L466 115M461 125L484 166M567 110L495 150M492 108L444 104M592 143L425 146M488 122L485 144M581 144L528 167M448 154L414 124M523 138L392 142M639 154L530 129M436 128L465 155M499 136L525 122M431 131L420 127M460 125L482 166M448 154L470 136"/><path d="M424 147L433 162M563 107L505 118M421 122L547 115M439 155L457 123M496 143L636 170M432 160L472 138M351 132L483 149M466 115L478 108M436 160L548 144M636 166L593 174M450 125L494 152M543 155L428 144M395 155L504 153M414 115L472 128M539 116L526 137M484 166L426 145M486 119L399 139M367 134L400 114M367 134L439 155M369 121L420 127M512 110L524 121M485 161L636 170M397 152L366 146M521 134L489 136M602 164L416 145M435 116L535 169M641 137L515 154M439 155L607 158M442 131L480 152M479 143L412 122M368 142L458 148"/><path d="M518 109L512 166M505 118L473 139M435 116L343 144M455 132L510 118M379 150L567 110M472 142L579 157M379 150L581 156M655 141L482 167M547 134L526 137M459 161L369 121M400 139L536 132M533 139L408 148M510 159L353 136M485 109L523 138M495 150L422 160M498 127L547 134M384 112L466 115M355 133L598 168M674 151L676 150M473 139L404 145M539 116L448 124M641 157L586 150M449 111L529 155M522 109L502 124M456 149L491 153M432 118L466 104M531 160L536 159M674 151L668 149M468 132L458 122M515 154L528 167M433 149L366 146"/><path d="M614 158L517 118M525 122L500 139M401 113L567 110M464 126L463 125M525 122L350 142M487 142L453 162M411 142L529 155M642 152L526 137M591 122L387 144M457 123L433 162M402 123L432 160M615 124L485 161M514 119L531 169M408 137L431 155M547 134L479 144M547 115L510 112M430 144L440 127M433 135L453 162M494 152L580 159M674 151L669 149M433 162L419 142M367 141L383 143M400 128L465 155M496 144L458 148M396 138L580 151M479 143L576 107M394 148L422 160M490 109L416 138M411 142L422 160M540 122L408 137M524 154L502 124"/><path d="M399 139L512 110M379 150L485 144M460 102L543 155M486 119L580 159M572 121L451 129M526 137L543 155M467 113L436 160M447 157L383 143M420 127L431 161M486 119L580 151M449 111L432 118M422 160L461 145M548 112L481 108M502 124L468 132M602 164L592 143M472 104L401 113M583 173L478 154M489 147L459 108M458 122L436 154M515 160L576 107M580 151L567 110M470 136L354 135M579 157L496 144M502 124L478 110M502 117L460 102M404 145L465 105M463 125L574 147M524 123L483 109M465 143L504 151M528 167L481 108M521 134L536 132"/><path d="M387 120L531 160M460 125L516 114M525 119L571 158M467 151L432 160M392 142L502 115M491 153L480 113M466 125L533 139M400 128L517 131M465 162L515 154M412 122L566 161M543 155L496 135M608 164L483 109M563 107L502 115M431 155L476 146M491 165L519 156M400 128L377 150M433 162L431 131M431 123L367 134M563 107L465 154M479 143L506 149M400 139L444 104M480 152L502 117M402 133L472 104M408 148L425 146M589 156L489 144M469 105L404 145M676 150L657 151M563 107L573 114M579 157L400 128M526 137L424 147M353 136L515 160"/><path d="M384 112L472 138M458 130L496 143M400 132L547 134M459 108L431 123M456 109L494 150M524 154L460 114M592 143L493 107M408 148L524 154M657 151L630 173M485 144L504 153M408 146L371 116M378 140L382 114M433 162L470 136M478 154L517 118M581 144L548 162M529 155L369 121M435 116L416 145M494 150L509 132M388 153L379 151M363 110L388 135M364 115L468 112M468 112L460 125M492 155L483 132M495 150L456 149M468 112L458 122M567 110L480 113M414 161L515 160M364 115L394 138M504 111L472 128M478 110L436 128M591 122L449 111"/><path d="M408 111L448 153M404 145L405 114M536 112L515 120M469 135L387 144M340 144L354 135M433 135L480 154M483 132L444 107M405 114L479 150M485 144L479 143M606 165L571 158M465 162L486 119M555 138L573 114M525 119L416 145M476 146L410 144M485 152L425 146M531 128L366 129M435 116L483 149M401 113L515 160M416 145L422 147M602 164L596 173M608 164L470 158M456 149L641 137M439 155L543 155M579 157L357 138M434 153L364 115M422 149L482 166M433 135L494 152M430 121L430 144M428 144L517 131M433 146L394 155M408 137L467 151"/><path d="M465 105L381 112M394 148L394 155M496 143L535 140M414 161L433 162M517 140L628 169M436 128L491 133M460 114L478 110M519 111L510 112M426 122L456 109M399 139L391 154M466 125L530 129M480 154L442 131M645 139L524 154M567 110L479 150M517 118L479 141M545 157L590 144M439 162L435 116M431 131L476 146M439 162L579 157M543 155L456 144M489 166L470 136M426 145L447 157M535 155L595 145M433 135L431 131M379 150L636 133M459 161L483 109M498 151L434 147M547 166L530 129M440 131L364 142M408 147L367 141M566 156L504 153"/><path d="M408 111L547 134M500 111L436 160M525 119L438 119M365 122L383 131M351 132L414 161M496 144L483 164M489 166L439 155M510 159L542 168M431 131L419 151M517 140L483 149M585 161L580 159M574 147L483 109M369 121L547 115M595 156L432 160M674 151L616 129M460 102L402 123M615 124L674 151M502 124L476 146M412 122L458 122M515 154L491 165M604 144L598 168M614 149L584 161M449 139L414 115M430 144L602 164M371 116L592 169M436 160L480 147M424 107L492 167M343 144L448 139M510 112L595 156M414 124L448 103M472 118L440 159"/><path d="M548 112L491 133M538 167L608 164M444 104L390 112M543 155L548 112M414 115L390 112M519 111L482 166M528 167L479 143M445 161L567 110M473 114L457 160M516 166L487 142M519 111L517 166M549 156L472 118M451 129L432 118M377 150L412 122M531 169L439 155M515 154L495 150M473 132L467 113M478 108L459 161M604 174L515 160M354 135L470 130M478 106L444 107M514 119L465 154M448 153L499 142M449 111L504 151M431 155L396 138M505 118L366 146M473 114L463 125M469 105L394 155M489 147L518 109M445 161L463 125M515 108L480 147"/><path d="M399 141L350 142M410 138L400 132M515 160L472 128M496 135L576 140M642 152L513 167M439 155L444 160M379 151L589 156M408 148L397 132M522 109L430 144M355 134L438 147M373 119L388 135M485 161L367 134M528 167L439 162M378 140L499 142M614 158L664 162M373 119L514 119M579 157L607 158M433 146L524 123M479 150L468 132M513 144L536 161M536 161L590 144M355 134L377 150M548 144L604 174M515 160L458 122M611 173L605 160M639 154L456 144M480 152L510 112M483 132L394 148M614 158L457 131M457 131L500 111M473 132L472 118"/><path d="M655 141L656 146M459 108L581 156M457 160L448 154M549 156L580 151M419 142L411 142M467 104L399 139M483 132L473 114M419 151L548 112M397 152L391 154M592 117L462 105M458 130L463 106M628 169L439 162M410 138L478 106M480 154L564 145M431 123L400 114M469 135L423 158M394 155L470 158M472 118L515 154M496 143L605 160M526 117L576 107M583 154L496 144M548 144L367 113M604 144L593 161M565 120L543 155M535 169L473 139M615 176L590 144M480 147L465 162M399 139L353 136M589 156L600 143M472 118L431 109M439 155L411 145"/><path d="M540 122L470 130M602 175L606 165M426 122L533 139M383 143L515 120M516 114L509 130M645 139L440 159M539 120L461 145M489 147L676 150M510 118L434 147M444 160L382 114M530 129L536 159M472 118L377 150M592 143L442 145M496 143L465 154M466 104L448 153M486 119L480 154M593 174L466 125M411 121L387 120M555 135L606 165M444 160L473 125M451 129L531 160M390 112L463 125M474 119L369 121M540 122L502 115M636 174L548 162M434 147L455 132M486 126L403 153M514 119L547 115M606 165L536 161M566 156L509 130M422 160L466 125"/><path d="M424 147L377 150M363 110L411 116M468 132L431 109M517 166L502 167M515 154L407 156M388 135L488 122M444 160L440 127M351 132L422 160M611 173L607 158M478 106L616 129M567 110L505 118M390 112L385 113M419 142L426 122M453 162L448 124M391 154L411 121M442 131L411 145M492 167L518 141M485 141L458 122M478 110L430 144M517 118L564 158M548 144L577 153M485 109L390 112M398 112L593 161M411 116L394 155M482 153L405 114M371 116L470 136M482 166L366 146M436 160L517 166M504 153L465 155M453 162L430 144M451 129L536 159"/><path d="M399 141L484 166M566 156L592 143M449 111L540 122M364 115L364 142M580 159L579 157M504 111L450 125M376 121L489 166M425 146L505 118M388 150L368 142M607 158L586 150M644 172L672 153M524 123L518 109M411 116L371 116M364 115L456 109M461 145L487 156M638 173L472 128M577 153L515 112M388 135L448 124M460 114L469 105M365 122L489 166M408 146L368 142M350 142L422 147M502 124L516 114M485 152L504 151M519 111L673 157M478 154L399 139M644 172L639 154M467 151L584 174M604 144L478 154M414 161L468 112M615 176L491 165"/><path d="M540 122L492 108M604 174L567 110M518 109L400 139M634 143L402 123M595 156L547 166M407 156L450 125M505 118L569 129M424 147L422 160M616 129L639 154M464 145L491 153M468 112L467 113M355 134L360 143M468 112L510 118M639 154L645 144M432 160L450 125M480 152L394 148M489 136L444 160M676 150L346 143M506 149L420 123M434 153L456 149M478 106L467 119M634 143L512 110M495 150L502 167M547 134L607 158M595 145L573 114M489 144L442 131M438 119L399 139M481 108L444 119M539 120L543 155M449 139L486 113M581 156L479 141"/><path d="M504 151L465 157M385 113L364 142M595 145L526 137M456 109L405 114M399 141L366 129M504 111L545 157M668 149L576 140M531 160L456 109M476 146L478 110M388 135L486 126M479 143L444 107M487 156L402 123M517 166L487 156M512 150L430 121M576 107L579 157M428 152L492 108M467 113L517 166M402 123L567 110M569 129L567 110M472 118L490 123M639 154L480 113M431 155L473 132M479 150L485 109M403 157L472 128M601 173L517 140M548 162L641 137M522 109L465 157M394 148L430 121M514 119L580 151M584 174L390 148M592 169L566 156"/><path d="M481 147L467 104M592 117L608 164M499 142L465 157M614 158L542 168M343 144L408 137M581 156L498 151M676 150L663 170M559 169L530 129M367 141L377 150M544 113L488 122M466 104L499 136M485 109L431 123M464 145L444 113M567 110L414 115M590 144L478 110M536 112L566 161M416 138L403 157M411 145L414 115M367 134L470 158M479 143L395 155M544 113L538 167M351 132L528 167M489 136L491 165M449 111L652 171M483 149L525 122M524 154L482 153M433 162L472 104M566 161L492 155M398 112L411 116M485 144L415 148M354 135L463 129"/><path d="M448 139L402 133M425 146L394 155M366 146L400 132M637 166L601 173M602 175L611 173M351 132L346 143M411 145L408 147M636 174L645 139M506 149L536 132M357 129L449 139M408 148L460 114M547 134L481 147M634 143L641 157M545 157L544 112M498 148L502 167M411 142L382 114M605 160L547 134M601 173L535 140M411 121L548 112M480 152L571 158M639 154L650 164M430 144L411 116M628 169L366 129M486 126L644 172M440 159L364 142M584 174L533 139M545 157L572 121M431 123L412 122M343 144L481 108M515 108L388 135M614 158L468 132"/><path d="M583 173L589 156M502 115L472 128M672 153L645 144M644 172L381 112M517 140L502 117M403 157L449 111M524 121L473 132M450 122L444 119M426 145L400 132M558 114L457 160M415 148L455 132M460 102L485 109M428 144L426 145M616 129L502 124M510 159L535 169M548 144L467 104M397 152L431 109M503 164L365 122M536 147L542 168M379 151L458 148M524 154L601 173M491 165L448 139M411 116L652 171M448 103L463 125M645 144L467 151M491 153L430 121M513 167L600 143M465 154L422 147M392 142L516 114M473 139L396 138M555 138L510 112"/><path d="M481 147L539 116M433 146L448 103M636 166L547 134M504 151L535 140M650 164L615 176M492 167L499 136M576 107L564 158M340 144L502 115M467 119L485 141M354 135L376 121M394 155L350 142M608 164L500 139M645 139L655 141M645 144L368 142M444 160L394 155M513 167L668 149M381 112L444 119M577 153L657 151M515 120L458 130M576 107L676 150M465 157L421 122M394 155L503 164M439 162L447 157M542 168L470 158M496 135L504 151M395 155L524 121M431 155L544 113M442 145L430 121M448 153L388 135M544 112L489 166M364 142L419 142"/><path d="M463 125L376 121M360 131L473 139M486 119L492 155M608 164L674 151M531 128L614 158M465 105L487 156M499 142L494 152M440 127L512 110M411 145L459 108M499 142L515 108M539 120L583 173M491 133L402 123M472 142L498 148M388 153L425 146M584 161L535 140M490 123L451 129M468 132L394 138M489 144L536 159M360 131L364 115M408 137L473 125M450 122L555 135M628 169L589 156M496 144L425 146M496 135L444 107M369 121L473 125M548 112L573 114M447 157L448 103M636 166L539 120M592 117L444 160M593 161L539 116M611 173L581 156"/><path d="M419 142L516 166M584 174L516 166M390 112L467 119M513 167L435 116M592 143L457 123M482 166L581 144M636 174L515 160M440 159L408 147M351 132L435 116M628 169L636 166M607 158L383 113M466 104L458 122M480 147L479 143M479 144L460 125M628 169L637 166M366 146L396 138M559 169L408 147M431 123L414 161M500 139L411 116M449 139L340 144M481 147L450 125M481 108L462 105M602 164L431 131M421 122L473 114M572 121L473 114M652 171L615 176M481 108L472 104M383 113L515 112M424 107L415 148M428 144L543 155M490 109L591 122"/><path d="M535 155L515 108M547 166L535 140M394 138L379 151M357 129L398 112M383 113L392 142M478 154L488 122M434 153L449 139M472 104L549 156M536 161L473 132M636 166L616 129M539 120L656 146M516 114L464 145M413 130L488 122M595 145L496 135M479 150L479 144M476 146L486 113M494 152L346 143M592 143L473 125M436 160L479 144M428 152L402 133M465 162L439 162M423 158L592 169M605 160L526 137M408 148L494 152M483 164L450 122M528 167L456 149M504 151L398 112M498 151L509 130M399 145L388 135M579 157L433 149M638 173L636 170"/><path d="M615 176L584 174M492 108L506 149M369 121L350 142M448 153L482 153M489 166L480 147M500 111L499 142M572 121L444 119M547 134L408 148M365 122L442 145M398 112L377 150M450 122L400 114M442 145L467 113M461 145L461 125M422 160L444 107M493 107L606 165M433 162L407 156M408 148L431 131M457 123L513 144M650 164L526 117M503 164L485 161M481 108L571 158M372 138L472 118M383 113L637 166M360 131L596 173M592 169L656 146M383 113L431 155M533 139L502 115M444 119L379 150M512 166L512 110M483 109L676 150M535 155L426 122"/><path d="M396 138L522 134M531 169L481 147M368 142L419 151M530 129L512 166M676 150L584 161M455 132L485 161M400 132L420 127M355 134L387 120M426 145L504 111M581 156L481 147M422 149L637 166M595 156L492 155M351 132L379 151M486 119L450 122M449 111L399 145M478 106L438 119M571 158L567 110M470 158L498 127M545 157L535 169M522 155L593 174M572 121L652 171M521 134L545 157M499 136L524 154M539 120L629 171M489 166L384 112M400 132L515 120M364 142L407 156M448 153L434 147M583 173L440 127M399 141L540 122M467 113L444 119"/><path d="M510 159L473 132M549 156L480 113M400 132L376 138M602 175L527 155M394 138L451 129M493 107L430 144M593 161L581 156M408 111L536 132M444 119L457 160M485 141L496 135M544 113L465 154M458 148L431 109M355 133L413 130M580 159L492 108M387 144L567 110M555 135L430 121M547 166L455 132M590 144L458 130M521 134L364 115M515 120L468 112M491 165L412 122M663 170L540 122M353 136L398 112M478 106L492 167M486 113L455 132M458 122L457 123M403 157L415 148M525 122L458 148M636 166L422 160M510 118L490 109M396 138L502 117"/><path d="M431 131L515 111M489 136L519 111M434 147L346 143M433 162L566 161M402 133L376 121M450 125L457 131M492 108L629 171M357 138L525 122M388 135L435 116M572 121L438 119M485 141L392 142M564 145L572 121M469 135L366 129M431 161L367 141M516 166L444 119M394 138L458 148M502 117L482 166M483 132L499 136M472 142L459 108M517 131L512 166M558 114L510 159M584 174L580 159M483 132L535 155M448 124L410 144M440 131L536 159M548 144L672 153M510 118L515 154M598 168L512 166M615 124L529 155M601 173L642 152M415 148L434 153"/><path d="M369 121L426 145M505 118L499 142M473 139L436 128M490 109L420 127M378 140L522 109M644 172L636 170M467 151L604 174M492 108L469 105M383 131L363 110M400 132L383 143M547 115L474 119M410 138L480 113M439 155L404 145M444 107L422 147M548 162L391 154M549 156L664 162M516 166L473 139M615 176L581 156M363 110L498 148M535 155L485 161M460 102L595 145M416 145L473 132M450 125L458 122M655 141L611 173M388 135L394 155M387 144L360 131M400 128L426 145M629 171L584 174M364 142L467 119M488 122L510 159M498 151L465 162"/><path d="M468 132L430 121M460 114L455 132M366 129L383 113M460 125L430 144M463 106L464 145M451 129L376 121M366 129L479 144M397 152L408 137M487 156L435 116M567 110L351 132M432 160L472 142M466 125L514 119M614 149L565 120M663 170L614 149M396 138L411 116M539 120L641 157M512 110L480 152M403 157L400 114M540 122L664 162M433 149L426 122M461 145L436 128M376 121L512 150M591 122L457 131M564 158L577 153M555 138L515 154M378 140L425 146M350 142L364 115M576 107L544 113M506 149L400 114M533 139L502 167M444 107L413 130"/><path d="M602 175L566 161M463 129L480 113M524 154L414 115M467 104L674 151M408 147L504 151M401 113L404 145M479 144L458 122M363 110L378 140M584 161L472 142M490 109L394 138M478 154L579 157M529 155L415 148M480 154L535 169M465 105L513 144M357 129L451 129M517 166L410 138M408 146L388 135M581 156L565 120M366 129L408 148M430 144L442 145M489 144L586 150M592 158L357 129M439 162L449 111M439 162L479 150M466 125L482 153M460 125L542 168M391 154L350 142M472 118L524 154M672 153L529 155M445 161L458 130M499 136L555 135"/><path d="M574 147L439 162M366 146L432 160M498 151L521 134M606 165L603 175M663 170L664 162M465 157L431 155M468 112L453 162M540 122L592 169M565 120L463 106M383 131L411 116M522 155L492 167M639 154L518 109M628 169L486 119M615 124L456 144M465 157L448 103M433 162L434 147M472 104L524 123M487 156L468 112M458 148L486 113M536 161L593 161M383 131L377 150M376 138L367 113M576 107L616 129M603 175L531 169M431 155L456 149M414 161L481 147M536 147L672 153M413 130L467 104M530 129L515 111M592 143L547 134M433 146L428 152"/><path d="M549 156L413 130M487 156L513 167M363 110L439 155M525 122L482 153M456 109L496 129M439 162L465 157M583 173L459 161M353 136L343 144M487 156L489 147M431 161L400 139M404 145L368 142M510 159L485 109M412 122L526 117M593 174L395 155M473 139L411 142M404 145L425 146M500 139L463 106M423 158L357 129M366 129L584 174M516 166L458 148M391 154L355 134M657 151L419 142M400 132L483 149M500 139L473 114M489 147L481 108M605 160L630 173M431 155L445 161M608 164L540 122M444 104L384 112M445 161L363 110M579 157L458 130"/><path d="M593 161L461 145M589 156L581 144M383 113L589 156M402 123L413 130M411 142L502 115M431 109L430 121M502 124L519 111M431 131L419 151M536 147L434 147M399 141L433 135M411 121L398 112M399 139L402 123M394 138L351 132M602 164L528 167M579 157L515 112M530 129L488 122M489 136L360 131M502 115L466 125M524 154L564 145M403 157L432 118M462 105L564 158M583 173L603 175M489 144L430 121M368 142L408 146M396 156L473 139M460 125L525 122M496 143L596 173M555 138L592 158M517 140L448 124M584 174L536 132M457 160L416 138"/><path d="M394 138L346 143M366 146L460 114M404 145L485 144M390 112L523 138M424 107L399 141M440 131L448 124M487 142L496 135M615 176L590 144M478 154L378 140M408 148L421 122M431 109L584 161M528 167L444 107M522 155L630 173M479 143L519 156M601 173L589 156M516 166L472 138M431 155L494 152M449 111L491 153M463 129L515 120M548 112L407 156M492 167L663 170M547 166L641 157M509 132L513 167M524 121L638 173M403 153L430 144M509 132L383 131M577 153L525 119M555 135L496 133M367 134L450 122M536 132L444 160M439 162L672 153"/><path d="M536 132L655 141M456 109L357 138M458 130L397 132M394 112L398 112M644 172L634 143M488 122L460 114M438 147L542 168M459 108L494 150M357 129L576 140M384 112L494 150M442 145L494 150M479 144L531 160M668 149L636 133M456 144L515 160M512 166L523 138M422 160L488 122M581 156L583 154M489 147L444 160M516 114L509 132M449 139L473 114M469 135L642 152M451 129L580 159M372 138L364 115M592 117L529 155M674 151L616 129M522 155L498 148M422 160L583 154M526 137L464 126M558 114L517 140M604 144L457 123M472 104L424 147"/><path d="M505 118L422 147M424 147L485 161M539 116L547 134M564 145L585 161M579 157L465 155M364 115L486 126M467 113L496 133M355 134L399 139M593 174L480 152M425 146L364 142M483 164L491 165M377 150L350 142M396 138L399 141M513 167L376 121M459 108L544 112M571 158L387 144M466 115L472 128M423 158L595 156M363 110L397 132M504 153L591 122M533 139L492 108M464 126L456 109M447 157L467 151M402 123L424 107M467 104L504 111M433 149L672 153M498 148L494 152M377 150L496 143M410 144L513 144M399 139L400 139M499 136L470 158"/><path d="M480 113L460 125M502 124L481 108M641 137L645 139M644 172L472 142M536 147L549 156M393 133L396 156M517 131L602 175M528 167L581 156M416 145L510 159M523 138L615 176M470 158L674 151M606 165L436 128M657 151L411 121M536 147L527 155M663 170L565 120M514 119L611 173M483 149L432 160M394 112L536 161M373 119L483 109M442 145L383 113M628 169L357 138M436 160L433 162M364 142L502 117M453 162L591 122M449 139L408 147M474 119L495 150M492 167L500 139M414 115L472 118M491 133L542 168M481 147L502 167M414 161L411 121"/><path d="M650 164L543 155M465 143L503 164M403 157L388 150M525 119L484 166M494 150L492 167M544 112L420 127M435 116L453 162M513 167L491 165M535 169L486 126M468 132L433 162M430 121L485 109M402 133L499 142M444 104L493 107M505 118L515 120M630 173L458 130M506 149L515 160M436 154L376 121M486 119L529 155M515 120L514 119M415 148L410 144M434 153L353 136M473 132L593 174M592 143L548 112M601 173L533 139M467 113L602 164M540 122L538 167M487 156L467 151M630 173L547 166M526 117L395 155M663 170L460 114M387 144L440 131"/><path d="M467 151L422 160M365 122L472 142M448 103L376 138M470 158L397 152M527 155L574 147M502 167L480 152M480 154L489 147M530 129L480 113M373 119L458 122M576 140L482 167M439 162L413 130M669 149L645 139M431 123L531 128M489 144L371 116M461 145L456 149M428 144L489 136M522 134L496 135M655 141L467 151M376 121L392 142M480 154L517 131M536 132L456 149M479 144L449 139M504 151L547 166M500 111L535 155M479 144L408 147M555 135L548 112M394 138L515 154M383 143L434 153M536 112L383 113M433 146L402 133M510 118L548 112"/><path d="M504 153L394 138M489 166L522 134M517 166L515 111M421 122L472 138M536 147L490 109M371 116L397 132M538 167L602 175M432 160L431 161M503 164L419 142M399 141L458 130M519 156L472 138M350 142L366 129M657 151L567 110M387 144L425 146M456 149L464 126M405 114L400 132M463 106L519 111M431 131L408 148M480 152L460 114M388 153L451 129M504 153L445 161M414 161L433 149M420 123L413 130M476 146L583 154M527 155L489 144M399 145L372 138M383 143L451 129M457 160L491 153M535 155L563 107M630 173L636 166M593 174L586 150"/><path d="M512 150L604 144M516 114L548 144M485 152L584 174M496 143L603 175M444 107L369 121M422 149L346 143M547 166L379 150M503 164L457 131M376 121L350 142M408 146L463 125M426 122L371 116M431 155L411 145M522 109L435 116M602 175L523 138M340 144L479 144M408 137L519 156M482 166L538 167M463 129L461 145M498 148L525 119M555 138L657 151M462 105L459 108M424 107L531 160M601 173L469 135M465 155L430 121M498 127L503 164M408 147L434 147M483 164L410 144M372 138L382 114M498 127L498 148M499 136L383 131M485 152L430 144"/><path d="M638 173L540 122M519 156L415 148M565 120L505 118M453 162L467 113M431 131L392 142M539 116L478 110M421 122L410 138M340 144L372 138M496 129L373 119M566 156L517 131M478 154L474 119M492 108L510 118M611 173L466 125M393 133L456 109M542 168L472 142M353 136L369 121M492 108L636 174M614 149L584 174M559 169L456 109M669 149L535 169M634 143L526 117M592 158L504 153M461 145L509 132M514 119L548 112M444 104L428 152M593 161L639 154M388 153L480 147M461 125L457 123M574 147L548 112M531 169L581 144M365 122L408 148"/><path d="M491 153L467 113M500 111L388 150M459 108L367 141M530 129L494 152M650 164L673 157M390 148L563 107M592 117L636 166M448 103L500 139M411 145L469 105M549 156L569 129M394 148L539 120M456 109L413 130M608 164L499 136M489 166L476 146M450 125L495 150M445 161L473 132M435 116L394 112M547 166L549 156M664 162L592 158M652 171L580 159M641 157L634 143M639 154L457 123M509 130L601 173M509 130L465 143M524 154L502 115M403 153L512 110M502 124L558 114M438 147L465 143M510 118L558 114M462 105L486 113M492 108L509 130"/><path d="M485 144L410 138M496 133L522 155M591 122L496 133M422 160L464 126M641 157L636 174M519 111L547 134M512 110L412 122M518 141L590 144M487 142L504 151M444 160L444 104M392 142L485 152M364 142L355 133M403 157L593 174M564 158L628 169M378 140L487 142M536 159L513 167M536 147L527 155M481 108L485 141M580 159L472 104M523 138L515 154M479 144L472 142M487 142L431 161M524 123L449 111M463 106L448 103M536 159L523 138M636 133L566 156M479 143L479 144M444 160L410 138M645 144L514 119M470 158L410 144M419 151L440 127"/><path d="M544 112L592 143M482 153L517 140M496 144L528 167M470 136L458 122M642 152L577 153M499 142L398 112M465 143L484 166M391 154L432 160M387 120L453 162M544 113L517 131M489 147L351 132M513 144L489 136M464 145L445 161M396 138L422 149M465 154L473 132M491 165L494 152M440 127L480 113M460 102L535 140M572 121L498 148M603 175L476 146M589 156L585 161M432 160L567 110M565 120L639 154M495 150L586 150M414 161L385 113M470 130L565 120M355 133L460 114M559 169L564 145M615 124L397 132M431 131L460 125M453 162L364 142"/><path d="M580 151L522 109M459 161L485 161M615 176L392 142M676 150L636 174M669 149L447 157M531 128L517 118M458 122L639 154M385 113L350 142M422 149L485 141M360 143L419 151M490 123L489 166M513 167L444 113M502 115L360 131M509 130L491 165M373 119L378 140M589 156L567 110M456 144L469 135M485 161L414 161M503 164L472 104M604 144L479 150M571 158L491 133M472 104L494 150M488 122L491 133M353 136L519 111M477 118L513 144M458 148L525 122M663 170L547 134M485 144L400 128M527 155L459 108M571 158L531 169M468 112L403 157"/><path d="M404 145L481 147M363 110L479 144M644 172L500 111M350 142L483 164M456 109L469 135M343 144L340 144M467 119L481 108M547 134L515 160M410 138L422 147M482 153L514 119M494 152L403 153M470 130L439 155M512 166L431 131M463 106L502 124M634 143L547 134M400 128L479 144M563 107L496 133M536 147L592 143M477 118L547 134M536 159L470 158M615 176L592 158M645 139L517 140M576 107L470 130M402 133L377 150M388 135L581 144M566 156L615 124M433 146L436 160M604 174L394 148M496 143L388 153M611 173L607 158M464 126L489 136"/><path d="M448 154L448 139M531 160L431 131M493 107L461 125M514 119L492 155M485 109L488 122M504 151L596 173M555 138L470 130M482 153L547 166M480 147L466 104M533 139L515 111M468 132L514 119M528 167L450 122M383 143L396 138M353 136L456 144M416 145L450 122M499 142L432 118M403 157L399 141M364 115L555 138M656 146L614 149M503 164L535 169M515 112L516 114M596 173L499 136M405 114L479 141M372 138L482 166M465 105L496 135M436 128L504 151M498 148L636 166M408 147L381 112M543 155L479 150M387 120L367 141M608 164L524 123"/><path d="M424 107L395 155M422 149L402 133M506 149L529 155M388 150L379 150M536 161L490 109M645 144L340 144M428 144L366 129M479 143L468 132M528 167L521 134M486 113L465 143M636 174L481 108M435 116L396 138M444 104L470 136M636 133L567 110M442 131L444 160M411 142L460 125M433 149L350 142M463 106L360 143M351 132L387 144M482 153L548 162M566 161L536 161M513 167L674 151M592 143L509 132M544 112L444 160M508 108L448 124M480 152L516 114M499 142L676 150M392 142L485 141M628 169L531 169M464 126L523 138M480 152L563 107"/><path d="M414 161L438 147M469 135L383 113M492 108L504 111M424 107L602 164M363 110L421 122M481 108L480 113M400 128L448 103M591 122L516 114M535 169L491 153M668 149L464 145M455 132L472 138M492 108L371 116M431 131L422 147M400 128L444 107M519 111L473 114M444 104L479 141M565 120L444 104M432 160L439 155M564 158L448 103M467 113L579 157M383 113L408 111M448 124L431 131M400 132L397 152M564 145L496 143M472 128L485 152M416 145L492 108M385 113L438 147M422 147L483 149M470 136L419 151M487 142L465 105M499 136L432 118"/><path d="M592 117L614 149M474 119L367 141M489 166L499 142M543 155L536 159M593 161L650 164M650 164L340 144M510 159L440 127M490 109L515 160M535 155L516 166M548 144L506 149M478 110L420 123M463 125L466 115M410 144L433 149M586 150L491 165M502 117L535 155M478 106L480 154M498 127L468 132M535 155L533 139M547 134L490 123M458 122L366 146M495 150L535 169M479 150L529 155M547 115L600 143M506 149L489 147M470 130L458 130M485 144L442 131M472 138L393 133M467 113L542 168M515 160L496 133M426 122L439 162M657 151L512 150"/><path d="M589 156L555 138M470 130L567 110M449 139L548 144M509 132L442 145M595 145L498 148M477 118L408 137M416 145L450 125M419 151L346 143M450 122L566 156M510 159L472 138M366 146L388 135M518 109L567 110M489 136L472 118M473 132L513 144M448 153L395 155M485 161L430 144M467 104L473 139M636 174L566 156M397 152L463 129M533 139L515 108M524 154L419 151M480 154L366 146M496 133L445 161M569 129L458 130M447 157L498 127M478 108L465 154M385 113L496 133M395 155L426 122M576 107L440 131M585 161L606 165M463 129L509 132"/><path d="M485 161L535 140M518 141L496 144M526 117L531 169M500 139L564 145M596 173L542 168M396 156L476 146M517 131L583 154M487 156L485 161M527 155L465 155M485 141L482 153M644 172L531 169M410 138L426 122M469 135L502 117M644 172L608 164M536 132L486 126M480 152L451 129M639 154L548 162M503 164L536 161M515 120L473 132M448 139L503 164M388 135L531 160M480 152L524 123M602 164L592 158M465 157L504 153M526 117L351 132M430 121L593 161M464 145L357 129M482 166L368 142M637 166L584 161M425 146L414 124M448 139L346 143"/><path d="M460 114L479 144M394 148L357 129M602 164L493 107M672 153L526 117M636 170L392 142M444 119L383 131M396 138L399 145M583 173L513 144M518 141L382 114M465 105L605 160M525 122L515 160M394 155L411 145M436 160L403 153M387 144L413 130M593 161L513 167M579 157L517 131M510 112L423 158M603 175L466 115M593 174L614 149M516 166L464 145M591 122L590 144M536 147L592 169M504 151L477 118M426 145L468 112M468 112L483 149M549 156L663 170M379 150L547 134M607 158L645 139M510 112L523 138M411 142L504 151M510 159L489 147"/><path d="M350 142L367 113M549 156L514 119M499 136L580 151M498 148L480 147M489 144L523 138M393 133L367 134M416 145L485 141M442 145L399 139M574 147L415 148M490 109L489 147M383 131L473 132M470 136L508 108M586 150L563 107M383 113L376 138M638 173L663 170M466 104L379 150M579 157L567 110M528 167L491 165M580 159L641 157M481 147L485 161"/></g><g filter="url(#bl1)"></g><g filter="url(#bl3)"><ellipse cx="480" cy="246" rx="144.0" ry="11.2" fill="#62bef9" fill-opacity="0.05" transform="rotate(0 480 246)"/><ellipse cx="470" cy="215" rx="112.0" ry="16.0" fill="#62bef9" fill-opacity="0.035" transform="rotate(0 470 215)"/><ellipse cx="600" cy="258" rx="64.0" ry="9.6" fill="#62bef9" fill-opacity="0.025" transform="rotate(0 600 258)"/><ellipse cx="390" cy="235" rx="48.0" ry="9.6" fill="#62bef9" fill-opacity="0.02" transform="rotate(0 390 235)"/></g><g fill="none" stroke="#62bef9" stroke-opacity="0.14" stroke-width="0.5"><path d="M503 248L593 211M455 210L366 238M392 230L526 228M463 211L399 206M442 241L525 218M518 252L438 223M503 248L435 200M618 266L660 241M542 213L505 245M503 248L554 253M395 237L450 231M554 253L463 211M414 248L453 200M503 248L518 252M655 240L392 230M479 247L478 203M618 266L643 243"/><path d="M503 248L455 237M503 248L505 259M542 203L477 257M456 249L605 220M531 261L450 231M618 266L637 258M503 248L526 259M442 247L457 208M512 254L433 251M457 208L554 218M524 246L554 218M503 248L436 203M503 248L449 201M395 237L557 205M588 258L519 242M427 250L462 196M524 246L607 248"/><path d="M435 202L653 256M618 266L378 224M463 211L534 238M503 248L445 255M503 248L522 254M503 248L484 256M503 248L587 212M503 252L433 204M503 248L369 204M503 248L660 241M414 248L621 250M503 248L501 227M448 243L366 238M655 240L546 255M563 258L462 213M503 248L587 212M503 248L603 267"/><path d="M455 237L469 198M442 239L599 266M593 211L596 266M395 237L499 201M505 245L483 216M503 248L424 250M641 262L629 239M546 245L552 252M503 248L584 265M453 237L433 204M655 240L445 237M618 266L433 204M507 221L603 267M503 248L373 238M564 221L422 210M415 230L587 212M395 237L587 220"/><path d="M522 254L621 250M618 266L437 215M456 255L464 254M571 262L435 200M508 210L478 241M503 248L565 202M437 215L489 203M503 248L629 239M503 248L589 242M383 242L433 249M655 240L496 203M503 248L625 264M472 248L486 258M415 247L419 248M593 243L607 248M445 255L524 209M644 250L421 221"/><path d="M503 248L525 222M505 259L531 260M593 211L434 215M603 260L462 196M503 248L415 237M618 266L534 238M618 266L620 255M389 221L606 259M503 248L369 204M445 255L436 203M503 248L393 241M503 248L569 263M395 237L568 212M479 247L588 258M395 237L516 243M559 250L543 226M427 250L450 231"/><path d="M503 248L483 234M484 246L645 256M395 237L511 251M503 248L519 209M447 236L669 242M503 248L641 254M455 237L516 243M503 248L455 237M437 252L526 228M510 245L511 251M607 248L452 243M503 248L500 222M503 248L629 239M482 234L401 210M383 242L462 205M560 251L519 242M503 248L600 249"/><path d="M452 243L442 241M419 248L524 209M503 248L436 203M503 248L424 250M382 229L370 231M456 249L524 259M503 248L479 247M528 237L437 215M587 264L652 254M503 248L433 204M395 237L455 197M383 242L504 248M428 249L383 242M454 243L516 243M433 242L523 247M582 253L486 245M503 248L437 252"/><path d="M503 248L462 196M655 240L600 249M641 254L500 222M523 247L548 215M433 249L415 230M455 210L596 266M503 248L637 258M503 248L434 252M484 250L482 200M478 241L660 241M503 248L393 219M503 248L593 211M522 254L504 248M503 248L444 246M533 220L468 248M593 211L525 222M503 248L619 260"/><path d="M496 203L497 244M637 258L631 267M660 241L453 237M503 248L550 244M618 266L393 241M522 254L565 202M503 248L464 254M503 248L567 207M618 266L435 226M606 259L599 266M593 211L584 265M503 248L652 254M618 266L424 250M542 203L464 254M503 248L587 264M395 237L548 247M503 248L637 258"/><path d="M500 222L540 246M514 241L512 254M505 220L644 250M434 236L396 242M584 265L619 260M631 267L453 210M455 210L660 241M426 247L454 216M618 266L607 248M503 248L637 258M503 248L550 202M399 206L504 248M503 248L477 257M503 248L463 211M503 248L418 238M460 221L476 209M593 211L434 236"/><path d="M395 237L433 204M395 237L382 229M383 242L588 265M500 222L606 259M569 263L400 244M445 237L516 243M503 248L462 245M503 248L571 226M518 252L477 257M533 220L525 218M503 248L463 211M655 240L462 213M618 266L542 203M504 248L531 260M385 223L588 235M503 248L450 198M455 210L550 202"/><path d="M655 240L637 258M621 250L642 265M455 210L434 215M598 218L495 201M503 248L454 239M503 248L522 254M503 248L414 215M643 243L464 254M395 237L637 258M550 202L501 246M618 266L441 228M606 259L442 239M415 237L497 244M433 251L486 245M531 216L567 207M503 248L568 239M385 206L353 237"/><path d="M548 247L457 203M503 248L499 201M564 221L422 230M508 210L495 201M365 237L663 255M503 248L497 258M518 252L505 220M456 225L453 237M550 202L526 243M503 248L454 216M433 242L433 204M593 211L492 235M593 211L455 197M365 237L434 252M503 248L411 233M503 252L408 245M503 248L571 226"/><path d="M442 239L531 216M546 245L498 241M528 237L541 212M503 248L570 258M402 242L619 260M395 237L483 234M503 248L521 244M412 242L588 235M463 211L449 199M489 203L559 235M503 248L455 197M441 228L538 249M655 240L384 206M469 245L427 250M455 210L444 246M503 248L455 237M503 248L505 220"/><path d="M395 237L514 241M603 255L516 243M382 229L379 220M503 248L587 220M503 248L598 254M503 248L526 228M423 201L603 255M468 248L568 247M503 248L538 249M395 237L484 256M503 248L509 211M503 248L647 265M531 216L540 246M503 248L438 223M655 240L423 201M469 245L525 222M618 266L634 247"/><path d="M455 210L415 237M551 253L476 209M503 248L550 244M501 246L497 244M655 240L538 249M424 238L411 233M448 243L423 201M395 237L382 229M395 237L427 250M503 248L424 250M568 247L546 255M484 246L618 270M441 228L402 242M463 211L489 203M511 251L501 229M497 258L385 206M503 248L436 203"/><path d="M492 249L476 209M469 245L385 223M503 248L392 230M503 248L489 203M503 248L441 228M445 237L525 218M569 263L414 234M503 248L588 256M503 248L618 270M503 248L369 204M455 237L450 211M593 211L543 226M365 237L445 237M503 248L531 261M503 248L514 241M514 241L419 248M655 240L385 223"/><path d="M551 253L418 238M401 210L522 254M503 248L441 223M503 248L525 222M618 266L546 255M503 248L373 238M417 246L441 223M408 214L517 246M618 266L436 203M483 234L550 202M469 245L596 266M525 222L652 254M503 248L477 257M433 242L534 238M503 248L445 255M618 266L554 253M426 247L369 204"/><path d="M503 248L457 203M434 236L550 244M596 265L631 267M538 249L410 232M395 237L557 205M395 237L519 209M618 266L460 221M503 248L637 258M406 246L663 255M454 243L592 220M521 244L620 255M503 248L510 245M395 237L653 256M655 240L596 242M428 249L581 239M412 242L526 243M503 248L524 246"/><path d="M571 262L435 202M437 215L433 242M505 245L429 208M629 239L559 249M424 238L436 203M503 248L415 237M378 224L385 223M618 266L449 199M503 248L647 265M482 200L501 246M618 266L478 203M503 248L417 246M548 215L388 218M374 228L393 241M503 248L567 207M604 257L531 260M618 266L512 254"/><path d="M618 266L531 260M588 256L571 207M655 240L621 250M503 248L561 221M395 237L457 208M406 246L625 256M503 248L383 242M519 252L378 224M501 246L559 249M503 248L582 253M503 248L448 223M634 247L663 255M374 224L641 262M456 255L434 252M503 252L415 248M596 266L426 247M563 258L542 213"/><path d="M383 242L482 234M503 248L632 229M484 246L593 243M456 225L512 254M503 248L540 246M415 237L523 247M528 237L462 245M353 237L399 206M618 266L565 202M618 266L504 248M464 254L507 221M518 252L445 237M503 248L524 246M503 248L518 252M395 237L499 201M584 265L530 229M414 248L441 223"/><path d="M503 248L482 200M505 245L422 210M584 265L645 256M503 248L531 260M456 226L418 206M503 248L370 238M468 248L543 226M605 220L445 237M581 239L450 254M406 204L455 237M503 248L526 228M503 248L621 250M497 244L435 200M503 248L375 229M503 248L582 253M571 262L453 200M503 248L452 243"/><path d="M579 245L631 267M395 237L525 239M596 266L526 243M519 209L484 256M455 210L498 207M559 254L642 265M503 248L417 246M593 243L624 232M521 215L525 239M366 238L588 265M587 220L587 264M503 248L371 234M395 237L603 260M503 248L548 247M500 222L546 245M393 241L554 218M503 248L600 249"/><path d="M408 245L442 247M482 234L424 238M503 248L514 241M353 237L415 245M503 248L557 205M448 243L561 221M503 248L522 254M450 231L569 263M374 228L400 244M434 236L483 234M503 248L454 243M559 250L588 235M588 258L449 199M418 238L631 267M565 202L596 265M503 248L568 239M588 256L406 246"/><path d="M503 248L454 216M503 248L484 250M455 210L603 255M448 223L383 242M395 237L660 241M655 240L559 254M503 248L365 237M456 249L551 253M582 253L631 267M593 211L609 248M503 248L462 196M552 252L374 224M503 248L588 265M625 256L624 232M503 248L369 234M503 248L523 247M593 211L501 227"/><path d="M503 248L600 249M503 248L526 228M572 241L607 248M472 248L519 209M415 247L603 260M618 266L554 253M460 206L560 251M519 209L559 235M554 253L454 243M503 248L559 235M456 249L464 254M510 245L584 265M509 225L543 226M503 248L645 256M503 248L565 202M503 248L450 211M511 251L509 225"/><path d="M456 249L632 229M533 220L525 239M503 248L600 249M568 239L468 248M503 248L593 211M503 248L482 234M376 208L491 236M653 260L557 205M395 237L606 259M518 252L565 202M503 248L445 237M442 239L489 218M518 210L402 242M525 239L563 258M524 259L457 208M593 211L643 243M503 248L557 205"/><path d="M503 248L442 241M618 266L587 212M548 215L571 226M524 259L570 258M462 245L625 264M643 243L435 226M503 248L603 260M603 255L479 247M503 252L448 243M618 266L625 264M503 248L557 205M412 242L514 241M593 211L456 255M509 211L393 241M542 213L596 266M503 248L489 203M418 206L437 252"/><path d="M503 248L384 206M483 216L540 246M546 245L477 257M503 248L484 250M503 248L450 211M478 241L531 261M620 255L520 202M468 248L464 254M503 248L444 246M469 245L540 246M593 211L607 248M503 248L478 203M655 240L415 248M444 246L422 230M462 245L400 244M503 248L415 248M374 224L383 242"/><path d="M503 248L491 236M503 248L492 249M540 246L447 236M503 248L498 207M503 248L607 248M634 247L669 242M569 263L609 248M503 248L370 238M388 218L401 210M434 208L560 251M516 243L411 233M401 210L370 238M455 210L484 250M503 248L423 201M395 237L434 208M503 248L519 242M442 247L434 252"/><path d="M410 232L644 250M391 204L388 218M449 201L406 246M411 233L589 242M503 248L402 242M450 198L428 249M546 245L393 241M524 259L531 261M503 248L540 246M596 266L550 244M655 240L484 250M503 248L391 204M452 243L505 259M503 248L378 224M503 248L521 215M593 211L434 215M395 237L441 228"/><path d="M396 242L376 208M546 245L434 208M538 249L498 241M395 237L629 239M395 237L448 223M510 245L568 247M559 250L500 222M509 211L521 215M655 240L476 257M503 248L571 207M454 239L384 206M579 245L462 245M417 246L378 224M503 248L434 236M419 248L519 252M499 249L500 222M564 221L385 223"/><path d="M454 243L559 254M503 248L433 249M376 208L450 211M413 245L371 234M376 208L424 250M483 216L534 238M468 245L453 237M503 248L434 215M618 266L415 245M637 258L559 250M593 211L599 266M457 208L371 234M455 210L456 226M503 248L516 243M572 241L433 204M503 248L414 215M503 252L401 210"/><path d="M503 248L490 259M448 243L379 220M395 237L543 226M433 204L408 214M524 259L507 221M607 248L581 239M503 248L587 212M571 226L496 203M603 255L587 212M418 238L452 243M395 237L434 215M406 246L427 250M503 248L406 203M442 241L542 203M552 252L460 206M484 246L528 237M503 248L596 242"/><path d="M618 266L391 204M433 249L419 248M503 248L406 246M655 240L618 270M542 213L427 250M503 248L625 256M503 248L492 235M503 248L442 247M503 248L482 234M525 239L509 211M618 266L604 257M395 237L491 236M550 244L525 239M618 266L588 235M534 239L525 239M452 243L438 223M503 248L375 229"/><path d="M503 248L624 232M593 211L501 229M486 245L531 260M503 248L637 258M411 233L496 203M476 210L453 237M531 260L462 245M619 260L644 250M444 246L561 221M395 237L415 248M503 248L619 260M503 248L644 250M429 208L508 210M434 252L596 266M503 248L660 241M503 248L520 202M660 241L580 208"/><path d="M426 247L621 250M414 248L560 251M596 265L559 235M503 248L374 224M560 251L660 241M582 253L449 201M395 237L366 238M503 248L655 234M509 211L438 223M396 242L563 258M479 247L418 206M395 237L408 245M618 266L400 244M503 248L414 234M371 234L603 260M618 266L415 247M618 266L452 243"/><path d="M503 248L652 254M503 248L455 197M618 266L454 216M503 248L531 216M524 209L424 250M384 206L490 259M516 243L434 215M503 248L669 242M503 248L441 228M618 266L609 248M468 245L607 267M509 211L462 245M655 240L550 244M548 247L482 234M456 249L484 246M518 252L588 258M514 241L435 202"/><path d="M603 255L415 248M445 237L524 209M525 222L592 220M503 248L453 200M503 248L476 210M412 242L476 257M419 248L369 204M504 248L653 256M643 243L559 249M618 266L353 237M395 237L581 239M503 248L530 229M504 248L383 242M418 238L429 208M503 248L445 237M395 237L526 243M454 239L385 223"/><path d="M486 245L625 264M503 248L561 221M525 239L603 267M503 248L492 235M463 211L411 233M503 248L376 208M395 237L596 266M503 248L450 231M483 216L428 249M503 248L604 257M503 248L568 247M486 258L588 256M450 246L464 254M503 248L632 229M503 248L435 200M503 248L375 229M603 255L551 253"/><path d="M395 237L604 257M503 248L385 206M374 228L592 220M503 248L519 252M503 248L596 266M419 248L641 262M414 234L618 270M395 237L442 247M618 266L533 220M503 248L449 201M655 240L496 203M408 214L526 243M450 246L604 257M395 237L434 215M655 240L552 252M447 236L435 200M618 266L605 220"/><path d="M503 248L550 244M395 237L369 204M503 248L379 220M621 250L554 218M655 240L370 231M503 248L522 254M503 248L596 265M530 229L371 234M503 248L512 254M516 243L441 228M559 249L479 247M457 203L512 254M655 240L632 229M503 248L521 244M503 248L620 255M388 218L484 246M604 257L516 243"/><path d="M503 248L540 246M438 223L376 208M525 218L522 254M503 248L374 228M618 266L525 222M655 240L533 220M477 257L605 220M415 248L385 223M447 236L534 238M534 239L572 259M415 237L524 259M503 248L637 258M408 245L435 200M550 244L538 249M618 266L542 213M531 216L548 215M462 245L433 242"/><path d="M503 248L374 228M501 246L421 221M455 210L570 258M503 248L450 254M491 236L588 256M519 242L565 202M503 248L411 233M373 238L521 215M455 210L448 243M460 206L518 252M503 248L441 223M503 248L462 205M454 243L476 257M503 248L520 202M582 253L596 266M618 266L445 237M498 207L484 250"/><path d="M618 266L374 224M454 243L531 260M618 266L547 208M503 248L521 215M424 250L455 197M441 223L517 246M503 248L448 243M476 210L447 254M395 237L588 256M503 248L501 229M452 243L607 220M503 248L625 256M464 254L437 252M524 246L518 252M504 248L505 259M618 266L581 239M503 248L593 211"/><path d="M655 240L550 244M607 267L581 239M503 248L569 263M542 203L548 215M503 248L624 232M526 259L505 245M484 246L508 210M589 242L629 239M503 248L369 234M455 210L434 208M483 234L455 237M509 211L401 210M503 248L379 220M631 267L645 256M503 248L587 212M618 266L572 259M618 266L421 221"/><path d="M510 245L501 227M462 205L456 255M455 210L476 257M503 248L448 243M618 266L414 234M503 248L452 243M469 245L588 265M531 216L489 203M588 265L541 212M503 248L442 247M503 248L653 256M483 234L455 197M484 250L540 246M503 248L376 208M395 237L525 222M564 221L647 265M483 234L452 243"/><path d="M428 249L519 242M503 248L456 225M497 244L521 244M503 248L587 220M503 248L495 201M395 237L525 222M618 266L519 242M579 245L438 223M469 198L571 262M499 201L592 220M503 248L520 202M497 244L603 267M607 248L478 241M353 237L399 206M536 251L554 253M489 203L554 218M503 248L565 202"/><path d="M618 266L453 210M655 240L588 235M426 247L525 239M503 248L523 247M442 247L588 256M468 245L533 220M418 238L505 245M450 211L607 220M500 222L655 234M435 243L572 241M503 248L588 256M618 266L460 206M559 249L418 238M503 248L596 266M534 239L455 237M482 200L572 241M618 266L554 218"/><path d="M464 254L392 230M503 248L393 219M469 245L490 259M503 248L509 225M503 248L592 220M618 266L462 213M554 253L483 216M503 248L516 243M655 240L402 242M464 254L444 246M582 253L497 244M391 204L559 254M393 241L418 206M655 240L653 256M503 248L419 248M497 258L495 259M588 235L415 248"/><path d="M462 213L433 204M503 248L593 211M603 260L641 254M618 266L519 252M542 203L559 249M503 248L464 254M503 248L645 256M531 216L554 218M589 242L641 254M418 238L433 251M655 240L554 218M428 249L629 239M408 245L496 203M518 210L370 231M503 248L538 249M435 200L531 260M503 248L469 245"/><path d="M517 246L620 255M618 266L433 204M479 247L418 238M503 248L383 242M433 251L450 231M437 215L369 204M503 248L489 218M618 266L533 220M503 248L598 218M518 252L389 221M503 248L412 242M510 245L637 258M503 248L415 245M503 248L559 235M500 222L511 251M503 248L607 267M395 237L495 259"/><path d="M503 248L369 234M468 245L433 242M503 248L588 235M395 237L603 255M503 248L607 248M618 266L519 242M503 248L499 249M453 210L559 254M406 204L423 201M503 248L641 262M395 237L406 246M424 238L419 248M412 242L503 252M540 246L589 242M373 238L551 253M503 248L552 252M625 256L389 221"/><path d="M503 248L469 245M592 220L634 247M503 248L421 221M454 216L615 261M525 218L572 259M503 248L476 210M548 215L625 256M450 231L484 246M503 248L525 218M571 226L525 222M582 253L592 220M618 266L500 222M593 243L482 200M503 248L565 202M503 248L482 234M503 248L550 244M503 248L492 235"/><path d="M503 248L546 255M655 240L607 267M434 252L415 230M503 248L641 262M503 248L568 247M453 200L542 213M395 237L428 249M503 248L604 257M568 239L516 243M503 248L423 201M503 248L433 249M503 248L618 270M449 201L503 252M503 248L505 245M523 247L422 210M395 237L436 203M434 236L569 263"/><path d="M503 248L584 265M418 238L382 229M618 266L483 234M531 260L463 211M503 248L456 255M456 249L483 234M415 247L369 234M414 248L634 247M415 245L444 246M503 248L484 256M455 210L637 258M450 246L450 211M503 248L546 245M492 249L598 218M491 236L647 265M618 266L588 235M503 248L408 245"/><path d="M571 207L438 223M550 244L462 205M395 237L476 257M455 210L564 221M521 244L385 223M395 237L498 207M618 266L373 238M503 248L491 211M455 210L623 224M412 242L469 198M415 230L462 213M503 248L412 242M524 259L455 197M618 266L663 255M618 266L442 247M618 266L534 239M618 266L445 237"/><path d="M655 240L644 250M655 240L472 248M503 248L522 254M392 230L389 221M503 248L434 236M476 210L469 198M456 225L438 223M369 234L598 254M503 248L606 259M486 245L456 225M442 247L588 265M514 241L453 237M501 246L514 241M618 266L373 238M641 262L623 224M395 237L448 243M607 248L452 243"/><path d="M637 258L540 246M618 266L653 256M618 266L434 252M593 211L413 245M642 265L491 211M454 243L571 262M457 208L571 262M468 245L548 247M447 254L550 244M541 212L606 259M503 248L565 202M503 248L463 211M510 245L587 212M516 243L531 260M503 248L393 219M503 248L547 208M526 228L587 220"/><path d="M415 237L637 258M518 252L486 258M618 266L588 256M503 248L543 226M462 213L433 251M550 244L392 230M618 266L433 242M503 248L396 242M503 248L426 247M526 243L428 249M455 210L408 245M406 204L588 265M503 248L499 201M618 266L453 200M504 248L588 235M457 208L456 225M499 249L384 206"/><path d="M395 237L445 237M550 244L422 230M489 218L483 216M395 237L389 221M508 210L449 201M491 236L442 241M655 240L524 246M655 240L504 248M503 248L509 225M503 248L550 202M503 248L426 247M503 248L433 242M546 255L445 237M504 248L521 244M503 248L373 238M429 208L563 258M503 248L477 257"/><path d="M510 245L552 252M395 237L603 255M503 248L445 255M396 242L422 230M395 237L559 235M503 248L422 230M468 248L433 251M503 248L370 231M452 243L391 204M400 244L623 224M593 211L454 243M406 246L547 208M521 215L454 216M486 258L593 243M503 248L523 247M442 241L624 232M412 242L437 215"/><path d="M655 240L603 260M503 248L554 218M448 243L476 257M570 258L452 243M550 202L429 208M503 248L559 254M503 248L483 216M456 225L393 219M503 248L435 202M503 248L643 243M503 248L435 200M499 249L374 224M395 237L561 221M469 245L476 209M503 248L472 248M503 248L505 259M479 247L572 259"/><path d="M514 241L596 242M503 248L462 205M482 234L490 259M503 248L442 247M618 266L406 203M551 253L563 258M503 248L540 246M422 230L542 213M476 209L531 260M503 248L557 205M414 248L450 198M477 257L415 248M426 247L609 248M383 242L418 206M503 248L653 256M563 259L542 213M503 248L588 258"/><path d="M455 210L437 215M400 244L498 207M503 248L497 244M503 248L509 211M455 210L563 259M417 246L385 206M519 242L497 244M408 245L547 208M548 247L408 245M395 237L637 258M460 206L464 254M410 232L406 246M503 248L393 241M503 248L422 230M503 248L598 218M540 246L569 263M618 266L588 235"/><path d="M503 248L618 270M442 239L436 203M503 248L437 252M444 246L412 242M503 248L568 239M503 248L434 208M395 237L406 204M503 248L587 220M499 249L587 212M448 223L393 241M618 266L596 265M511 251L516 243M618 266L429 208M503 248L550 244M492 249L436 203M503 248L434 215M632 229L445 255"/><path d="M588 258L621 250M524 246L534 239M618 266L435 226M503 248L388 218M503 248L582 253M503 248L542 213M510 245L450 246M501 246L568 212M503 248L581 239M503 248L391 204M503 248L569 263M503 248L510 245M503 248L483 216M526 228L621 250M503 248L438 223M593 211L619 260M598 254L569 263"/><path d="M462 245L533 220M462 245L442 239M503 248L587 212M463 211L438 223M503 248L371 234M503 248L417 246M456 226L504 248M503 248L396 242M516 243L563 259M503 248L433 251M504 248L499 201M503 248L559 235M503 248L521 244M584 265L543 226M546 245L482 234M503 248L652 254M503 248L415 247"/><path d="M395 237L418 238M393 241L427 250M559 250L596 266M546 245L663 255M503 248L442 247M393 241L421 221M383 242L476 209M503 248L422 210M521 244L496 203M428 249L447 254M503 248L479 247M503 248L415 247M645 256L415 245M427 250L469 245M524 246L450 198M503 248L457 203M395 237L496 203"/><path d="M503 248L525 218M503 248L516 243M373 238L370 238M442 247L600 249M503 248L408 245M521 244L519 242M518 210L408 214M395 237L569 263M503 248L415 247M503 248L587 220M503 248L427 250M559 250L511 251M655 240L396 242M618 266L434 208M620 255L444 246M435 243L655 234M491 211L499 201"/><path d="M503 248L434 252M422 230L424 250M503 248L533 220M414 248L501 229M503 248L588 235M415 247L400 244M615 261L411 233M618 266L540 246M455 210L415 237M452 243L378 224M396 242L542 213M618 266L422 230M503 248L525 218M571 262L503 252M637 258L598 218M503 248L600 249M625 264L559 235"/><path d="M503 248L620 255M593 211L505 220M503 248L514 241M498 207L374 224M593 211L435 243M442 247L635 263M603 260L568 239M503 248L498 207M373 238L415 230M618 266L450 246M484 250L385 223M434 208L438 223M503 248L484 256M503 248L571 262M400 244L514 241M598 254L641 262M476 257L534 238"/><path d="M593 211L423 201M503 248L531 260M455 210L615 261M426 247L418 238M449 199L528 254M370 231L469 245M503 248L365 237M503 248L525 218M395 237L598 218M395 237L589 242M378 224L460 221M546 255L653 256M445 237L484 256M618 266L453 237M383 242L456 225M503 248L385 223M408 214L587 212"/><path d="M503 248L434 208M371 234L421 221M655 240L450 246M518 252L593 211M603 260L484 250M478 203L497 258M655 240L559 254M618 266L436 203M414 248L413 245M503 248L396 242M588 256L478 203M433 249L426 247M618 266L619 260M503 248L437 215M518 252L641 254M369 204L543 226M620 255L489 218"/><path d="M376 208L415 245M408 245L525 218M554 218L518 252M572 259L534 238M457 203L499 201M503 248L572 241M540 246L629 239M503 248L499 201M655 240L522 254M503 248L445 237M503 248L455 197M428 249L424 250M503 248L596 266M437 215L655 234M618 266L382 229M618 266L514 241M503 248L406 203"/><path d="M618 266L507 221M505 220L571 262M503 248L433 249M618 266L450 246M408 245L492 235M503 248L538 249M454 216L455 237M669 242L589 242M503 248L563 258M503 248L408 214M434 252L418 238M503 248L641 254M599 266L468 248M618 266L533 220M588 256L373 238M503 248L520 202M503 248L383 242"/><path d="M637 258L382 229M503 248L600 249M455 210L607 267M525 218L417 246M503 248L509 211M453 237L376 208M503 248L396 242M503 248L606 259M483 234L528 254M370 231L477 257M483 234L419 248M395 237L563 258M503 248L476 257M421 221L554 218M598 254L568 247M395 237L652 254M503 248L563 258"/><path d="M472 248L454 243M503 248L499 201M468 248L505 220M441 223L561 221M395 237L371 234M542 213L456 226M450 246L460 206M395 237L408 245M521 244L426 247M460 221L414 215M375 229L489 218M538 249L620 255M503 248L637 258M455 210L393 241M655 240L455 237M424 238L464 254M618 266L366 238"/><path d="M408 245L406 246M528 254L592 220M528 254L518 252M422 230L428 249M520 202L557 205"/></g><g fill="none" stroke="#62bef9" stroke-opacity="0.3" stroke-width="0.5"><path d="M503 248L473 258M503 248L565 263"/><path d="M503 248L440 254M503 248L500 260"/><path d="M503 248L551 262M503 248L550 262"/><path d="M503 248L507 260M503 248L524 260"/><path d="M503 248L560 263M503 248L489 259"/><path d="M503 248L517 260M503 248L443 255"/><path d="M503 248L515 260M503 248L447 256"/><path d="M503 248L527 261M503 248L547 262"/><path d="M503 248L513 260M503 248L536 261"/><path d="M503 248L492 259M503 248L539 261"/><path d="M503 248L549 262M503 248L566 263"/><path d="M503 248L443 255M503 248L522 260"/><path d="M503 248L463 257"/></g><g fill="none" stroke="#62bef9" stroke-opacity="0.25" stroke-width="0.5"><path d="M618 266L626 268"/><path d="M618 266L596 267"/><path d="M618 266L614 269"/><path d="M618 266L623 269"/><path d="M618 266L617 270"/><path d="M618 266L635 267"/><path d="M618 266L620 270"/><path d="M618 266L621 269"/><path d="M618 266L638 266"/><path d="M618 266L630 268"/></g><path d="M368.7 18.1L402.8 29.5M349.5 20.5L368.7 18.1M350.3 51.5L402.8 45.3" stroke="#000" stroke-opacity="0.3" stroke-width="0.6" fill="none"/><path d="M342.9 109.5L363.9 114.7M340.3 143.6L362.6 109.5" stroke="#0800c8" stroke-opacity="0.3" stroke-width="0.5" fill="none"/><g fill="none" stroke="#000" stroke-width="0.75" stroke-linejoin="round"><path d="M452.1 352.6L457.0 350.7L463.2 349.0L469.1 347.5L475.0 345.4L479.8 343.8L485.0 342.2L491.5 340.6L497.0 338.8L502.1 336.7L507.7 335.1L513.5 333.7L519.1 332.1L524.8 329.9L530.1 328.7L535.6 326.7L541.3 325.2L546.4 323.7L552.6 321.3L558.8 319.7L563.8 317.6L569.6 316.3L574.5 314.2L580.0 313.2L586.3 310.8L591.3 309.0L597.2 307.6M583.3 311.9L585.1 317.8L585.3 323.6L585.8 329.2L587.9 334.4L588.0 340.7L589.9 345.8L589.6 352.1L591.2 357.7L592.4 363.6L593.2 368.9M589.3 346.5L594.2 346.2L601.2 346.0L606.4 345.3L613.7 344.9L619.4 345.0L624.1 344.3L630.2 344.4L635.9 343.9L641.4 343.5L647.2 343.2L653.3 342.8L659.6 342.5L664.8 342.5L670.7 342.0M585.3 323.4L591.4 323.7L597.3 324.4L602.5 324.6L608.9 324.8L614.6 325.3L620.4 325.4L626.4 325.9L632.9 326.4L638.5 326.5L643.8 327.1M625.5 318.9L630.2 326.3M583.9 315.3L590.0 315.6L595.6 316.8L602.2 316.7L608.1 317.3L613.8 318.4L619.8 318.6L625.7 319.3M585.2 322.4L591.4 321.5L596.9 321.0L602.4 319.6L607.8 318.9L613.3 318.1M613.9 318.2L616.6 325.4M628.1 326.1L631.0 330.6L633.5 335.0L636.4 339.5L638.7 343.8M586.9 332.7L593.0 333.9L598.1 334.6L603.8 335.6L609.7 336.7L614.5 337.4L621.4 338.4L626.1 339.7L632.2 340.3L637.5 341.8M587.1 333.5L592.5 334.4L599.2 335.6L604.9 336.4L609.4 337.6L615.3 338.4L620.9 339.7L627.3 340.8L632.4 341.5L638.1 342.8M616.0 338.7L623.2 344.7M588.5 341.5L594.3 341.9L599.5 342.3L606.0 343.5L611.3 343.5L617.5 343.6L622.8 344.4M600.7 342.5L602.7 345.8M611.3 337.9L612.8 343.5M587.2 334.4L592.4 335.2L597.2 336.2L601.2 337.5L606.0 337.7L611.7 339.2M588.2 339.8L594.0 338.9L599.8 338.4L604.9 337.9M602.0 336.2L603.6 337.6M602.7 335.5L603.2 336.4M627.6 340.0L627.9 340.9M611.3 325.0L611.6 329.5L611.9 333.2L611.4 337.1M585.7 325.4L590.7 326.4L595.7 327.0L602.2 327.7L606.7 328.7L611.3 329.5M586.2 328.5L590.5 328.9L595.7 329.1L601.8 328.7L606.5 329.3L611.3 330.0M589.0 333.0L594.4 333.2L600.3 333.6L606.1 334.0L611.4 334.4M596.9 327.2L597.7 329.2M611.4 333.8L616.0 334.0L622.1 333.0L627.5 333.1L631.9 332.4M632.1 332.8L638.0 332.6L642.9 333.2L648.8 333.1L653.5 332.8L659.0 332.9L664.7 332.8M641.4 327.0L640.6 332.8M640.0 343.7L642.2 348.1L642.6 353.1L643.6 356.8L644.9 362.3M641.9 350.9L647.6 352.0L654.2 353.3L660.0 354.8L665.2 355.9M643.7 357.6L648.0 357.0L654.4 357.0L659.1 357.2L664.6 356.4M589.7 348.9L594.9 350.0L600.9 351.3L605.2 352.2L611.9 353.8L616.8 354.6L623.1 355.8L627.7 356.5L634.5 358.3L638.3 359.2L644.3 360.1M610.5 345.4L615.0 354.1M598.8 350.7L603.6 350.6L609.1 351.0L613.4 351.0M611.7 347.7L616.7 349.0L622.6 349.8L627.3 351.5L631.9 352.4L637.8 353.2L642.8 354.3M590.5 353.4L595.9 354.2L602.0 354.7L607.0 354.7L611.2 355.6L617.5 355.8L622.7 356.6L627.6 356.7M613.6 353.8L614.3 355.5M605.1 354.7L608.2 358.4L609.5 363.6L612.3 367.7M608.8 361.3L614.8 361.6L620.3 361.5L627.8 361.2L632.7 360.7L638.9 361.4L644.6 361.3M591.6 360.0L597.0 359.8L602.3 359.7L607.9 359.8M524.8 330.0L530.6 330.8L535.8 330.3L541.5 330.6L547.8 330.9L552.8 331.0L558.5 331.0L563.9 331.6L569.8 331.5L576.5 331.4L581.6 332.1L586.8 332.0M559.2 319.4L564.8 319.6L569.5 319.8L574.1 319.2L578.5 319.6L584.7 319.6M551.9 321.6L553.1 330.9M534.7 326.9L541.1 327.5L546.2 327.4L552.7 327.9M533.3 327.4L533.9 330.3M528.3 328.9L533.7 329.7M543.4 327.4L546.4 330.7M533.7 329.5L539.3 329.5L545.2 329.4M546.6 323.3L546.2 327.6M568.6 319.4L569.5 324.0L571.2 327.5L571.1 331.5M552.3 324.9L557.9 326.1L561.9 326.3L565.3 327.5L570.3 327.5M552.7 327.9L557.9 328.4L562.0 329.3L566.7 329.5L570.9 330.6M570.5 328.5L575.5 328.2L580.4 328.0L586.1 327.8M476.3 345.1L482.0 345.4L488.1 345.2L493.4 346.2L500.3 346.9L504.3 347.4L510.8 348.1L516.5 348.6L521.8 348.5L528.0 349.1L532.8 349.3L539.6 349.6L546.0 350.0L551.3 350.6L556.9 351.6L562.0 351.9L568.0 352.2L573.5 352.6L579.2 353.3L585.2 353.4L590.6 353.9M544.3 330.7L544.4 335.8L547.0 340.8L548.0 345.5L549.1 350.7M499.2 338.0L504.9 338.3L511.4 338.4L517.0 339.1L522.7 339.3L528.8 339.3L534.9 339.3L540.4 340.0L546.5 340.0M504.5 338.2L506.7 343.3L508.6 347.6M504.5 338.3L510.0 339.3L515.3 340.4L520.6 340.8L526.5 341.8L531.2 342.7L535.8 343.3L543.6 344.3L547.8 345.3M518.3 338.8L519.5 340.8M509.6 338.4L509.9 339.2M537.1 339.6L536.9 343.6M524.5 339.0L527.5 342.0M526.1 340.7L531.8 341.4L536.9 342.8M531.6 341.8L531.9 342.8M524.9 339.5L529.7 340.3L532.9 340.9L537.0 341.2M526.8 339.8L532.8 341.2L536.9 342.8M530.1 341.5L532.5 341.4M532.5 339.4L532.4 340.6M537.0 342.1L542.2 342.5L547.2 342.9M537.0 341.4L546.6 340.2M541.4 340.8L541.9 342.5M539.4 344.0L547.3 343.1M521.6 341.1L524.1 343.4L528.2 346.2L531.9 349.4M529.4 347.4L533.9 347.4L538.7 347.4L543.4 347.8L548.4 347.9M527.7 346.0L536.1 343.4M527.7 342.1L528.2 345.8M525.3 344.1L528.0 344.5M524.2 343.2L527.9 343.5M527.9 343.9L534.4 343.9M539.5 344.0L542.4 347.7M531.9 344.7L535.9 345.9L541.9 347.1M533.1 345.0L534.3 347.5M541.5 347.7L540.8 350.0M506.6 343.1L511.9 344.6L517.9 345.2L523.6 346.1L529.4 347.4M506.1 341.8L511.8 341.3L517.4 341.8L522.4 341.8M513.9 339.8L515.7 341.8M505.1 339.6L510.9 340.4L515.2 341.2M504.8 339.0L514.5 340.5M517.7 345.2L524.4 343.4M512.0 341.8L512.8 344.3M519.1 344.8L527.8 347.1M523.2 345.9L527.7 346.0M522.9 346.2L524.9 348.8M515.5 344.8L516.5 348.2M507.4 344.8L515.6 345.3M491.1 340.5L495.8 341.0L501.0 341.4L506.1 342.0M485.5 342.2L491.0 344.5L496.1 346.6M486.8 342.8L486.9 345.9M486.9 344.7L489.8 344.0M482.0 343.3L483.0 345.6M482.1 343.6L486.9 343.6M488.5 343.5L493.3 343.4L497.6 343.0L501.2 343.5L506.7 343.2M488.9 343.7L494.0 344.6L499.2 345.8L503.6 346.0L508.5 347.4M500.6 345.9L500.9 347.0M495.3 343.4L495.4 344.9M495.4 344.8L499.3 345.3L503.7 345.7L508.1 346.5M498.9 345.2L507.8 345.8M499.9 343.3L501.9 345.4M497.5 341.1L497.2 343.4M491.5 340.4L495.3 340.2L500.8 340.6L505.5 340.4M499.5 340.4L499.5 341.3M517.8 332.2L515.8 338.7M510.5 334.5L517.2 334.2M503.0 336.8L507.2 337.5L511.5 337.0L516.2 337.4M507.8 337.0L508.4 338.4M511.4 334.4L513.8 337.3M506.3 335.8L513.0 336.3M529.2 330.2L532.8 333.7L536.6 336.7L539.0 339.6M517.3 334.0L522.6 334.7L528.1 334.5L533.5 334.3M519.0 334.0L523.3 335.2L529.0 335.9L532.6 337.7L537.7 338.4M526.8 335.9L535.5 336.3M529.9 334.3L529.9 336.0M530.2 336.6L531.4 339.3M516.9 335.3L522.0 336.3L525.8 337.0L530.8 338.0M524.4 336.7L525.6 339.1M516.3 337.1L524.7 337.3M524.4 336.7L530.3 336.9M521.0 334.5L521.0 336.1M524.2 330.2L527.2 334.2M517.6 332.7L526.2 332.9M525.3 331.6L532.7 333.6M526.1 332.7L529.9 332.8M527.3 332.1L531.6 332.5M525.4 331.6L530.6 331.5M535.6 336.4L540.5 336.7L545.7 336.6M537.6 338.3L546.0 337.6M532.6 333.4L536.8 333.1L540.6 333.4L545.0 333.5M535.1 333.4L539.2 336.5M537.1 334.9L545.7 336.4M539.0 335.3L545.4 335.1M534.3 330.3L535.5 333.5M531.1 332.0L535.2 332.5M547.7 344.9L553.0 345.4L558.0 345.4L563.2 345.8L569.0 346.3L573.7 347.0L578.8 347.4L584.3 347.7L589.6 348.2M565.0 331.3L567.5 336.3L569.9 341.6L572.2 346.8M545.8 337.0L551.6 338.0L557.3 338.5L563.0 339.3L569.0 339.9M547.3 343.2L552.0 342.1L556.0 341.4L562.3 340.8L565.5 339.5M558.3 341.0L562.8 341.9L568.0 343.1L570.9 344.1M558.6 340.9L562.2 341.7L567.1 342.3L570.5 343.1M554.1 341.8L557.0 345.6M555.4 343.5L560.2 342.9L566.1 342.9M552.1 337.8L552.2 342.2M546.6 340.3L552.2 340.7M546.2 338.5L552.1 339.4M544.6 331.8L549.9 332.8L555.5 333.5L561.4 334.7L566.7 335.0M545.1 334.1L550.1 334.0L555.9 334.2L560.6 334.4L565.6 334.8M550.8 337.6L556.6 336.9L562.4 337.6L567.7 337.1M555.8 334.5L556.9 337.4M556.9 333.6L557.2 334.6M557.5 331.1L557.4 333.7M566.9 335.5L572.2 336.6L578.2 338.0L582.5 339.1L588.2 340.3M566.8 335.2L572.1 336.0L577.4 336.8L582.2 337.3L587.9 338.5M569.1 340.2L574.4 341.9L578.4 343.4L584.0 344.9L589.4 346.7M569.1 340.2L574.6 340.1L579.7 339.9L585.6 339.7M575.5 337.4L578.2 339.9M577.6 342.9L578.3 347.3M570.3 342.6L577.1 342.8M570.6 346.7L572.3 352.5M548.3 347.2L552.8 348.0L557.9 348.9L563.0 350.2L567.7 350.6L572.0 351.3M560.3 349.3L560.4 351.5M555.0 345.5L555.6 348.5M571.4 349.4L575.3 349.9L580.2 349.7L585.5 349.8L589.9 350.0M543.3 350.2L541.8 358.3M542.4 355.3L548.3 355.6L552.8 355.8L557.7 356.3L564.3 356.6L569.8 356.2L575.1 356.6L581.1 357.7L585.7 358.1L591.3 358.0M560.7 351.6L562.6 356.4M570.6 352.3L573.3 357.0M546.8 359.3L552.3 359.6L557.5 359.9L563.6 360.9L569.6 360.4L575.4 360.9L580.7 361.9L586.5 361.8L592.1 362.5M568.6 360.9L567.9 363.9M574.1 357.0L575.3 361.3M564.4 356.5L565.9 360.7M483.8 345.7L486.4 351.0L487.0 356.3M521.4 348.6L524.4 354.8M523.2 352.2L527.9 352.3L532.9 352.6L538.0 352.2L542.9 352.3M484.6 345.7L489.6 347.2L495.8 348.6L500.2 350.2L506.0 352.4L511.9 354.2L516.8 355.4M510.4 347.7L510.7 353.6M497.5 349.6L501.3 349.8L506.5 349.6L510.5 349.8M492.8 346.4L493.7 348.5M502.0 347.1L502.6 349.7M485.2 350.3L490.2 349.7L496.4 349.3M495.7 349.3L499.9 357.1M498.1 353.8L508.0 352.8M473.7 345.9L473.2 355.2M473.4 350.6L477.8 351.3L481.0 352.0L485.8 352.5M473.6 347.0L480.4 347.9L484.9 349.4M458.8 350.5L464.2 350.4L468.7 350.0L473.4 349.9M468.9 347.4L473.5 348.2M465.2 350.3L466.5 354.9M436.9 293.5L437.2 299.7L438.8 305.2L438.8 310.6L440.3 317.2L440.9 322.8L442.6 328.0L442.4 333.8L444.5 339.8L444.9 345.5L445.7 351.3M346.6 335.3L352.1 334.9L359.3 334.7L365.2 333.6L371.3 334.1L376.2 333.1L382.9 332.7L388.0 332.1L394.4 331.6L400.6 331.2L406.4 330.5L412.1 330.2L417.9 330.2L423.6 329.9L430.2 329.5L436.6 328.3L442.2 328.2M383.0 332.6L385.1 337.6L387.7 342.0M383.4 333.4L389.1 333.7L394.1 334.8L399.7 335.5L405.7 335.6L410.7 336.1L416.6 336.8L422.4 337.8L427.5 337.8L433.2 338.5L438.3 338.9L443.9 339.7M410.5 330.6L416.4 336.9M395.1 331.7L397.3 334.9M400.8 331.3L405.4 332.0L409.9 333.1L414.1 334.5M396.9 334.3L401.8 335.2L406.4 335.3L410.9 335.5L415.8 336.3M407.2 335.4L407.6 335.9M402.3 331.6L405.6 335.2M404.2 333.7L412.0 333.9M409.7 330.6L409.7 333.4M409.7 332.3L412.0 332.1M415.1 335.5L420.9 335.6L426.0 335.3L431.1 335.2L437.5 335.0L443.2 334.9M414.7 330.3L420.6 331.3L425.5 332.0L431.8 332.8L436.7 333.9L443.1 334.4M427.5 329.3L428.5 332.3M420.2 329.8L420.4 331.1M421.0 329.8L428.0 330.8M428.0 330.7L432.4 330.5L437.6 330.3L442.4 329.7M432.5 328.9L432.7 330.4M428.4 332.0L433.2 332.4L437.9 331.9L442.7 331.6M432.2 330.4L433.3 331.8M423.4 331.5L423.8 335.3M411.9 332.1L417.4 332.5L423.6 333.3M413.9 334.2L423.7 334.4M417.2 330.6L419.1 332.8M437.1 333.5L436.9 335.0M430.9 332.6L431.2 335.2M423.5 332.1L431.1 334.3M427.8 333.4L431.0 333.2M423.4 335.3L425.3 337.8M416.3 336.7L424.6 336.9M430.9 335.2L435.0 338.8M424.1 336.3L432.7 336.8M429.1 336.6L429.4 338.2M434.3 338.2L443.6 337.6M431.2 335.4L434.7 335.8L438.3 335.5L443.5 336.6M436.4 335.1L436.8 336.0M424.9 337.7L426.5 342.7L428.6 348.6M426.9 343.5L432.7 342.8L438.3 342.5L444.3 342.2M425.4 339.4L430.1 339.7L435.2 339.9L438.7 340.8L444.1 340.7M437.8 339.1L438.7 340.3M432.4 338.5L433.2 339.9M434.7 340.0L435.4 342.8M425.9 340.7L435.0 341.3M427.6 345.7L433.1 346.4L439.2 346.5L445.1 347.5M429.1 343.3L434.4 345.0L440.1 346.0L445.0 347.0M438.8 345.6L444.8 345.3M438.2 342.6L439.7 345.5M433.9 344.4L435.0 346.5M433.7 346.3L437.6 350.0M406.8 335.9L408.3 345.3M407.4 339.6L412.2 339.4L416.4 339.9L421.4 340.4L425.9 340.7M409.8 339.7L414.3 338.9L418.9 338.4L423.7 337.6M414.4 336.6L414.6 339.0M407.2 338.3L414.5 337.6M418.8 338.4L419.1 340.3M409.1 345.4L414.6 344.0L420.1 343.2L426.1 341.3M412.7 344.5L416.8 345.9L423.8 347.0L428.4 347.8M413.7 344.3L418.1 345.1L422.5 346.1L427.9 346.5M417.5 343.4L426.8 343.3M418.7 340.3L418.9 343.1M418.8 341.8L423.3 342.0M407.7 341.5L412.9 341.2L418.7 341.3M411.8 339.8L413.0 341.4M386.2 338.8L390.7 339.2L397.1 339.0L402.2 339.7L407.5 340.0M391.8 334.3L392.7 339.2M401.2 335.3L400.5 339.6M392.5 338.0L400.9 337.0M400.6 338.5L407.1 337.7M362.6 334.1L366.2 338.5M365.8 338.1L371.6 338.2L376.4 338.1L381.4 338.5L385.6 337.8M341.8 308.5L347.6 307.9L353.7 308.1L358.7 307.2L364.7 307.1L371.1 306.7L375.6 306.0L381.1 306.2L386.4 305.3L392.8 305.6L398.9 304.6L404.5 303.9L409.1 303.5L416.0 303.7L420.7 302.6L426.8 302.5L432.7 302.3L438.2 301.9M371.2 306.5L371.2 311.4L372.9 317.2L373.0 322.5L374.2 328.1L374.5 333.2M372.8 319.7L378.2 318.3L384.0 317.7L389.0 316.7L394.9 315.4L400.5 314.9L405.8 313.5L411.3 312.5L416.7 311.9L423.1 311.1L428.1 309.7L433.8 308.9L439.1 307.6M371.4 308.3L376.5 308.0L382.3 308.1L388.4 308.1L394.1 308.0L399.6 307.7L405.6 307.7L411.3 307.6L417.0 307.1L422.4 307.6L427.7 307.0L433.1 306.7L439.0 306.9M400.1 304.5L402.0 307.7M414.5 303.5L414.1 307.4M425.9 302.7L427.8 307.1M426.6 304.2L432.7 303.5L438.4 303.6M414.7 307.4L416.2 311.8M393.0 307.9L390.4 312.1L386.6 317.2M422.6 307.2L424.6 310.2M389.0 316.7L394.7 316.9L400.4 316.6L406.6 317.4L411.7 317.0L417.3 317.2L424.0 317.7L428.9 317.9L435.1 318.1L440.7 318.2M422.9 310.5L426.9 317.8M411.9 312.5L414.5 317.5M413.7 316.0L419.5 315.3L425.4 315.0M423.7 312.1L429.7 311.3L433.7 310.9L439.5 310.5M424.2 312.0L429.8 313.4L434.5 315.4L440.5 317.0M427.3 313.0L431.7 313.4L436.5 313.5L440.0 314.0M431.2 313.3L431.7 314.3M425.4 315.1L430.8 314.0M432.0 314.4L437.8 318.1M434.8 316.2L439.5 316.7M395.3 316.9L397.7 321.6L402.1 326.5L404.5 331.0M411.2 317.4L413.5 321.5L415.2 325.8L417.5 330.0M416.5 317.5L421.1 319.8L426.8 322.2L431.0 323.6L437.2 326.0L441.9 328.2M433.1 324.5L441.8 325.4M421.1 319.5L426.0 320.0L430.8 320.6L436.1 321.1L441.2 321.7M423.5 317.7L424.2 319.8M434.2 318.0L438.0 321.3M432.7 320.7L434.2 324.6M427.7 322.2L433.6 323.1M433.2 322.0L441.5 323.8M435.2 325.4L442.0 326.7M415.1 325.1L420.7 325.6L426.5 326.6L431.4 327.0L435.9 327.7L441.8 328.2M430.0 323.2L434.0 327.3M414.4 323.7L420.9 322.6L425.8 321.4M426.6 321.8L425.6 326.3M415.8 323.4L420.7 323.5L426.3 323.2M426.2 323.7L431.2 324.4M426.0 324.5L432.3 325.6M432.8 326.1L436.2 325.8M429.4 326.7L430.0 329.1M416.9 328.8L421.4 328.8L426.0 328.0L429.7 328.0M421.5 325.8L423.7 328.4M423.7 328.3L423.9 329.6M399.1 322.7L404.1 323.5L410.4 325.2L415.5 326.0M397.4 320.1L403.2 320.6L407.8 320.5L412.8 320.6M398.6 322.0L404.2 322.5L409.0 323.0L414.0 323.0M410.2 322.8L410.1 324.9M402.2 327.6L407.0 327.3L412.0 327.0L415.9 326.9M408.1 324.5L408.5 327.3M406.7 327.4L412.4 330.4M408.9 328.6L417.4 329.7M403.4 329.3L409.0 328.6M373.6 326.2L380.5 326.7L385.5 327.5L391.2 327.2L397.9 328.7L403.1 328.9M374.6 326.3L378.7 325.7L385.2 324.6L389.6 324.2L395.0 323.7L399.0 322.6M373.3 323.9L377.9 323.2L383.3 322.8L388.2 323.2L393.0 322.3L398.5 321.9M382.5 317.9L384.0 323.0M388.0 324.3L389.9 327.7M389.0 325.9L394.0 326.4L397.1 325.4L401.0 325.6M393.1 328.0L392.0 331.9M374.1 330.3L378.4 329.8L384.2 329.4L388.7 328.5L393.0 328.0M341.2 322.8L347.3 322.7L352.4 322.7L357.0 323.2L363.3 322.7L368.5 322.8L373.2 322.6M341.5 327.0L346.4 327.2L352.0 327.3L357.2 327.3L362.5 328.2L368.7 327.8L373.9 328.1M353.3 322.7L354.1 327.4M341.4 314.7L346.6 315.4L352.6 316.8L356.8 318.0L362.0 318.4L367.6 319.6L373.0 321.0M346.9 315.8L352.0 315.5L356.4 314.5L363.1 314.4L367.0 313.3L372.0 313.0M378.8 299.4L383.8 305.6M342.8 300.3L346.9 299.8L352.9 299.5L358.6 298.7L362.3 298.7L367.3 298.1M364.4 298.4L365.3 306.9M414.7 297.2L414.4 303.5M398.5 298.4L399.7 304.5M438.0 300.4L443.6 301.2L449.5 302.5L454.8 303.1L460.6 304.5L466.1 304.9L471.7 306.3L477.8 306.7L483.7 308.4L488.5 308.6L493.8 309.9L500.0 311.1L505.8 312.0L511.5 312.8L515.9 313.7L522.3 314.3L528.0 315.4L533.4 316.2L539.2 317.1L544.9 318.7L551.3 319.5L556.4 320.2M443.4 336.0L449.4 335.8L455.2 335.7L461.6 335.4L467.1 335.5L471.7 334.8L478.2 334.8L483.7 334.8L488.9 334.5L495.1 334.4L501.0 334.4L506.7 334.3L512.2 333.9M444.7 344.9L449.5 345.5L455.2 345.0L460.9 346.4L466.2 345.7L470.7 346.8M453.2 345.5L455.4 351.6M454.8 350.0L464.4 348.8M461.2 346.1L461.7 349.1M453.6 346.8L461.5 348.2M445.1 347.3L453.8 347.3M480.1 334.9L483.8 342.8M482.1 339.1L487.1 338.9L490.9 338.6L495.6 339.1M489.3 334.6L491.1 339.1M480.9 336.6L490.6 337.8M490.0 336.5L495.4 336.9L500.4 337.6M501.5 334.3L501.9 337.1M494.5 334.5L495.0 337.0M494.9 336.5L501.8 336.3M482.8 340.7L487.8 341.5M444.1 340.7L450.3 340.5L455.2 341.0L460.4 340.2L466.4 340.2L471.4 340.5L477.3 340.8L482.6 340.2M460.1 340.5L461.4 346.1M467.8 340.4L469.3 346.7M468.2 342.2L472.4 342.5L477.7 343.2L481.5 343.5M475.2 340.3L475.9 342.9M468.0 341.1L475.5 341.5M468.6 343.7L477.0 344.9M472.6 342.6L472.9 344.3M460.4 342.0L468.6 343.8M460.3 341.7L468.3 342.5M460.7 343.2L468.8 344.9M461.4 343.3L464.9 343.0M444.5 343.2L449.7 343.1L455.5 342.7L460.6 342.7M452.7 342.9L453.0 345.5M452.9 344.0L460.9 344.3M449.6 340.7L449.2 343.1M457.9 335.6L463.0 340.5M470.7 335.2L473.0 340.4M472.1 338.4L481.8 338.6M471.2 336.3L480.8 336.4M476.2 338.5L477.3 340.3M460.3 337.9L464.2 337.7L469.0 338.2L472.4 338.9M459.5 337.1L463.9 337.2L468.1 337.0L471.5 337.1M464.9 335.3L466.2 337.1M464.1 337.1L464.2 338.2M467.5 338.5L468.0 340.4M443.8 338.6L449.5 338.2L453.8 337.8L459.7 337.3M451.4 337.9L453.4 340.6M453.0 337.8L461.8 339.3M450.6 335.8L451.3 338.0M490.6 309.2L492.3 313.9L493.9 319.6L495.1 324.8L496.7 329.5L497.9 334.4M491.4 311.7L497.7 313.0L503.4 314.8L509.1 315.7L514.7 317.6L520.6 318.8L527.1 319.7L532.1 321.2L538.0 323.1L543.9 324.1M520.6 314.2L520.1 318.5M502.7 314.4L508.4 315.9L514.1 316.4L520.3 317.2M507.5 312.1L508.4 315.3M542.1 317.8L545.2 323.7M543.7 320.9L550.2 322.2M527.4 320.2L532.9 319.4L536.6 318.7L542.3 318.2M532.4 319.6L538.9 320.8L543.7 320.9M537.1 320.1L539.7 323.1M493.6 319.5L497.3 319.4L504.0 318.6L508.9 319.1L513.8 319.0L519.3 318.3M501.2 314.1L502.3 319.1M492.1 314.4L501.5 315.5M495.5 325.9L501.6 326.2L507.1 326.7L514.1 326.9L519.0 327.1L525.2 327.8L531.4 328.0M510.2 318.7L509.7 326.7M494.6 322.7L499.5 322.8L505.1 323.8L509.8 324.2M494.7 323.4L499.7 324.6L505.6 325.7L509.7 326.6M501.4 324.8L501.3 326.2M496.7 322.9L501.3 323.8L505.1 325.0L509.7 326.5M501.9 324.4L509.8 324.7M503.8 323.6L504.1 324.4M504.5 325.1L505.1 325.6M495.5 319.4L500.8 320.3L505.0 321.7L509.9 322.7M500.2 320.5L500.3 323.3M510.1 320.9L515.4 321.4L520.0 322.8L525.4 323.4L530.2 324.0L536.0 325.0L540.5 325.2M525.9 319.9L530.3 323.7M520.6 318.6L523.1 322.8M522.0 321.0L526.8 320.7M530.4 323.8L532.2 327.7M509.8 325.1L514.9 324.6L520.4 324.6L525.0 324.4L530.6 324.1M521.9 322.6L524.7 324.4M520.6 324.6L521.2 327.4M510.4 326.8L514.0 333.4M511.8 329.4L517.8 330.1L523.0 330.6M519.0 327.3L521.0 330.4M511.1 328.1L519.4 328.0M520.2 329.2L526.0 328.7L530.6 328.2M512.7 331.0L520.4 330.3M513.4 332.3L518.1 332.1M496.7 329.9L500.9 329.2L506.5 327.9L510.8 327.6M495.9 327.2L500.9 328.1L506.3 328.3M499.3 327.6L500.2 329.3M502.0 326.3L502.3 327.9M498.7 329.6L503.7 331.2L507.5 330.9L513.3 332.2M503.0 328.9L503.9 330.5M503.0 329.0L508.2 330.2L512.8 331.2M503.0 330.3L503.8 334.2M503.2 331.3L508.2 331.9L513.8 333.0M509.5 331.5L509.9 332.4M503.5 332.6L511.7 332.6M508.4 332.6L510.0 334.0M496.9 330.9L503.4 332.2M497.6 333.0L503.6 332.9M441.7 324.9L447.0 323.9L453.6 323.4L459.3 322.8L464.5 322.3L470.7 322.1L476.1 320.5L482.1 320.2L488.1 319.5L493.4 318.9M442.4 329.6L447.8 328.7L454.2 328.0L460.6 327.7L465.4 326.5L471.8 326.0L476.8 325.2L483.2 324.5L489.3 324.5L494.7 323.3M471.4 326.1L474.1 330.5L477.2 335.0M472.3 327.5L478.1 327.8L482.8 327.9L486.0 328.6L492.5 329.5L496.7 330.1M474.5 325.8L480.0 325.4L485.2 325.3L490.3 325.1L495.3 325.3M486.0 324.4L487.1 325.5M484.9 325.5L489.3 329.3M480.4 325.6L481.5 328.5M475.1 325.8L476.1 327.9M475.6 326.8L480.9 326.9M481.4 328.3L487.5 327.7M487.6 327.9L496.1 328.1M489.5 329.3L488.5 334.6M489.2 330.9L497.1 331.5M489.0 332.0L497.5 332.7M493.5 332.4L494.4 334.5M472.7 328.1L478.4 329.4L483.5 330.4L489.1 331.2M479.7 329.4L489.3 330.3M480.6 328.4L480.7 329.5M475.4 332.3L480.2 332.2L484.2 332.9L488.8 332.7M474.4 330.7L478.8 331.1L484.1 331.5L489.1 331.5M472.7 328.1L477.6 329.3L481.0 329.9L485.0 331.3M473.6 329.5L480.5 330.1M479.1 329.3L479.2 329.8M483.1 331.2L482.9 332.5M459.0 327.6L458.2 335.5M458.7 330.2L464.2 330.3L469.7 330.8L475.1 331.8M458.8 329.8L463.9 330.1L468.3 329.1L473.6 329.6M464.5 327.0L466.2 329.7M465.2 328.1L473.1 328.7M468.5 329.7L468.4 331.1M460.3 330.3L465.9 331.7L470.4 333.4L475.8 335.0M467.1 332.4L475.9 333.1M470.0 331.3L470.7 332.7M458.4 333.3L463.5 333.2L469.1 333.0M458.7 330.8L464.5 331.6M470.1 333.3L470.9 335.2M442.8 332.0L448.8 331.5L453.5 331.1L458.7 330.6M443.1 334.3L448.5 333.2L453.4 333.1L458.6 331.9M443.7 334.2L449.0 333.8L453.8 333.5L458.5 332.9M452.6 332.9L452.6 333.4M445.8 334.1L455.5 335.6M451.2 333.6L451.0 334.9M447.9 331.6L455.3 332.4M451.3 331.3L451.5 332.0M446.9 329.1L454.3 331.0M447.5 329.0L453.0 329.3L458.7 330.3M455.3 328.1L455.2 329.9M453.4 329.7L454.7 331.0M448.3 329.5L449.7 331.4M477.1 320.8L478.5 325.3M477.9 323.3L484.0 323.4L488.8 322.6L494.5 322.5M487.0 319.6L487.6 322.8M477.4 321.6L487.3 321.5M484.8 323.0L485.4 324.5M465.2 322.2L465.5 326.9M465.3 324.1L470.4 324.6L472.9 324.1L478.1 323.9M470.7 321.5L478.0 323.6M471.5 324.0L472.0 326.1M450.7 323.9L453.5 328.3M452.0 325.9L456.8 325.8L460.7 325.8L465.4 325.4M460.9 322.7L461.0 325.6M456.1 323.2L459.1 325.7M460.9 324.7L465.3 323.8M460.9 323.1L463.8 324.1M453.1 327.7L458.2 327.0L460.4 327.5L465.5 326.8M441.9 326.4L447.2 326.1L452.0 325.9M442.0 326.9L447.8 328.1L453.0 328.4M445.5 326.2L445.4 327.3M446.7 324.3L447.8 326.1M439.7 311.8L444.7 311.5L452.0 311.9L457.8 312.0L462.3 312.2L468.7 313.2L475.1 313.3L480.2 313.7L485.5 313.9L492.0 314.0M440.4 316.5L446.7 316.6L451.9 316.0L458.9 315.6L463.0 316.3L469.8 315.5L474.5 315.6L480.9 315.5L486.9 315.9L492.4 315.2M475.6 315.6L477.0 320.8M476.2 317.9L481.3 317.9L487.3 318.3L493.3 318.4M462.7 316.0L464.0 322.3M463.2 318.7L467.6 319.4L472.1 319.5L476.8 319.9M471.2 319.4L472.5 321.3M441.0 320.1L446.3 321.0L450.6 321.5L455.4 322.3L460.2 322.8M441.3 322.3L450.2 321.4M452.9 321.7L453.9 323.5M440.6 317.8L446.4 319.3L451.4 319.8L457.7 321.2L463.3 322.4M450.3 319.8L451.0 321.5M440.6 317.8L446.2 318.1L451.2 317.9L457.2 318.5L463.2 318.4M449.5 318.0L449.6 319.6M455.5 318.2L455.8 320.9M455.7 320.1L463.8 321.3M447.4 316.3L448.6 318.0M456.3 312.5L456.1 316.1M480.0 313.5L480.8 315.5M469.6 313.0L468.6 315.8M440.2 315.1L445.8 315.1L450.8 314.6L456.2 314.8M445.3 315.0L445.6 316.4M464.2 304.8L469.3 313.0M481.3 307.7L482.0 313.6M467.8 310.6L472.4 310.0L477.2 309.4L481.5 309.0M438.8 305.8L444.3 306.2L449.3 307.0L454.7 307.2L460.5 307.4L466.1 307.9M449.2 306.6L449.7 312.2M439.4 310.0L444.4 310.0L449.5 309.5M453.8 303.1L455.4 307.1M497.1 301.2L499.2 306.0L500.4 310.9M451.3 302.6L457.6 302.8L464.1 303.1L469.1 304.6L474.7 304.6L480.9 305.0L487.3 305.6L492.1 306.8L499.0 306.7M468.2 304.1L468.8 305.6M482.1 305.3L483.5 308.0M470.1 296.9L472.5 304.4M437.3 295.9L442.6 295.7L447.8 295.4L452.7 295.2L458.8 294.3L464.2 294.5M470.6 298.5L475.7 299.1L482.1 300.0L486.2 300.6L492.5 301.8L497.4 302.0M537.8 302.2L543.8 302.5L549.5 302.7L555.8 302.6L561.7 303.2L567.7 303.3L573.9 303.5L580.1 304.0L586.2 303.9L591.7 304.4M566.2 289.9L567.7 294.1L566.8 298.9L567.8 303.4M547.9 297.4L552.4 297.1L557.1 296.5L562.5 296.2L566.9 296.1M550.1 302.7L547.0 307.6L546.0 313.2L543.5 318.1M499.0 306.7L504.3 307.3L510.6 308.1L516.1 308.7L522.4 310.2L527.9 310.7L534.1 311.3L539.8 312.3L545.6 313.2M527.7 310.7L532.8 316.3M528.8 311.9L533.4 312.9L539.5 314.3L544.7 315.3M521.5 309.8L522.0 314.5M511.1 308.4L515.5 313.4M512.2 303.5L515.4 309.0M515.3 308.8L521.6 308.2L526.7 307.4L532.5 306.9L538.9 305.9L543.6 305.1L549.4 304.3M526.8 307.3L531.0 311.1M531.7 305.2L532.6 306.5M562.8 303.2L563.4 307.9L565.0 312.8L565.0 317.5M547.1 309.7L552.5 309.3L558.3 308.2L563.5 307.8M545.0 314.6L550.1 315.4L554.4 316.3L558.1 317.2L563.5 318.0M545.1 314.3L549.5 314.4L554.6 314.4L559.3 314.8L564.6 314.8M582.7 304.0L585.7 311.1M564.2 312.1L569.3 311.3L574.3 311.8L580.2 311.5L584.8 311.4M621.7 353.8L619.6 358.5L615.9 363.0M417.7 326.2L423.7 326.0L430.0 325.9L434.6 325.6L440.6 324.8L446.1 325.1L451.4 324.8M599.6 308.9L594.4 311.6M528.3 339.2L524.1 341.5L518.9 343.7M541.8 324.3L546.5 325.4L552.0 326.4L556.1 327.3L561.0 328.3L565.5 329.4M530.2 356.0L534.4 353.8L538.5 350.8L542.5 349.1M563.8 307.5L559.9 310.7L556.0 313.6L552.9 316.7M426.4 324.1L431.1 321.1L436.1 318.3L442.2 315.7L446.3 313.0L451.1 310.6L456.5 307.7M458.9 340.0L464.3 342.2L467.9 345.1L472.9 347.2M505.6 330.7L510.7 333.4L516.3 336.4L520.9 339.2L525.5 342.4M459.4 297.8L464.4 299.6L469.6 301.8L474.3 303.7L480.0 305.7L484.8 307.3M439.8 321.6L443.6 324.4L446.6 327.7M507.0 333.9L512.3 335.2L518.2 336.6L523.3 337.9L529.0 339.3L534.2 340.6M447.5 351.7L450.6 350.5L455.4 349.7L459.2 348.0M427.3 347.1L433.1 347.8L437.7 349.0L443.1 349.7L448.4 350.5L454.8 351.1L459.1 352.2L464.9 353.2M473.0 320.8L478.4 321.4L482.7 322.1M501.7 351.1L505.5 353.3L509.4 354.8M464.7 333.6L469.9 332.4L475.5 331.7L480.5 330.7M361.5 302.5L366.3 304.1L369.9 306.1L375.0 309.0L380.3 310.6L384.8 312.7L389.8 314.5M364.3 311.6L368.9 314.7L374.1 317.6L378.5 320.6L384.0 323.3L388.8 326.5M387.3 320.0L392.4 319.3L396.4 317.9L402.1 317.6L407.0 316.2L411.5 314.7L416.9 314.1M487.9 317.9L492.7 320.0L498.6 322.1L503.4 324.1L508.1 326.3L514.0 329.1L518.5 331.1"/><path d="M344.6 290.8L348.1 292.5L353.1 293.3L357.2 294.2L361.3 295.1L365.2 296.7L368.3 298.6L372.5 299.0L376.3 299.2L380.5 299.5L384.2 299.2L388.7 298.8L392.8 298.6L397.3 298.2L402.6 297.9L406.8 298.1L411.2 297.8L416.1 296.6L421.7 296.5L426.1 296.0L429.2 295.1L433.1 294.3L437.2 293.2L441.9 292.5L446.3 291.2L452.0 289.9L456.9 292.0L462.5 293.4L465.0 295.6L467.8 296.9L472.4 297.2L477.2 296.9L481.8 296.9L485.0 297.9L488.8 299.5L493.2 300.4L497.6 301.3L503.3 302.0L509.5 303.2L515.0 303.9L520.3 306.5L525.0 306.6L529.1 306.5L533.9 304.2L538.7 302.3L543.1 299.5L548.0 298.0L552.7 295.6L557.1 293.4L560.6 290.6L563.6 288.4L568.9 291.4L573.7 294.0L578.7 297.2L582.7 299.2L587.1 302.2L591.9 304.9L597.2 308.0L602.0 310.3L607.6 311.1L612.9 311.2L616.8 313.0L620.2 313.9L622.0 316.7L626.2 319.5L630.6 321.8L634.8 324.9L641.2 326.0L645.8 327.6L650.7 328.2L657.2 329.7L662.2 330.4L665.0 333.1L667.4 335.5L669.5 337.7L667.7 340.4L673.1 343.3L677.7 345.9L676.8 347.7L672.4 351.0L668.8 354.0L664.0 356.8L659.3 359.7L654.9 362.3L649.8 362.2L645.2 362.4L640.3 362.3L636.9 364.0L633.0 365.0L628.2 365.4L623.4 366.6L618.4 366.9L613.1 367.8L608.1 368.6L601.5 368.8L596.5 369.6L591.7 368.3L586.9 367.8L583.1 367.0L578.2 366.0L574.2 365.2L569.9 364.5L564.7 363.4L560.0 362.3L555.5 361.1L550.1 360.0L543.6 358.8L538.7 357.5L532.6 356.5L528.6 355.3L523.8 354.7L518.9 355.6L515.0 355.6L508.8 355.9L503.4 356.7L497.6 357.3L491.5 356.7L485.7 356.2L480.0 355.6L474.6 355.3L467.9 355.0L462.5 354.7L456.4 353.8L451.3 352.7L445.0 351.2L438.5 350.1L433.9 349.5L428.0 348.2L421.7 347.6L416.3 346.4L410.8 345.9L405.3 345.1L399.5 343.4L393.0 342.9L387.9 341.4L381.6 341.6L376.1 340.0L370.5 339.1L364.6 338.0L359.8 337.5L353.3 336.2L348.0 335.8L342.0 334.6L341.9 330.2L342.0 325.3L341.1 320.5L341.4 315.1L341.2 309.9L342.0 304.8L342.8 300.2L343.5 295.3L344.6 290.8Z" stroke-width="0.9"/></g><g stroke="#999" stroke-width="0.6" fill="none"><path d="M377 299L388.9 287.3M337.6 335.9L342 334.6M474.3 371.3L487.4 359.5M634.8 324.4L659.5 324.4M658.5 347.7L681.4 350.6M654.9 363.2L681.4 367.8M571 366L572.6 371.5"/></g><text x="1" y="16.8" style='font-family:"Liberation Serif", serif;font-weight:bold' font-size="11" fill="#111">(a)</text><text transform="translate(16.2,42.7) rotate(-90)" font-size="12.3" text-anchor="middle" fill="#4a4a4a">No</text><text transform="translate(31.7,43.0) rotate(-90)" font-size="12.3" text-anchor="middle" fill="#4a4a4a">Stratification</text><text transform="translate(16.5,136.0) rotate(-90)" font-size="12.3" text-anchor="middle" fill="#4a4a4a">Coarse</text><text transform="translate(31.3,136.3) rotate(-90)" font-size="12.3" text-anchor="middle" fill="#4a4a4a">Stratification</text><text transform="translate(16.6,279.8) rotate(-90)" font-size="12.3" text-anchor="middle" fill="#4a4a4a">Fine</text><text transform="translate(31.9,278.6) rotate(-90)" font-size="12.3" text-anchor="middle" fill="#4a4a4a">Stratification</text><path d="M41.5,10.2 C39.5,12.8 39.2,15.3 39.2,18.8 L39.2,30.7 C39.2,34.7 37.3,37.2 37.0,38.7 C37.3,40.2 39.2,42.7 39.2,46.7 L39.2,57.5 C39.2,60.9 39.5,63.4 41.5,66.0" fill="none" stroke="#444" stroke-width="1.4" stroke-linecap="round"/><path d="M41.6,75.4 C39.4,80.2 39.1,85.0 39.1,91.4 L39.1,124.2 C39.1,128.2 36.9,130.7 36.6,132.2 C36.9,133.7 39.1,136.2 39.1,140.2 L39.1,173.0 C39.1,179.4 39.4,184.2 41.6,189.0" fill="none" stroke="#444" stroke-width="1.4" stroke-linecap="round"/><path d="M41.6,197.3 C39.2,202.1 38.9,206.9 38.9,213.3 L38.9,270.5 C38.9,274.5 36.5,277.0 36.2,278.5 C36.5,280.0 38.9,282.5 38.9,286.5 L38.9,343.2 C38.9,349.6 39.2,354.4 41.6,359.2" fill="none" stroke="#444" stroke-width="1.4" stroke-linecap="round"/><line x1="117.0" y1="68.5" x2="110.5" y2="72.8" stroke="#a3a5d6" stroke-width="1.2"/><path d="M103.0,77.8L109.3,69.3L113.3,75.3Z" fill="#a3a5d6"/><line x1="121.4" y1="68.5" x2="125.4" y2="113.3" stroke="#a3a5d6" stroke-width="1.2"/><path d="M126.2,122.8L122.3,112.6L128.3,112.1Z" fill="#a3a5d6"/><line x1="126.4" y1="68.2" x2="136.2" y2="73.3" stroke="#a3a5d6" stroke-width="1.2"/><path d="M144.2,77.4L133.7,76.0L137.0,69.6Z" fill="#a3a5d6"/><line x1="110.6" y1="197.9" x2="90.5" y2="223.3" stroke="#a3a5d6" stroke-width="1.2"/><path d="M84.6,230.7L88.6,220.5L93.6,224.5Z" fill="#a3a5d6"/><line x1="114.4" y1="197.9" x2="114.8" y2="283.2" stroke="#a3a5d6" stroke-width="1.2"/><path d="M114.8,292.7L111.6,282.2L118.0,282.2Z" fill="#a3a5d6"/><line x1="120.1" y1="197.9" x2="143.8" y2="241.5" stroke="#a3a5d6" stroke-width="1.2"/><path d="M148.3,249.8L140.5,242.1L146.1,239.0Z" fill="#a3a5d6"/><line x1="126.0" y1="197.9" x2="145.4" y2="203.0" stroke="#a3a5d6" stroke-width="1.2"/><path d="M155.1,205.6L143.6,205.9L145.3,199.7Z" fill="#a3a5d6"/><g fill="#2b2b2b" stroke="#2b2b2b"><path d="M119.4,18.1L120.2,32.4M120.2,32.4L119.2,47.3M107.9,30.3L120.2,32.4M107.9,30.3L111.4,37.5M111.4,37.5L120.2,32.4M120.2,32.4L128.0,26.0M128.0,26.0L119.2,47.3" fill="none" stroke-width="1.05"/><circle cx="119.4" cy="18.1" r="2.6" stroke="none"/><circle cx="128.0" cy="26.0" r="2.6" stroke="none"/><circle cx="120.2" cy="32.4" r="2.7300000000000004" stroke="none"/><circle cx="107.9" cy="30.3" r="2.6" stroke="none"/><circle cx="111.4" cy="37.5" r="2.6" stroke="none"/><circle cx="119.2" cy="47.3" r="2.6" stroke="none"/></g><g fill="#f5941e" stroke="#f5941e"><path d="M84.7,72.1L85.5,86.4M85.5,86.4L84.5,101.3M73.2,84.3L85.5,86.4M73.2,84.3L76.7,91.5M76.7,91.5L85.5,86.4M85.5,86.4L93.3,80.0M93.3,80.0L84.5,101.3" fill="none" stroke-width="1.05"/><circle cx="84.7" cy="72.1" r="2.6" stroke="none"/><circle cx="93.3" cy="80.0" r="2.6" stroke="none"/><circle cx="85.5" cy="86.4" r="2.7300000000000004" stroke="none"/><circle cx="73.2" cy="84.3" r="2.6" stroke="none"/><circle cx="76.7" cy="91.5" r="2.6" stroke="none"/><circle cx="84.5" cy="101.3" r="2.6" stroke="none"/></g><g fill="#7d2383" stroke="#7d2383"><path d="M158.6,72.1L159.4,86.4M159.4,86.4L158.4,101.3M147.1,84.3L159.4,86.4M147.1,84.3L150.6,91.5M150.6,91.5L159.4,86.4M159.4,86.4L167.2,80.0M167.2,80.0L158.4,101.3" fill="none" stroke-width="1.05"/><circle cx="158.6" cy="72.1" r="2.6" stroke="none"/><circle cx="167.2" cy="80.0" r="2.6" stroke="none"/><circle cx="159.4" cy="86.4" r="2.7300000000000004" stroke="none"/><circle cx="147.1" cy="84.3" r="2.6" stroke="none"/><circle cx="150.6" cy="91.5" r="2.6" stroke="none"/><circle cx="158.4" cy="101.3" r="2.6" stroke="none"/></g><g fill="#2a2cf2" stroke="#2a2cf2"><path d="M128.8,128.2L129.6,142.5M129.6,142.5L128.6,157.4M117.3,140.4L129.6,142.5M117.3,140.4L120.8,147.6M120.8,147.6L129.6,142.5M129.6,142.5L137.4,136.1M137.4,136.1L128.6,157.4" fill="none" stroke-width="1.05"/><circle cx="128.8" cy="128.2" r="2.6" stroke="none"/><circle cx="137.4" cy="136.1" r="2.6" stroke="none"/><circle cx="129.6" cy="142.5" r="2.7300000000000004" stroke="none"/><circle cx="117.3" cy="140.4" r="2.6" stroke="none"/><circle cx="120.8" cy="147.6" r="2.6" stroke="none"/><circle cx="128.6" cy="157.4" r="2.6" stroke="none"/></g><g fill="#2e48a8" stroke="#2e48a8"><path d="M171.4,195.3L172.2,209.6M172.2,209.6L171.2,224.5M159.9,207.5L172.2,209.6M159.9,207.5L163.4,214.7M163.4,214.7L172.2,209.6M172.2,209.6L180.0,203.2M180.0,203.2L171.2,224.5" fill="none" stroke-width="1.05"/><circle cx="171.4" cy="195.3" r="2.6" stroke="none"/><circle cx="180.0" cy="203.2" r="2.6" stroke="none"/><circle cx="172.2" cy="209.6" r="2.7300000000000004" stroke="none"/><circle cx="159.9" cy="207.5" r="2.6" stroke="none"/><circle cx="163.4" cy="214.7" r="2.6" stroke="none"/><circle cx="171.2" cy="224.5" r="2.6" stroke="none"/></g><g fill="#16ade2" stroke="#16ade2"><path d="M80.4,232.3L81.2,246.6M81.2,246.6L80.2,261.5M68.9,244.5L81.2,246.6M68.9,244.5L72.4,251.7M72.4,251.7L81.2,246.6M81.2,246.6L89.0,240.2M89.0,240.2L80.2,261.5" fill="none" stroke-width="1.05"/><circle cx="80.4" cy="232.3" r="2.6" stroke="none"/><circle cx="89.0" cy="240.2" r="2.6" stroke="none"/><circle cx="81.2" cy="246.6" r="2.7300000000000004" stroke="none"/><circle cx="68.9" cy="244.5" r="2.6" stroke="none"/><circle cx="72.4" cy="251.7" r="2.6" stroke="none"/><circle cx="80.2" cy="261.5" r="2.6" stroke="none"/></g><g fill="#93b8e3" stroke="#93b8e3"><path d="M150.4,254.9L151.2,269.2M151.2,269.2L150.2,284.1M138.9,267.1L151.2,269.2M138.9,267.1L142.4,274.3M142.4,274.3L151.2,269.2M151.2,269.2L159.0,262.8M159.0,262.8L150.2,284.1" fill="none" stroke-width="1.05"/><circle cx="150.4" cy="254.9" r="2.6" stroke="none"/><circle cx="159.0" cy="262.8" r="2.6" stroke="none"/><circle cx="151.2" cy="269.2" r="2.7300000000000004" stroke="none"/><circle cx="138.9" cy="267.1" r="2.6" stroke="none"/><circle cx="142.4" cy="274.3" r="2.6" stroke="none"/><circle cx="150.2" cy="284.1" r="2.6" stroke="none"/></g><g fill="#5b8fd3" stroke="#5b8fd3"><path d="M112.7,299.7L113.5,314.0M113.5,314.0L112.5,328.9M101.2,311.9L113.5,314.0M101.2,311.9L104.7,319.1M104.7,319.1L113.5,314.0M113.5,314.0L121.3,307.6M121.3,307.6L112.5,328.9" fill="none" stroke-width="1.05"/><circle cx="112.7" cy="299.7" r="2.6" stroke="none"/><circle cx="121.3" cy="307.6" r="2.6" stroke="none"/><circle cx="113.5" cy="314.0" r="2.7300000000000004" stroke="none"/><circle cx="101.2" cy="311.9" r="2.6" stroke="none"/><circle cx="104.7" cy="319.1" r="2.6" stroke="none"/><circle cx="112.5" cy="328.9" r="2.6" stroke="none"/></g><text x="130.9" y="61.6" font-size="12.3" text-anchor="middle" fill="#262626" >All Movements</text><text x="44.6" y="115.3" font-size="12.3" text-anchor="start" fill="#262626" >Educational</text><text x="44.6" y="130.0" font-size="12.3" text-anchor="start" fill="#262626" >Services (61)</text><text x="201.3" y="114.6" font-size="12.3" text-anchor="middle" fill="#262626" >Accomodation &amp;</text><text x="201.3" y="129.0" font-size="12.3" text-anchor="middle" fill="#262626" >Food Service (72)</text><text x="126.2" y="174.0" font-size="12.3" text-anchor="middle" fill="#262626" >Health Care &amp; Social</text><text x="126.2" y="188.7" font-size="12.3" text-anchor="middle" fill="#262626" >Assistance (62)</text><text x="209.5" y="232.9" font-size="12.3" text-anchor="middle" fill="#262626" >Ambulatory</text><text x="209.2" y="247.8" font-size="12.3" text-anchor="middle" fill="#262626" >Health Care (621)</text><text x="76.3" y="277.9" font-size="12.3" text-anchor="middle" fill="#262626" >Hospitals</text><text x="74.5" y="292.7" font-size="12.3" text-anchor="middle" fill="#262626" >(622)</text><text x="194.9" y="300.4" font-size="12.3" text-anchor="middle" fill="#262626" >Nursing &amp; Residential</text><text x="194.7" y="315.2" font-size="12.3" text-anchor="middle" fill="#262626" >Care Facilities (623)</text><text x="119.8" y="345.7" font-size="12.3" text-anchor="middle" fill="#262626" >Social Assistance</text><text x="120.2" y="360.3" font-size="12.3" text-anchor="middle" fill="#262626" >(624)</text><text x="275.6" y="17.7" style='font-family:"Liberation Serif", serif;font-weight:bold' font-size="11" fill="#111">(b)</text><text transform="translate(307.0,43.9) rotate(-90)" font-size="12.3" text-anchor="middle" fill="#4a4a4a">No</text><text transform="translate(322.4,44.3) rotate(-90)" font-size="12.3" text-anchor="middle" fill="#4a4a4a">Stratification</text><text transform="translate(307.0,138.4) rotate(-90)" font-size="12.3" text-anchor="middle" fill="#4a4a4a">Coarse</text><text transform="translate(322.4,137.9) rotate(-90)" font-size="12.3" text-anchor="middle" fill="#4a4a4a">Stratification</text><text transform="translate(307.0,232.0) rotate(-90)" font-size="12.3" text-anchor="middle" fill="#4a4a4a">Fine</text><text transform="translate(322.4,231.8) rotate(-90)" font-size="12.3" text-anchor="middle" fill="#4a4a4a">Stratification</text><path d="M331.2,8.0 C328.8,11.4 328.5,14.8 328.5,19.3 L328.5,37.7 C328.5,41.7 326.1,44.2 325.8,45.7 C326.1,47.2 328.5,49.7 328.5,53.7 L328.5,71.1 C328.5,75.6 328.8,79.0 331.2,82.4" fill="none" stroke="#444" stroke-width="1.4" stroke-linecap="round"/><path d="M331.2,101.6 C328.8,104.9 328.5,108.2 328.5,112.5 L328.5,130.0 C328.5,134.0 326.1,136.5 325.8,138.0 C326.1,139.5 328.5,142.0 328.5,146.0 L328.5,163.3 C328.5,167.6 328.8,170.9 331.2,174.2" fill="none" stroke="#444" stroke-width="1.4" stroke-linecap="round"/><path d="M331.2,196.3 C328.8,199.6 328.5,202.8 328.5,207.2 L328.5,224.6 C328.5,228.6 326.1,231.1 325.8,232.6 C326.1,234.1 328.5,236.6 328.5,240.6 L328.5,257.9 C328.5,262.3 328.8,265.5 331.2,268.8" fill="none" stroke="#444" stroke-width="1.4" stroke-linecap="round"/><text x="506.0" y="89.6" font-size="12.3" text-anchor="middle" fill="#111" >All Movements</text><text x="505.9" y="194.0" font-size="12.3" text-anchor="middle" fill="#111" >Health Care and Social Assisstance (62)</text><text x="506.1" y="284.4" font-size="12.3" text-anchor="middle" fill="#111" >Hospitals (622)</text><text x="0.5" y="385.8" style='font-family:"Liberation Serif", serif;font-weight:bold' font-size="11" fill="#111">(c)</text><rect x="238.30" y="390.00" width="50.50" height="11.6" fill="#dfbb6f"/><rect x="288.00" y="390.00" width="60.90" height="11.6" fill="#ffc800"/><rect x="348.10" y="390.00" width="66.90" height="11.6" fill="#c9a012"/><rect x="238.30" y="404.48" width="11.20" height="11.6" fill="#6a0dad"/><rect x="248.70" y="404.48" width="163.70" height="11.6" fill="#9370db"/><rect x="238.30" y="418.96" width="17.40" height="11.6" fill="#008000"/><rect x="254.90" y="418.96" width="24.00" height="11.6" fill="#00ff00"/><rect x="238.30" y="433.44" width="92.30" height="11.6" fill="#1e90ff"/><rect x="329.80" y="433.44" width="6.80" height="11.6" fill="#00bfff"/><rect x="335.80" y="433.44" width="6.90" height="11.6" fill="#add8e6"/><rect x="341.90" y="433.44" width="21.70" height="11.6" fill="#87ceeb"/><rect x="238.30" y="447.92" width="19.80" height="11.6" fill="#ffa07a"/><rect x="257.30" y="447.92" width="3.10" height="11.6" fill="#ff8c00"/><rect x="259.60" y="447.92" width="10.40" height="11.6" fill="#ff6347"/><rect x="238.30" y="462.40" width="26.50" height="11.6" fill="#ff1493"/><rect x="264.00" y="462.40" width="6.90" height="11.6" fill="#c71585"/><rect x="238.30" y="476.88" width="12.80" height="11.6" fill="#9e1a35"/><rect x="250.30" y="476.88" width="11.00" height="11.6" fill="#7c1216"/><rect x="260.50" y="476.88" width="28.60" height="11.6" fill="#a3001f"/><rect x="238.30" y="491.36" width="34.50" height="11.6" fill="#007b7b"/><rect x="272.00" y="491.36" width="15.80" height="11.6" fill="#009688"/><rect x="287.00" y="491.36" width="13.00" height="11.6" fill="#20b2aa"/><rect x="299.20" y="491.36" width="11.70" height="11.6" fill="#40e0d0"/><rect x="310.10" y="491.36" width="38.60" height="11.6" fill="#48d1cc"/><rect x="347.90" y="491.36" width="27.60" height="11.6" fill="#5f9ea0"/><rect x="374.70" y="491.36" width="37.30" height="11.6" fill="#66cdcc"/><rect x="411.20" y="491.36" width="26.60" height="11.6" fill="#afeeee"/><rect x="238.30" y="505.84" width="11.30" height="11.6" fill="#778899"/><rect x="248.80" y="505.84" width="7.60" height="11.6" fill="#b0b0b0"/><rect x="255.60" y="505.84" width="5.20" height="11.6" fill="#d8d8d8"/><rect x="260.00" y="505.84" width="6.00" height="11.6" fill="#c0c0c0"/><rect x="265.20" y="505.84" width="12.50" height="11.6" fill="#a8a8a8"/><rect x="276.90" y="505.84" width="7.50" height="11.6" fill="#dcdcdc"/><rect x="283.60" y="505.84" width="8.10" height="11.6" fill="#b4b4b4"/><rect x="290.90" y="505.84" width="16.00" height="11.6" fill="#e0e0e0"/><rect x="306.10" y="505.84" width="49.80" height="11.6" fill="#c8c8c8"/><rect x="355.10" y="505.84" width="18.80" height="11.6" fill="#f2f2f2"/><rect x="373.10" y="505.84" width="6.40" height="11.6" fill="#bebebe"/><rect x="378.70" y="505.84" width="4.90" height="11.6" fill="#cacaca"/><rect x="469.10" y="390.00" width="6.20" height="11.6" fill="#dfbb6f"/><rect x="474.50" y="390.00" width="4.50" height="11.6" fill="#ffc800"/><rect x="478.20" y="390.00" width="9.70" height="11.6" fill="#c9a012"/><rect x="469.10" y="404.48" width="5.40" height="11.6" fill="#6a0dad"/><rect x="473.70" y="404.48" width="195.20" height="11.6" fill="#9370db"/><rect x="469.10" y="418.96" width="18.70" height="11.6" fill="#008000"/><rect x="487.00" y="418.96" width="20.90" height="11.6" fill="#00ff00"/><rect x="469.10" y="433.44" width="13.60" height="11.6" fill="#1e90ff"/><rect x="481.90" y="433.44" width="8.10" height="11.6" fill="#00bfff"/><rect x="489.20" y="433.44" width="7.90" height="11.6" fill="#87ceeb"/><rect x="469.10" y="447.92" width="17.30" height="11.6" fill="#ffa07a"/><rect x="485.60" y="447.92" width="1.80" height="11.6" fill="#ff8c00"/><rect x="486.60" y="447.92" width="1.10" height="11.6" fill="#ff6347"/><rect x="469.10" y="462.40" width="93.40" height="11.6" fill="#ff1493"/><rect x="469.10" y="476.88" width="14.80" height="11.6" fill="#9e1a35"/><rect x="483.10" y="476.88" width="74.00" height="11.6" fill="#7c1216"/><rect x="556.30" y="476.88" width="21.30" height="11.6" fill="#a3001f"/><rect x="469.10" y="491.36" width="15.10" height="11.6" fill="#007b7b"/><rect x="483.40" y="491.36" width="6.50" height="11.6" fill="#009688"/><rect x="489.10" y="491.36" width="5.50" height="11.6" fill="#20b2aa"/><rect x="493.80" y="491.36" width="16.10" height="11.6" fill="#40e0d0"/><rect x="509.10" y="491.36" width="53.50" height="11.6" fill="#48d1cc"/><rect x="561.80" y="491.36" width="23.80" height="11.6" fill="#5f9ea0"/><rect x="584.80" y="491.36" width="64.90" height="11.6" fill="#66cdcc"/><rect x="648.90" y="491.36" width="13.80" height="11.6" fill="#afeeee"/><rect x="469.10" y="505.84" width="2.00" height="11.6" fill="#778899"/><rect x="470.30" y="505.84" width="3.70" height="11.6" fill="#d0d0d0"/><rect x="473.20" y="505.84" width="3.30" height="11.6" fill="#a8a8a8"/><rect x="475.70" y="505.84" width="7.00" height="11.6" fill="#e0e0e0"/><rect x="481.90" y="505.84" width="2.60" height="11.6" fill="#b4b4b4"/><rect x="483.70" y="505.84" width="3.70" height="11.6" fill="#e8e8e8"/><rect x="486.60" y="505.84" width="6.10" height="11.6" fill="#c8c8c8"/><rect x="491.90" y="505.84" width="3.10" height="11.6" fill="#f0f0f0"/><rect x="494.20" y="505.84" width="1.40" height="11.6" fill="#c8c8c8"/><rect x="238.3" y="383.2" width="209.7" height="140.3" fill="none" stroke="#000" stroke-width="1.1"/><line x1="234.5" y1="395.80" x2="238.3" y2="395.80" stroke="#000" stroke-width="1"/><line x1="234.5" y1="410.28" x2="238.3" y2="410.28" stroke="#000" stroke-width="1"/><line x1="234.5" y1="424.76" x2="238.3" y2="424.76" stroke="#000" stroke-width="1"/><line x1="234.5" y1="439.24" x2="238.3" y2="439.24" stroke="#000" stroke-width="1"/><line x1="234.5" y1="453.72" x2="238.3" y2="453.72" stroke="#000" stroke-width="1"/><line x1="234.5" y1="468.20" x2="238.3" y2="468.20" stroke="#000" stroke-width="1"/><line x1="234.5" y1="482.68" x2="238.3" y2="482.68" stroke="#000" stroke-width="1"/><line x1="234.5" y1="497.16" x2="238.3" y2="497.16" stroke="#000" stroke-width="1"/><line x1="234.5" y1="511.64" x2="238.3" y2="511.64" stroke="#000" stroke-width="1"/><line x1="238.3" y1="523.5" x2="238.3" y2="527.3" stroke="#000" stroke-width="1"/><text x="238.3" y="541.7" font-size="12.2" text-anchor="middle" textLength="7.2" lengthAdjust="spacingAndGlyphs" fill="#000">0</text><line x1="307.6" y1="523.5" x2="307.6" y2="527.3" stroke="#000" stroke-width="1"/><text x="307.6" y="541.7" font-size="12.2" text-anchor="middle" textLength="16.5" lengthAdjust="spacingAndGlyphs" fill="#000">5K</text><line x1="377.0" y1="523.5" x2="377.0" y2="527.3" stroke="#000" stroke-width="1"/><text x="377.0" y="541.7" font-size="12.2" text-anchor="middle" textLength="23.2" lengthAdjust="spacingAndGlyphs" fill="#000">10K</text><line x1="446.4" y1="523.5" x2="446.4" y2="527.3" stroke="#000" stroke-width="1"/><text x="446.4" y="541.7" font-size="12.2" text-anchor="middle" textLength="23.5" lengthAdjust="spacingAndGlyphs" fill="#000">15K</text><text x="343.3" y="557.6" font-size="12.2" text-anchor="middle" textLength="96.5" lengthAdjust="spacingAndGlyphs" fill="#000">Number of POIs</text><text x="230.0" y="400.20" font-size="12.2" text-anchor="end" textLength="90.7" lengthAdjust="spacingAndGlyphs" fill="#000">Other Services</text><text x="230.0" y="414.68" font-size="12.2" text-anchor="end" textLength="217.0" lengthAdjust="spacingAndGlyphs" fill="#000">Accommodation and Food Services</text><text x="230.0" y="429.16" font-size="12.2" text-anchor="end" textLength="223.7" lengthAdjust="spacingAndGlyphs" fill="#000">Arts, Entertainment, and Recreation</text><text x="230.0" y="443.64" font-size="12.2" text-anchor="end" textLength="210.7" lengthAdjust="spacingAndGlyphs" fill="#000">Health Care and Social Assistance</text><text x="230.0" y="458.12" font-size="12.2" text-anchor="end" textLength="128.4" lengthAdjust="spacingAndGlyphs" fill="#000">Educational Services</text><text x="230.0" y="472.60" font-size="12.2" text-anchor="end" textLength="218.4" lengthAdjust="spacingAndGlyphs" fill="#000">Real Estate and Rental and Leasing</text><text x="230.0" y="487.08" font-size="12.2" text-anchor="end" textLength="84.6" lengthAdjust="spacingAndGlyphs" fill="#000">Retail Trade 2</text><text x="230.0" y="501.56" font-size="12.2" text-anchor="end" textLength="84.6" lengthAdjust="spacingAndGlyphs" fill="#000">Retail Trade 1</text><text x="230.0" y="516.04" font-size="12.2" text-anchor="end" textLength="93.4" lengthAdjust="spacingAndGlyphs" fill="#000">Low Movement</text><rect x="469.1" y="383.2" width="209.3" height="140.3" fill="none" stroke="#000" stroke-width="1.1"/><line x1="465.3" y1="395.80" x2="469.1" y2="395.80" stroke="#000" stroke-width="1"/><line x1="465.3" y1="410.28" x2="469.1" y2="410.28" stroke="#000" stroke-width="1"/><line x1="465.3" y1="424.76" x2="469.1" y2="424.76" stroke="#000" stroke-width="1"/><line x1="465.3" y1="439.24" x2="469.1" y2="439.24" stroke="#000" stroke-width="1"/><line x1="465.3" y1="453.72" x2="469.1" y2="453.72" stroke="#000" stroke-width="1"/><line x1="465.3" y1="468.20" x2="469.1" y2="468.20" stroke="#000" stroke-width="1"/><line x1="465.3" y1="482.68" x2="469.1" y2="482.68" stroke="#000" stroke-width="1"/><line x1="465.3" y1="497.16" x2="469.1" y2="497.16" stroke="#000" stroke-width="1"/><line x1="465.3" y1="511.64" x2="469.1" y2="511.64" stroke="#000" stroke-width="1"/><line x1="469.1" y1="523.5" x2="469.1" y2="527.3" stroke="#000" stroke-width="1"/><text x="469.1" y="541.7" font-size="12.2" text-anchor="middle" textLength="7.2" lengthAdjust="spacingAndGlyphs" fill="#000">0</text><line x1="533.2" y1="523.5" x2="533.2" y2="527.3" stroke="#000" stroke-width="1"/><text x="533.2" y="541.7" font-size="12.2" text-anchor="middle" textLength="20.0" lengthAdjust="spacingAndGlyphs" fill="#000">5M</text><line x1="597.4" y1="523.5" x2="597.4" y2="527.3" stroke="#000" stroke-width="1"/><text x="597.4" y="541.7" font-size="12.2" text-anchor="middle" textLength="26.5" lengthAdjust="spacingAndGlyphs" fill="#000">10M</text><line x1="661.5" y1="523.5" x2="661.5" y2="527.3" stroke="#000" stroke-width="1"/><text x="661.5" y="541.7" font-size="12.2" text-anchor="middle" textLength="26.5" lengthAdjust="spacingAndGlyphs" fill="#000">15M</text><text x="574.5" y="557.6" font-size="12.2" text-anchor="middle" textLength="105.0" lengthAdjust="spacingAndGlyphs" fill="#000">Total Movements</text></svg>
</body></html>
